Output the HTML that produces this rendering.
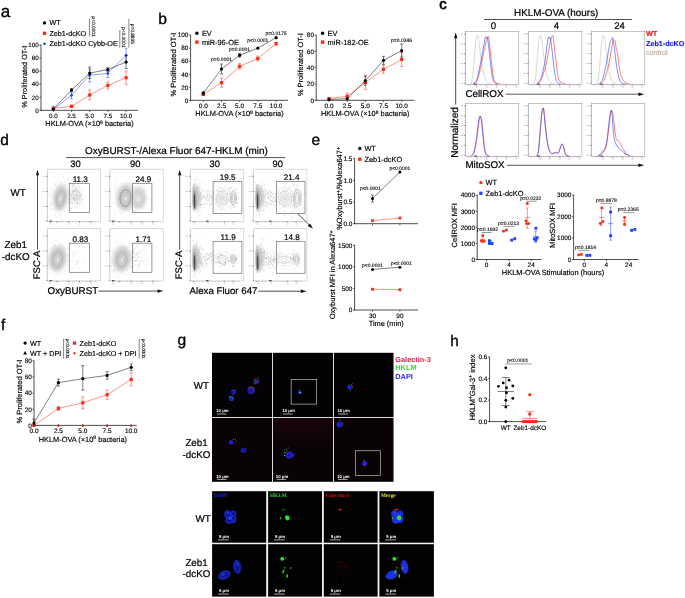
<!DOCTYPE html>
<html lang="en">
<head>
<meta charset="utf-8">
<title>Figure</title>
<style>
html,body{margin:0;padding:0;background:#fff;}
body{width:685px;height:598px;overflow:hidden;}
svg{display:block;}
svg text{font-family:"Liberation Sans",Arial,Helvetica,sans-serif;text-rendering:geometricPrecision;}
</style>
</head>
<body>
<svg width="685" height="598" viewBox="0 0 685 598">
<defs>
<filter id="bl" x="-50%" y="-50%" width="200%" height="200%"><feGaussianBlur stdDeviation="0.7"/></filter>
<filter id="bm" x="-50%" y="-50%" width="200%" height="200%"><feGaussianBlur stdDeviation="0.9"/></filter>
<filter id="bs" x="-100%" y="-100%" width="300%" height="300%"><feGaussianBlur stdDeviation="0.3"/></filter>
<linearGradient id="hz" x1="0" y1="0" x2="0" y2="1"><stop offset="0" stop-color="#3a0812" stop-opacity="0.3"/><stop offset="1" stop-color="#3a0812" stop-opacity="0"/></linearGradient>
</defs>
<rect x="0" y="0" width="685" height="598" fill="#fff"/>
<text x="0.8" y="16.8" font-size="17" text-anchor="start" fill="#000" stroke="#000" stroke-width="0.37" >a</text>
<text x="158.2" y="23.8" font-size="15.6" text-anchor="start" fill="#000" stroke="#000" stroke-width="0.34" >b</text>
<text x="439.3" y="9" font-size="14.8" text-anchor="start" fill="#000" stroke="#000" stroke-width="0.7" >c</text>
<text x="0.2" y="145" font-size="15.4" text-anchor="start" fill="#000" stroke="#000" stroke-width="0.34" >d</text>
<text x="311.4" y="144.6" font-size="15.6" text-anchor="start" fill="#000" stroke="#000" stroke-width="0.34" >e</text>
<text x="1" y="330.4" font-size="15.5" text-anchor="start" fill="#000" stroke="#000" stroke-width="0.34" >f</text>
<text x="177.6" y="345.4" font-size="15.6" text-anchor="start" fill="#000" stroke="#000" stroke-width="0.34" >g</text>
<text x="450.2" y="346.3" font-size="15.3" text-anchor="start" fill="#000" stroke="#000" stroke-width="0.34" >h</text>
<line x1="41" y1="44.7" x2="41" y2="110.7" stroke="#222" stroke-width="0.8" />
<line x1="40.6" y1="110.3" x2="138" y2="110.3" stroke="#222" stroke-width="0.8" />
<line x1="53.3" y1="110.3" x2="53.3" y2="111.9" stroke="#222" stroke-width="0.7" />
<text x="53.3" y="118.14" font-size="6.25" text-anchor="middle" fill="#000" stroke="#000" stroke-width="0.14" >0.0</text>
<line x1="71.5" y1="110.3" x2="71.5" y2="111.9" stroke="#222" stroke-width="0.7" />
<text x="71.5" y="118.14" font-size="6.25" text-anchor="middle" fill="#000" stroke="#000" stroke-width="0.14" >2.5</text>
<line x1="89.7" y1="110.3" x2="89.7" y2="111.9" stroke="#222" stroke-width="0.7" />
<text x="89.7" y="118.14" font-size="6.25" text-anchor="middle" fill="#000" stroke="#000" stroke-width="0.14" >5.0</text>
<line x1="107.8" y1="110.3" x2="107.8" y2="111.9" stroke="#222" stroke-width="0.7" />
<text x="107.8" y="118.14" font-size="6.25" text-anchor="middle" fill="#000" stroke="#000" stroke-width="0.14" >7.5</text>
<line x1="126.1" y1="110.3" x2="126.1" y2="111.9" stroke="#222" stroke-width="0.7" />
<text x="126.1" y="118.14" font-size="6.25" text-anchor="middle" fill="#000" stroke="#000" stroke-width="0.14" >10.0</text>
<line x1="39.4" y1="110.3" x2="41" y2="110.3" stroke="#222" stroke-width="0.7" />
<text x="38.8" y="112.54" font-size="6.25" text-anchor="end" fill="#000" stroke="#000" stroke-width="0.14" >0</text>
<line x1="39.4" y1="97.26" x2="41" y2="97.26" stroke="#222" stroke-width="0.7" />
<text x="38.8" y="99.5" font-size="6.25" text-anchor="end" fill="#000" stroke="#000" stroke-width="0.14" >20</text>
<line x1="39.4" y1="84.22" x2="41" y2="84.22" stroke="#222" stroke-width="0.7" />
<text x="38.8" y="86.46" font-size="6.25" text-anchor="end" fill="#000" stroke="#000" stroke-width="0.14" >40</text>
<line x1="39.4" y1="71.18" x2="41" y2="71.18" stroke="#222" stroke-width="0.7" />
<text x="38.8" y="73.42" font-size="6.25" text-anchor="end" fill="#000" stroke="#000" stroke-width="0.14" >60</text>
<line x1="39.4" y1="58.14" x2="41" y2="58.14" stroke="#222" stroke-width="0.7" />
<text x="38.8" y="60.38" font-size="6.25" text-anchor="end" fill="#000" stroke="#000" stroke-width="0.14" >80</text>
<line x1="39.4" y1="45.1" x2="41" y2="45.1" stroke="#222" stroke-width="0.7" />
<text x="38.8" y="47.34" font-size="6.25" text-anchor="end" fill="#000" stroke="#000" stroke-width="0.14" >100</text>
<text x="89.5" y="126.25" font-size="7.4" text-anchor="middle" fill="#000" stroke="#000" stroke-width="0.16" >HKLM-OVA (×10<tspan font-size="5.03" dy="-2.4">8</tspan><tspan dy="2.4"> bacteria)</tspan></text>
<text x="26.81" y="76.7" font-size="7.3" text-anchor="middle" fill="#000" stroke="#000" stroke-width="0.16" transform="rotate(-90 26.81 76.7)">% Proliferated OT-I</text>
<polyline points="53.3,108.34 71.5,106.39 89.7,94.98 107.8,85.52 126.1,77.7" fill="none" stroke="#fb2a14" stroke-width="0.5"/>
<line x1="53.3" y1="106.34" x2="53.3" y2="110.34" stroke="#fb2a14" stroke-width="0.5" />
<line x1="51.8" y1="106.34" x2="54.8" y2="106.34" stroke="#fb2a14" stroke-width="0.5" />
<line x1="51.8" y1="110.34" x2="54.8" y2="110.34" stroke="#fb2a14" stroke-width="0.5" />
<line x1="71.5" y1="105.19" x2="71.5" y2="107.59" stroke="#fb2a14" stroke-width="0.5" />
<line x1="70" y1="105.19" x2="73" y2="105.19" stroke="#fb2a14" stroke-width="0.5" />
<line x1="70" y1="107.59" x2="73" y2="107.59" stroke="#fb2a14" stroke-width="0.5" />
<line x1="89.7" y1="90.18" x2="89.7" y2="99.78" stroke="#fb2a14" stroke-width="0.5" />
<line x1="88.2" y1="90.18" x2="91.2" y2="90.18" stroke="#fb2a14" stroke-width="0.5" />
<line x1="88.2" y1="99.78" x2="91.2" y2="99.78" stroke="#fb2a14" stroke-width="0.5" />
<line x1="107.8" y1="81.92" x2="107.8" y2="89.12" stroke="#fb2a14" stroke-width="0.5" />
<line x1="106.3" y1="81.92" x2="109.3" y2="81.92" stroke="#fb2a14" stroke-width="0.5" />
<line x1="106.3" y1="89.12" x2="109.3" y2="89.12" stroke="#fb2a14" stroke-width="0.5" />
<line x1="126.1" y1="71.1" x2="126.1" y2="84.3" stroke="#fb2a14" stroke-width="0.5" />
<line x1="124.6" y1="71.1" x2="127.6" y2="71.1" stroke="#fb2a14" stroke-width="0.5" />
<line x1="124.6" y1="84.3" x2="127.6" y2="84.3" stroke="#fb2a14" stroke-width="0.5" />
<rect x="51.7" y="106.74" width="3.2" height="3.2" fill="#fb2a14" stroke="none" stroke-width="0.8" />
<rect x="69.9" y="104.79" width="3.2" height="3.2" fill="#fb2a14" stroke="none" stroke-width="0.8" />
<rect x="88.1" y="93.38" width="3.2" height="3.2" fill="#fb2a14" stroke="none" stroke-width="0.8" />
<rect x="106.2" y="83.92" width="3.2" height="3.2" fill="#fb2a14" stroke="none" stroke-width="0.8" />
<rect x="124.5" y="76.1" width="3.2" height="3.2" fill="#fb2a14" stroke="none" stroke-width="0.8" />
<polyline points="53.3,109.65 71.5,95.3 89.7,75.09 107.8,73.46 126.1,55.21" fill="none" stroke="#1f45ff" stroke-width="0.5"/>
<line x1="71.5" y1="91.8" x2="71.5" y2="98.8" stroke="#1f45ff" stroke-width="0.5" />
<line x1="70" y1="91.8" x2="73" y2="91.8" stroke="#1f45ff" stroke-width="0.5" />
<line x1="70" y1="98.8" x2="73" y2="98.8" stroke="#1f45ff" stroke-width="0.5" />
<line x1="89.7" y1="69.09" x2="89.7" y2="82.09" stroke="#1f45ff" stroke-width="0.5" />
<line x1="88.2" y1="69.09" x2="91.2" y2="69.09" stroke="#1f45ff" stroke-width="0.5" />
<line x1="88.2" y1="82.09" x2="91.2" y2="82.09" stroke="#1f45ff" stroke-width="0.5" />
<line x1="107.8" y1="70.46" x2="107.8" y2="77.46" stroke="#1f45ff" stroke-width="0.5" />
<line x1="106.3" y1="70.46" x2="109.3" y2="70.46" stroke="#1f45ff" stroke-width="0.5" />
<line x1="106.3" y1="77.46" x2="109.3" y2="77.46" stroke="#1f45ff" stroke-width="0.5" />
<line x1="126.1" y1="48.21" x2="126.1" y2="62.21" stroke="#1f45ff" stroke-width="0.5" />
<line x1="124.6" y1="48.21" x2="127.6" y2="48.21" stroke="#1f45ff" stroke-width="0.5" />
<line x1="124.6" y1="62.21" x2="127.6" y2="62.21" stroke="#1f45ff" stroke-width="0.5" />
<path d="M53.3 107.92L55.02 109.65L53.3 111.37L51.57 109.65Z" fill="#1f45ff" stroke="none" stroke-width="0.6" />
<path d="M71.5 93.58L73.22 95.3L71.5 97.03L69.78 95.3Z" fill="#1f45ff" stroke="none" stroke-width="0.6" />
<path d="M89.7 73.37L91.42 75.09L89.7 76.82L87.98 75.09Z" fill="#1f45ff" stroke="none" stroke-width="0.6" />
<path d="M107.8 71.74L109.52 73.46L107.8 75.19L106.08 73.46Z" fill="#1f45ff" stroke="none" stroke-width="0.6" />
<path d="M126.1 53.48L127.82 55.21L126.1 56.93L124.38 55.21Z" fill="#1f45ff" stroke="none" stroke-width="0.6" />
<polyline points="53.3,109 71.5,90.09 89.7,73.14 107.8,69.55 126.1,62.05" fill="none" stroke="#000" stroke-width="0.5"/>
<line x1="71.5" y1="88.59" x2="71.5" y2="91.59" stroke="#000" stroke-width="0.5" />
<line x1="70" y1="88.59" x2="73" y2="88.59" stroke="#000" stroke-width="0.5" />
<line x1="70" y1="91.59" x2="73" y2="91.59" stroke="#000" stroke-width="0.5" />
<line x1="89.7" y1="67.14" x2="89.7" y2="78.64" stroke="#000" stroke-width="0.5" />
<line x1="88.2" y1="67.14" x2="91.2" y2="67.14" stroke="#000" stroke-width="0.5" />
<line x1="88.2" y1="78.64" x2="91.2" y2="78.64" stroke="#000" stroke-width="0.5" />
<line x1="107.8" y1="67.75" x2="107.8" y2="71.35" stroke="#000" stroke-width="0.5" />
<line x1="106.3" y1="67.75" x2="109.3" y2="67.75" stroke="#000" stroke-width="0.5" />
<line x1="106.3" y1="71.35" x2="109.3" y2="71.35" stroke="#000" stroke-width="0.5" />
<line x1="126.1" y1="55.55" x2="126.1" y2="68.55" stroke="#000" stroke-width="0.5" />
<line x1="124.6" y1="55.55" x2="127.6" y2="55.55" stroke="#000" stroke-width="0.5" />
<line x1="124.6" y1="68.55" x2="127.6" y2="68.55" stroke="#000" stroke-width="0.5" />
<circle cx="53.3" cy="109" r="1.6" fill="#000" stroke="none" stroke-width="0" />
<circle cx="71.5" cy="90.09" r="1.6" fill="#000" stroke="none" stroke-width="0" />
<circle cx="89.7" cy="73.14" r="1.6" fill="#000" stroke="none" stroke-width="0" />
<circle cx="107.8" cy="69.55" r="1.6" fill="#000" stroke="none" stroke-width="0" />
<circle cx="126.1" cy="62.05" r="1.6" fill="#000" stroke="none" stroke-width="0" />
<circle cx="44.5" cy="22.9" r="1.7" fill="#000" stroke="none" stroke-width="0" />
<text x="49.4" y="25.48" font-size="7.2" text-anchor="start" fill="#000" stroke="#000" stroke-width="0.16" >WT</text>
<rect x="42.8" y="31.65" width="3.4" height="3.4" fill="#fb2a14" stroke="none" stroke-width="0.8" />
<text x="49.4" y="35.93" font-size="7.2" text-anchor="start" fill="#000" stroke="#000" stroke-width="0.16" >Zeb1-dcKO</text>
<path d="M44.5 42.13L46.17 43.8L44.5 45.47L42.83 43.8Z" fill="#1f45ff" stroke="none" stroke-width="0.6" />
<text x="49.4" y="46.38" font-size="7.2" text-anchor="start" fill="#000" stroke="#000" stroke-width="0.16" >Zeb1-dcKO Cybb-OE</text>
<line x1="89.4" y1="18.8" x2="89.4" y2="36.5" stroke="#333" stroke-width="0.6" />
<text x="91.78" y="26.6" font-size="4.8" text-anchor="middle" fill="#000" stroke="#000" stroke-width="0.11" transform="rotate(90 91.78 26.6)">p&lt;0.0001</text>
<line x1="119.8" y1="30.1" x2="119.8" y2="47.7" stroke="#333" stroke-width="0.6" />
<text x="121.58" y="37.3" font-size="4.8" text-anchor="middle" fill="#000" stroke="#000" stroke-width="0.11" transform="rotate(90 121.58 37.3)">p&lt;0.0001</text>
<line x1="128.9" y1="18.8" x2="128.9" y2="47.7" stroke="#333" stroke-width="0.6" />
<text x="131.28" y="33.8" font-size="4.8" text-anchor="middle" fill="#000" stroke="#000" stroke-width="0.11" transform="rotate(90 131.28 33.8)">p=0.8835</text>
<line x1="190.6" y1="34.7" x2="190.6" y2="100.7" stroke="#222" stroke-width="0.8" />
<line x1="190.2" y1="100.3" x2="288" y2="100.3" stroke="#222" stroke-width="0.8" />
<line x1="203.3" y1="100.3" x2="203.3" y2="101.9" stroke="#222" stroke-width="0.7" />
<text x="203.3" y="108.21" font-size="6.45" text-anchor="middle" fill="#000" stroke="#000" stroke-width="0.14" >0.0</text>
<line x1="221.5" y1="100.3" x2="221.5" y2="101.9" stroke="#222" stroke-width="0.7" />
<text x="221.5" y="108.21" font-size="6.45" text-anchor="middle" fill="#000" stroke="#000" stroke-width="0.14" >2.5</text>
<line x1="239.6" y1="100.3" x2="239.6" y2="101.9" stroke="#222" stroke-width="0.7" />
<text x="239.6" y="108.21" font-size="6.45" text-anchor="middle" fill="#000" stroke="#000" stroke-width="0.14" >5.0</text>
<line x1="257.8" y1="100.3" x2="257.8" y2="101.9" stroke="#222" stroke-width="0.7" />
<text x="257.8" y="108.21" font-size="6.45" text-anchor="middle" fill="#000" stroke="#000" stroke-width="0.14" >7.5</text>
<line x1="276.1" y1="100.3" x2="276.1" y2="101.9" stroke="#222" stroke-width="0.7" />
<text x="276.1" y="108.21" font-size="6.45" text-anchor="middle" fill="#000" stroke="#000" stroke-width="0.14" >10.0</text>
<line x1="189" y1="100.3" x2="190.6" y2="100.3" stroke="#222" stroke-width="0.7" />
<text x="188.4" y="102.61" font-size="6.45" text-anchor="end" fill="#000" stroke="#000" stroke-width="0.14" >0</text>
<line x1="189" y1="87.26" x2="190.6" y2="87.26" stroke="#222" stroke-width="0.7" />
<text x="188.4" y="89.57" font-size="6.45" text-anchor="end" fill="#000" stroke="#000" stroke-width="0.14" >20</text>
<line x1="189" y1="74.22" x2="190.6" y2="74.22" stroke="#222" stroke-width="0.7" />
<text x="188.4" y="76.53" font-size="6.45" text-anchor="end" fill="#000" stroke="#000" stroke-width="0.14" >40</text>
<line x1="189" y1="61.18" x2="190.6" y2="61.18" stroke="#222" stroke-width="0.7" />
<text x="188.4" y="63.49" font-size="6.45" text-anchor="end" fill="#000" stroke="#000" stroke-width="0.14" >60</text>
<line x1="189" y1="48.14" x2="190.6" y2="48.14" stroke="#222" stroke-width="0.7" />
<text x="188.4" y="50.45" font-size="6.45" text-anchor="end" fill="#000" stroke="#000" stroke-width="0.14" >80</text>
<line x1="189" y1="35.1" x2="190.6" y2="35.1" stroke="#222" stroke-width="0.7" />
<text x="188.4" y="37.41" font-size="6.45" text-anchor="end" fill="#000" stroke="#000" stroke-width="0.14" >100</text>
<text x="239.5" y="116.45" font-size="7.4" text-anchor="middle" fill="#000" stroke="#000" stroke-width="0.16" >HKLM-OVA (×10<tspan font-size="5.03" dy="-2.4">8</tspan><tspan dy="2.4"> bacteria)</tspan></text>
<text x="175.69" y="64.6" font-size="7.5" text-anchor="middle" fill="#000" stroke="#000" stroke-width="0.16" transform="rotate(-90 175.69 64.6)">% Proliferated OT-I</text>
<polyline points="203.3,94.43 221.5,82.7 239.6,66.4 257.8,58.57 276.1,43.58" fill="none" stroke="#fb2a14" stroke-width="0.5"/>
<line x1="203.3" y1="93.23" x2="203.3" y2="95.63" stroke="#fb2a14" stroke-width="0.5" />
<line x1="201.8" y1="93.23" x2="204.8" y2="93.23" stroke="#fb2a14" stroke-width="0.5" />
<line x1="201.8" y1="95.63" x2="204.8" y2="95.63" stroke="#fb2a14" stroke-width="0.5" />
<line x1="221.5" y1="78.2" x2="221.5" y2="87.2" stroke="#fb2a14" stroke-width="0.5" />
<line x1="220" y1="78.2" x2="223" y2="78.2" stroke="#fb2a14" stroke-width="0.5" />
<line x1="220" y1="87.2" x2="223" y2="87.2" stroke="#fb2a14" stroke-width="0.5" />
<line x1="239.6" y1="63.6" x2="239.6" y2="69.2" stroke="#fb2a14" stroke-width="0.5" />
<line x1="238.1" y1="63.6" x2="241.1" y2="63.6" stroke="#fb2a14" stroke-width="0.5" />
<line x1="238.1" y1="69.2" x2="241.1" y2="69.2" stroke="#fb2a14" stroke-width="0.5" />
<line x1="257.8" y1="56.07" x2="257.8" y2="61.07" stroke="#fb2a14" stroke-width="0.5" />
<line x1="256.3" y1="56.07" x2="259.3" y2="56.07" stroke="#fb2a14" stroke-width="0.5" />
<line x1="256.3" y1="61.07" x2="259.3" y2="61.07" stroke="#fb2a14" stroke-width="0.5" />
<line x1="276.1" y1="42.08" x2="276.1" y2="45.08" stroke="#fb2a14" stroke-width="0.5" />
<line x1="274.6" y1="42.08" x2="277.6" y2="42.08" stroke="#fb2a14" stroke-width="0.5" />
<line x1="274.6" y1="45.08" x2="277.6" y2="45.08" stroke="#fb2a14" stroke-width="0.5" />
<rect x="201.7" y="92.83" width="3.2" height="3.2" fill="#fb2a14" stroke="none" stroke-width="0.8" />
<rect x="219.9" y="81.1" width="3.2" height="3.2" fill="#fb2a14" stroke="none" stroke-width="0.8" />
<rect x="238" y="64.8" width="3.2" height="3.2" fill="#fb2a14" stroke="none" stroke-width="0.8" />
<rect x="256.2" y="56.97" width="3.2" height="3.2" fill="#fb2a14" stroke="none" stroke-width="0.8" />
<rect x="274.5" y="41.98" width="3.2" height="3.2" fill="#fb2a14" stroke="none" stroke-width="0.8" />
<polyline points="203.3,93.13 221.5,69 239.6,55.31 257.8,48.14 276.1,37.71" fill="none" stroke="#000" stroke-width="0.5"/>
<line x1="203.3" y1="91.63" x2="203.3" y2="94.63" stroke="#000" stroke-width="0.5" />
<line x1="201.8" y1="91.63" x2="204.8" y2="91.63" stroke="#000" stroke-width="0.5" />
<line x1="201.8" y1="94.63" x2="204.8" y2="94.63" stroke="#000" stroke-width="0.5" />
<line x1="221.5" y1="64" x2="221.5" y2="74" stroke="#000" stroke-width="0.5" />
<line x1="220" y1="64" x2="223" y2="64" stroke="#000" stroke-width="0.5" />
<line x1="220" y1="74" x2="223" y2="74" stroke="#000" stroke-width="0.5" />
<line x1="239.6" y1="53.51" x2="239.6" y2="57.11" stroke="#000" stroke-width="0.5" />
<line x1="238.1" y1="53.51" x2="241.1" y2="53.51" stroke="#000" stroke-width="0.5" />
<line x1="238.1" y1="57.11" x2="241.1" y2="57.11" stroke="#000" stroke-width="0.5" />
<circle cx="203.3" cy="93.13" r="1.6" fill="#000" stroke="none" stroke-width="0" />
<circle cx="221.5" cy="69" r="1.6" fill="#000" stroke="none" stroke-width="0" />
<circle cx="239.6" cy="55.31" r="1.6" fill="#000" stroke="none" stroke-width="0" />
<circle cx="257.8" cy="48.14" r="1.6" fill="#000" stroke="none" stroke-width="0" />
<circle cx="276.1" cy="37.71" r="1.6" fill="#000" stroke="none" stroke-width="0" />
<circle cx="196.9" cy="33.3" r="1.7" fill="#000" stroke="none" stroke-width="0" />
<text x="201.9" y="35.95" font-size="7.4" text-anchor="start" fill="#000" stroke="#000" stroke-width="0.16" >EV</text>
<rect x="195.2" y="40.4" width="3.4" height="3.4" fill="#fb2a14" stroke="none" stroke-width="0.8" />
<text x="201.9" y="44.75" font-size="7.4" text-anchor="start" fill="#000" stroke="#000" stroke-width="0.16" >miR-96-OE</text>
<text x="221.5" y="61.19" font-size="5" text-anchor="middle" fill="#000" stroke="#000" stroke-width="0.11" >p=0.0001</text>
<text x="239.5" y="51.19" font-size="5" text-anchor="middle" fill="#000" stroke="#000" stroke-width="0.11" >p=0.0001</text>
<text x="257.8" y="41.89" font-size="5" text-anchor="middle" fill="#000" stroke="#000" stroke-width="0.11" >p&lt;0.0001</text>
<text x="276.1" y="35.09" font-size="5" text-anchor="middle" fill="#000" stroke="#000" stroke-width="0.11" >p=0.0175</text>
<line x1="316.2" y1="34.7" x2="316.2" y2="100.7" stroke="#222" stroke-width="0.8" />
<line x1="315.8" y1="100.3" x2="414.2" y2="100.3" stroke="#222" stroke-width="0.8" />
<line x1="329" y1="100.3" x2="329" y2="101.9" stroke="#222" stroke-width="0.7" />
<text x="329" y="108.21" font-size="6.45" text-anchor="middle" fill="#000" stroke="#000" stroke-width="0.14" >0.0</text>
<line x1="347.2" y1="100.3" x2="347.2" y2="101.9" stroke="#222" stroke-width="0.7" />
<text x="347.2" y="108.21" font-size="6.45" text-anchor="middle" fill="#000" stroke="#000" stroke-width="0.14" >2.5</text>
<line x1="365.3" y1="100.3" x2="365.3" y2="101.9" stroke="#222" stroke-width="0.7" />
<text x="365.3" y="108.21" font-size="6.45" text-anchor="middle" fill="#000" stroke="#000" stroke-width="0.14" >5.0</text>
<line x1="383.5" y1="100.3" x2="383.5" y2="101.9" stroke="#222" stroke-width="0.7" />
<text x="383.5" y="108.21" font-size="6.45" text-anchor="middle" fill="#000" stroke="#000" stroke-width="0.14" >7.5</text>
<line x1="401.7" y1="100.3" x2="401.7" y2="101.9" stroke="#222" stroke-width="0.7" />
<text x="401.7" y="108.21" font-size="6.45" text-anchor="middle" fill="#000" stroke="#000" stroke-width="0.14" >10.0</text>
<line x1="314.6" y1="100.3" x2="316.2" y2="100.3" stroke="#222" stroke-width="0.7" />
<text x="314" y="102.61" font-size="6.45" text-anchor="end" fill="#000" stroke="#000" stroke-width="0.14" >0</text>
<line x1="314.6" y1="84" x2="316.2" y2="84" stroke="#222" stroke-width="0.7" />
<text x="314" y="86.31" font-size="6.45" text-anchor="end" fill="#000" stroke="#000" stroke-width="0.14" >20</text>
<line x1="314.6" y1="67.7" x2="316.2" y2="67.7" stroke="#222" stroke-width="0.7" />
<text x="314" y="70.01" font-size="6.45" text-anchor="end" fill="#000" stroke="#000" stroke-width="0.14" >40</text>
<line x1="314.6" y1="51.4" x2="316.2" y2="51.4" stroke="#222" stroke-width="0.7" />
<text x="314" y="53.71" font-size="6.45" text-anchor="end" fill="#000" stroke="#000" stroke-width="0.14" >60</text>
<line x1="314.6" y1="35.1" x2="316.2" y2="35.1" stroke="#222" stroke-width="0.7" />
<text x="314" y="37.41" font-size="6.45" text-anchor="end" fill="#000" stroke="#000" stroke-width="0.14" >80</text>
<text x="365.2" y="116.45" font-size="7.4" text-anchor="middle" fill="#000" stroke="#000" stroke-width="0.16" >HKLM-OVA (×10<tspan font-size="5.03" dy="-2.4">8</tspan><tspan dy="2.4"> bacteria)</tspan></text>
<text x="303.35" y="64.6" font-size="7.4" text-anchor="middle" fill="#000" stroke="#000" stroke-width="0.16" transform="rotate(-90 303.35 64.6)">% Proliferated OT-I</text>
<polyline points="329,98.67 347.2,96.22 365.3,82.37 383.5,69.33 401.7,59.55" fill="none" stroke="#fb2a14" stroke-width="0.5"/>
<line x1="329" y1="97.47" x2="329" y2="99.87" stroke="#fb2a14" stroke-width="0.5" />
<line x1="327.5" y1="97.47" x2="330.5" y2="97.47" stroke="#fb2a14" stroke-width="0.5" />
<line x1="327.5" y1="99.87" x2="330.5" y2="99.87" stroke="#fb2a14" stroke-width="0.5" />
<line x1="347.2" y1="93.02" x2="347.2" y2="99.42" stroke="#fb2a14" stroke-width="0.5" />
<line x1="345.7" y1="93.02" x2="348.7" y2="93.02" stroke="#fb2a14" stroke-width="0.5" />
<line x1="345.7" y1="99.42" x2="348.7" y2="99.42" stroke="#fb2a14" stroke-width="0.5" />
<line x1="365.3" y1="75.37" x2="365.3" y2="89.37" stroke="#fb2a14" stroke-width="0.5" />
<line x1="363.8" y1="75.37" x2="366.8" y2="75.37" stroke="#fb2a14" stroke-width="0.5" />
<line x1="363.8" y1="89.37" x2="366.8" y2="89.37" stroke="#fb2a14" stroke-width="0.5" />
<line x1="383.5" y1="65.33" x2="383.5" y2="73.33" stroke="#fb2a14" stroke-width="0.5" />
<line x1="382" y1="65.33" x2="385" y2="65.33" stroke="#fb2a14" stroke-width="0.5" />
<line x1="382" y1="73.33" x2="385" y2="73.33" stroke="#fb2a14" stroke-width="0.5" />
<line x1="401.7" y1="52.55" x2="401.7" y2="66.55" stroke="#fb2a14" stroke-width="0.5" />
<line x1="400.2" y1="52.55" x2="403.2" y2="52.55" stroke="#fb2a14" stroke-width="0.5" />
<line x1="400.2" y1="66.55" x2="403.2" y2="66.55" stroke="#fb2a14" stroke-width="0.5" />
<rect x="327.4" y="97.07" width="3.2" height="3.2" fill="#fb2a14" stroke="none" stroke-width="0.8" />
<rect x="345.6" y="94.62" width="3.2" height="3.2" fill="#fb2a14" stroke="none" stroke-width="0.8" />
<rect x="363.7" y="80.77" width="3.2" height="3.2" fill="#fb2a14" stroke="none" stroke-width="0.8" />
<rect x="381.9" y="67.73" width="3.2" height="3.2" fill="#fb2a14" stroke="none" stroke-width="0.8" />
<rect x="400.1" y="57.95" width="3.2" height="3.2" fill="#fb2a14" stroke="none" stroke-width="0.8" />
<polyline points="329,99.48 347.2,98.67 365.3,80.74 383.5,60.37 401.7,50.59" fill="none" stroke="#000" stroke-width="0.5"/>
<line x1="365.3" y1="76.24" x2="365.3" y2="85.24" stroke="#000" stroke-width="0.5" />
<line x1="363.8" y1="76.24" x2="366.8" y2="76.24" stroke="#000" stroke-width="0.5" />
<line x1="363.8" y1="85.24" x2="366.8" y2="85.24" stroke="#000" stroke-width="0.5" />
<line x1="383.5" y1="56.37" x2="383.5" y2="64.37" stroke="#000" stroke-width="0.5" />
<line x1="382" y1="56.37" x2="385" y2="56.37" stroke="#000" stroke-width="0.5" />
<line x1="382" y1="64.37" x2="385" y2="64.37" stroke="#000" stroke-width="0.5" />
<line x1="401.7" y1="44.09" x2="401.7" y2="57.09" stroke="#000" stroke-width="0.5" />
<line x1="400.2" y1="44.09" x2="403.2" y2="44.09" stroke="#000" stroke-width="0.5" />
<line x1="400.2" y1="57.09" x2="403.2" y2="57.09" stroke="#000" stroke-width="0.5" />
<circle cx="329" cy="99.48" r="1.6" fill="#000" stroke="none" stroke-width="0" />
<circle cx="347.2" cy="98.67" r="1.6" fill="#000" stroke="none" stroke-width="0" />
<circle cx="365.3" cy="80.74" r="1.6" fill="#000" stroke="none" stroke-width="0" />
<circle cx="383.5" cy="60.37" r="1.6" fill="#000" stroke="none" stroke-width="0" />
<circle cx="401.7" cy="50.59" r="1.6" fill="#000" stroke="none" stroke-width="0" />
<circle cx="322.6" cy="33.3" r="1.7" fill="#000" stroke="none" stroke-width="0" />
<text x="327.6" y="35.95" font-size="7.4" text-anchor="start" fill="#000" stroke="#000" stroke-width="0.16" >EV</text>
<rect x="320.9" y="40.4" width="3.4" height="3.4" fill="#fb2a14" stroke="none" stroke-width="0.8" />
<text x="327.6" y="44.75" font-size="7.4" text-anchor="start" fill="#000" stroke="#000" stroke-width="0.16" >miR-182-OE</text>
<text x="401.6" y="41.89" font-size="5" text-anchor="middle" fill="#000" stroke="#000" stroke-width="0.11" >p=0.0346</text>
<text x="556.2" y="16.14" font-size="9.9" text-anchor="middle" fill="#000" stroke="#000" stroke-width="0.22" >HKLM-OVA (hours)</text>
<line x1="484" y1="19.5" x2="632" y2="19.5" stroke="#222" stroke-width="0.8" />
<text x="493.5" y="29.34" font-size="9.6" text-anchor="middle" fill="#000" stroke="#000" stroke-width="0.21" >0</text>
<text x="556.4" y="29.34" font-size="9.6" text-anchor="middle" fill="#000" stroke="#000" stroke-width="0.21" >4</text>
<text x="619.6" y="29.34" font-size="9.6" text-anchor="middle" fill="#000" stroke="#000" stroke-width="0.21" >24</text>
<line x1="455.7" y1="36.5" x2="455.7" y2="104.5" stroke="#222" stroke-width="0.8" />
<path d="M455.7 32.4L457.4 38.2L454.0 38.2Z" fill="#111" stroke="none" stroke-width="0.6" />
<text x="457.88" y="132.4" font-size="10" text-anchor="middle" fill="#000" stroke="#000" stroke-width="0.22" transform="rotate(-90 457.88 132.4)">Normalized</text>
<text x="465.4" y="97.11" font-size="9.8" text-anchor="start" fill="#000" stroke="#000" stroke-width="0.22" >CellROX</text>
<line x1="505.5" y1="94.2" x2="640" y2="94.2" stroke="#333" stroke-width="0.8" />
<path d="M644.2 94.2L638.4 92.5L638.4 95.9Z" fill="#111" stroke="none" stroke-width="0.6" />
<text x="465.4" y="168.31" font-size="9.8" text-anchor="start" fill="#000" stroke="#000" stroke-width="0.22" >MitoSOX</text>
<line x1="506.8" y1="165.3" x2="640" y2="165.3" stroke="#333" stroke-width="0.8" />
<path d="M644.2 165.3L638.4 163.6L638.4 167Z" fill="#111" stroke="none" stroke-width="0.6" />
<rect x="465.4" y="31.5" width="53.4" height="53" fill="none" stroke="#8a8a8a" stroke-width="0.5" />
<line x1="464.1" y1="33.9" x2="465.4" y2="33.9" stroke="#333" stroke-width="0.5" />
<line x1="460.6" y1="33.9" x2="463.2" y2="33.9" stroke="#b4b4b4" stroke-width="0.7" />
<line x1="464.1" y1="43.78" x2="465.4" y2="43.78" stroke="#333" stroke-width="0.5" />
<line x1="460.6" y1="43.78" x2="463.2" y2="43.78" stroke="#b4b4b4" stroke-width="0.7" />
<line x1="464.1" y1="53.66" x2="465.4" y2="53.66" stroke="#333" stroke-width="0.5" />
<line x1="460.6" y1="53.66" x2="463.2" y2="53.66" stroke="#b4b4b4" stroke-width="0.7" />
<line x1="464.1" y1="63.54" x2="465.4" y2="63.54" stroke="#333" stroke-width="0.5" />
<line x1="460.6" y1="63.54" x2="463.2" y2="63.54" stroke="#b4b4b4" stroke-width="0.7" />
<line x1="464.1" y1="73.42" x2="465.4" y2="73.42" stroke="#333" stroke-width="0.5" />
<line x1="460.6" y1="73.42" x2="463.2" y2="73.42" stroke="#b4b4b4" stroke-width="0.7" />
<line x1="464.1" y1="83.3" x2="465.4" y2="83.3" stroke="#333" stroke-width="0.5" />
<line x1="460.6" y1="83.3" x2="463.2" y2="83.3" stroke="#b4b4b4" stroke-width="0.7" />
<line x1="476.4" y1="84.5" x2="476.4" y2="85.7" stroke="#333" stroke-width="0.5" />
<line x1="475.8" y1="87.5" x2="478" y2="86.7" stroke="#b4b4b4" stroke-width="0.7" />
<line x1="486.3" y1="84.5" x2="486.3" y2="85.7" stroke="#333" stroke-width="0.5" />
<line x1="485.7" y1="87.5" x2="487.9" y2="86.7" stroke="#b4b4b4" stroke-width="0.7" />
<line x1="496.2" y1="84.5" x2="496.2" y2="85.7" stroke="#333" stroke-width="0.5" />
<line x1="495.6" y1="87.5" x2="497.8" y2="86.7" stroke="#b4b4b4" stroke-width="0.7" />
<line x1="506.1" y1="84.5" x2="506.1" y2="85.7" stroke="#333" stroke-width="0.5" />
<line x1="505.5" y1="87.5" x2="507.7" y2="86.7" stroke="#b4b4b4" stroke-width="0.7" />
<line x1="516" y1="84.5" x2="516" y2="85.7" stroke="#333" stroke-width="0.5" />
<line x1="515.4" y1="87.5" x2="517.6" y2="86.7" stroke="#b4b4b4" stroke-width="0.7" />
<line x1="474" y1="84.1" x2="477" y2="84.1" stroke="#222" stroke-width="0.9" />
<line x1="466.9" y1="85" x2="515.8" y2="85" stroke="#666" stroke-width="0.7" stroke-dasharray="0.35 1.1"/>
<line x1="464.9" y1="34.5" x2="464.9" y2="82.5" stroke="#777" stroke-width="0.6" stroke-dasharray="0.35 1.4"/>
<line x1="466.4" y1="84.09" x2="517.8" y2="84.09" stroke="#e2c4e6" stroke-width="0.4" />
<path d="M470.37 84.09C470.57 83.72 471.23 83.14 471.61 81.91C471.99 80.68 472.25 80.01 472.65 76.72C473.05 73.44 473.51 67.91 474 62.21C474.48 56.51 475.12 46.66 475.55 42.51C475.98 38.37 476.28 38.51 476.59 37.33C476.9 36.16 477.12 35.38 477.42 35.46C477.71 35.55 478 36.16 478.35 37.85C478.7 39.54 479.01 42 479.49 45.62C479.97 49.25 480.61 55.13 481.25 59.62C481.89 64.11 482.55 69.12 483.33 72.58C484.1 76.03 484.97 78.49 485.92 80.35C486.87 82.22 488.16 83.15 489.03 83.77C489.89 84.4 490.76 84.03 491.1 84.09" fill="none" stroke="#9c9c9c" stroke-width="0.4" stroke-linejoin="round"/>
<path d="M473.48 84.09C473.82 83.86 474.86 83.53 475.55 82.74C476.24 81.94 476.85 81.53 477.62 79.32C478.4 77.1 479.35 73.18 480.22 69.47C481.08 65.75 481.94 61.09 482.81 57.03C483.67 52.97 484.79 47.87 485.4 45.11C486 42.34 486.14 41.48 486.44 40.44C486.73 39.4 486.87 39.58 487.16 38.89C487.46 38.19 487.85 35.95 488.2 36.29C488.54 36.64 488.89 38.54 489.23 40.96C489.58 43.38 489.87 47.09 490.27 50.81C490.67 54.52 491.17 59.27 491.62 63.25C492.07 67.22 492.5 71.75 492.97 74.65C493.43 77.55 493.87 79.28 494.42 80.66C494.97 82.05 495.37 82.37 496.28 82.95C497.2 83.52 499.31 83.9 499.91 84.09" fill="none" stroke="#fb2a14" stroke-width="0.6" stroke-linejoin="round"/>
<path d="M472.96 84.09C473.3 83.81 474.34 83.31 475.03 82.43C475.72 81.55 476.41 80.96 477.11 78.8C477.8 76.64 478.4 73.1 479.18 69.47C479.96 65.84 480.99 61 481.77 57.03C482.55 53.05 483.24 48.99 483.84 45.62C484.45 42.25 484.95 38.02 485.4 36.81C485.85 35.6 486.19 38.19 486.54 38.37C486.89 38.54 487.14 36.64 487.47 37.85C487.8 39.06 488.08 42.08 488.51 45.62C488.94 49.17 489.55 54.61 490.06 59.1C490.58 63.59 491.1 69.04 491.62 72.58C492.14 76.12 492.66 78.66 493.17 80.35C493.69 82.05 494.04 82.13 494.73 82.74C495.42 83.34 496.89 83.77 497.32 83.98" fill="none" stroke="#1f45ff" stroke-width="0.6" stroke-linejoin="round"/>
<rect x="528.5" y="31.5" width="53.4" height="53" fill="none" stroke="#8a8a8a" stroke-width="0.5" />
<line x1="527.2" y1="33.9" x2="528.5" y2="33.9" stroke="#333" stroke-width="0.5" />
<line x1="523.7" y1="33.9" x2="526.3" y2="33.9" stroke="#b4b4b4" stroke-width="0.7" />
<line x1="527.2" y1="43.78" x2="528.5" y2="43.78" stroke="#333" stroke-width="0.5" />
<line x1="523.7" y1="43.78" x2="526.3" y2="43.78" stroke="#b4b4b4" stroke-width="0.7" />
<line x1="527.2" y1="53.66" x2="528.5" y2="53.66" stroke="#333" stroke-width="0.5" />
<line x1="523.7" y1="53.66" x2="526.3" y2="53.66" stroke="#b4b4b4" stroke-width="0.7" />
<line x1="527.2" y1="63.54" x2="528.5" y2="63.54" stroke="#333" stroke-width="0.5" />
<line x1="523.7" y1="63.54" x2="526.3" y2="63.54" stroke="#b4b4b4" stroke-width="0.7" />
<line x1="527.2" y1="73.42" x2="528.5" y2="73.42" stroke="#333" stroke-width="0.5" />
<line x1="523.7" y1="73.42" x2="526.3" y2="73.42" stroke="#b4b4b4" stroke-width="0.7" />
<line x1="527.2" y1="83.3" x2="528.5" y2="83.3" stroke="#333" stroke-width="0.5" />
<line x1="523.7" y1="83.3" x2="526.3" y2="83.3" stroke="#b4b4b4" stroke-width="0.7" />
<line x1="539.5" y1="84.5" x2="539.5" y2="85.7" stroke="#333" stroke-width="0.5" />
<line x1="538.9" y1="87.5" x2="541.1" y2="86.7" stroke="#b4b4b4" stroke-width="0.7" />
<line x1="549.4" y1="84.5" x2="549.4" y2="85.7" stroke="#333" stroke-width="0.5" />
<line x1="548.8" y1="87.5" x2="551" y2="86.7" stroke="#b4b4b4" stroke-width="0.7" />
<line x1="559.3" y1="84.5" x2="559.3" y2="85.7" stroke="#333" stroke-width="0.5" />
<line x1="558.7" y1="87.5" x2="560.9" y2="86.7" stroke="#b4b4b4" stroke-width="0.7" />
<line x1="569.2" y1="84.5" x2="569.2" y2="85.7" stroke="#333" stroke-width="0.5" />
<line x1="568.6" y1="87.5" x2="570.8" y2="86.7" stroke="#b4b4b4" stroke-width="0.7" />
<line x1="579.1" y1="84.5" x2="579.1" y2="85.7" stroke="#333" stroke-width="0.5" />
<line x1="578.5" y1="87.5" x2="580.7" y2="86.7" stroke="#b4b4b4" stroke-width="0.7" />
<line x1="537.1" y1="84.1" x2="540.1" y2="84.1" stroke="#222" stroke-width="0.9" />
<line x1="530" y1="85" x2="578.9" y2="85" stroke="#666" stroke-width="0.7" stroke-dasharray="0.35 1.1"/>
<line x1="528" y1="34.5" x2="528" y2="82.5" stroke="#777" stroke-width="0.6" stroke-dasharray="0.35 1.4"/>
<line x1="529.5" y1="84.09" x2="580.9" y2="84.09" stroke="#e2c4e6" stroke-width="0.4" />
<path d="M533.37 84.09C533.57 83.72 534.23 83.14 534.61 81.91C534.99 80.68 535.25 80.01 535.65 76.72C536.05 73.44 536.51 67.91 537 62.21C537.48 56.51 538.12 46.66 538.55 42.51C538.98 38.37 539.28 38.51 539.59 37.33C539.9 36.16 540.12 35.38 540.42 35.46C540.71 35.55 541 36.16 541.35 37.85C541.7 39.54 542.01 42 542.49 45.62C542.97 49.25 543.61 55.13 544.25 59.62C544.89 64.11 545.55 69.12 546.33 72.58C547.1 76.03 547.97 78.49 548.92 80.35C549.87 82.22 551.16 83.15 552.03 83.77C552.89 84.4 553.76 84.03 554.1 84.09" fill="none" stroke="#9c9c9c" stroke-width="0.4" stroke-linejoin="round"/>
<path d="M537 84.09C537.34 83.86 538.29 83.62 539.07 82.74C539.85 81.86 540.62 81.36 541.66 78.8C542.7 76.24 544.25 71.37 545.29 67.39C546.33 63.42 547.07 59.1 547.88 54.95C548.69 50.81 549.56 45.36 550.16 42.51C550.77 39.66 551.11 39.02 551.51 37.85C551.91 36.67 552.23 35.38 552.55 35.46C552.86 35.55 553.12 36.85 553.38 38.37C553.63 39.89 553.77 41.65 554.1 44.59C554.43 47.52 554.86 51.84 555.35 55.99C555.83 60.14 556.43 65.49 557 69.47C557.57 73.44 558.13 77.73 558.77 79.83C559.41 81.94 560.23 81.6 560.84 82.12C561.44 82.63 561.62 82.62 562.39 82.95C563.17 83.27 564.99 83.9 565.5 84.09" fill="none" stroke="#fb2a14" stroke-width="0.6" stroke-linejoin="round"/>
<path d="M536.48 84.09C536.82 83.81 537.77 83.48 538.55 82.43C539.33 81.37 540.36 79.92 541.14 77.76C541.92 75.6 542.58 72.23 543.22 69.47C543.85 66.7 544.37 64.98 544.98 61.17C545.58 57.37 546.27 50.63 546.84 46.66C547.41 42.69 547.98 38.71 548.4 37.33C548.81 35.95 549.04 38.33 549.33 38.37C549.63 38.4 549.8 36.33 550.16 37.54C550.52 38.75 551.03 42.03 551.51 45.62C551.99 49.22 552.55 54.61 553.06 59.1C553.58 63.59 554.1 69.04 554.62 72.58C555.14 76.12 555.57 78.59 556.17 80.35C556.78 82.12 557.47 82.55 558.25 83.15C559.03 83.76 560.41 83.84 560.84 83.98" fill="none" stroke="#1f45ff" stroke-width="0.6" stroke-linejoin="round"/>
<rect x="591.4" y="31.5" width="53.4" height="53" fill="none" stroke="#8a8a8a" stroke-width="0.5" />
<line x1="590.1" y1="33.9" x2="591.4" y2="33.9" stroke="#333" stroke-width="0.5" />
<line x1="586.6" y1="33.9" x2="589.2" y2="33.9" stroke="#b4b4b4" stroke-width="0.7" />
<line x1="590.1" y1="43.78" x2="591.4" y2="43.78" stroke="#333" stroke-width="0.5" />
<line x1="586.6" y1="43.78" x2="589.2" y2="43.78" stroke="#b4b4b4" stroke-width="0.7" />
<line x1="590.1" y1="53.66" x2="591.4" y2="53.66" stroke="#333" stroke-width="0.5" />
<line x1="586.6" y1="53.66" x2="589.2" y2="53.66" stroke="#b4b4b4" stroke-width="0.7" />
<line x1="590.1" y1="63.54" x2="591.4" y2="63.54" stroke="#333" stroke-width="0.5" />
<line x1="586.6" y1="63.54" x2="589.2" y2="63.54" stroke="#b4b4b4" stroke-width="0.7" />
<line x1="590.1" y1="73.42" x2="591.4" y2="73.42" stroke="#333" stroke-width="0.5" />
<line x1="586.6" y1="73.42" x2="589.2" y2="73.42" stroke="#b4b4b4" stroke-width="0.7" />
<line x1="590.1" y1="83.3" x2="591.4" y2="83.3" stroke="#333" stroke-width="0.5" />
<line x1="586.6" y1="83.3" x2="589.2" y2="83.3" stroke="#b4b4b4" stroke-width="0.7" />
<line x1="602.4" y1="84.5" x2="602.4" y2="85.7" stroke="#333" stroke-width="0.5" />
<line x1="601.8" y1="87.5" x2="604" y2="86.7" stroke="#b4b4b4" stroke-width="0.7" />
<line x1="612.3" y1="84.5" x2="612.3" y2="85.7" stroke="#333" stroke-width="0.5" />
<line x1="611.7" y1="87.5" x2="613.9" y2="86.7" stroke="#b4b4b4" stroke-width="0.7" />
<line x1="622.2" y1="84.5" x2="622.2" y2="85.7" stroke="#333" stroke-width="0.5" />
<line x1="621.6" y1="87.5" x2="623.8" y2="86.7" stroke="#b4b4b4" stroke-width="0.7" />
<line x1="632.1" y1="84.5" x2="632.1" y2="85.7" stroke="#333" stroke-width="0.5" />
<line x1="631.5" y1="87.5" x2="633.7" y2="86.7" stroke="#b4b4b4" stroke-width="0.7" />
<line x1="642" y1="84.5" x2="642" y2="85.7" stroke="#333" stroke-width="0.5" />
<line x1="641.4" y1="87.5" x2="643.6" y2="86.7" stroke="#b4b4b4" stroke-width="0.7" />
<line x1="600" y1="84.1" x2="603" y2="84.1" stroke="#222" stroke-width="0.9" />
<line x1="592.9" y1="85" x2="641.8" y2="85" stroke="#666" stroke-width="0.7" stroke-dasharray="0.35 1.1"/>
<line x1="590.9" y1="34.5" x2="590.9" y2="82.5" stroke="#777" stroke-width="0.6" stroke-dasharray="0.35 1.4"/>
<line x1="592.4" y1="84.09" x2="643.8" y2="84.09" stroke="#e2c4e6" stroke-width="0.4" />
<path d="M596.37 84.09C596.57 83.72 597.23 83.14 597.61 81.91C597.99 80.68 598.25 80.01 598.65 76.72C599.05 73.44 599.51 67.91 600 62.21C600.48 56.51 601.12 46.66 601.55 42.51C601.98 38.37 602.28 38.51 602.59 37.33C602.9 36.16 603.12 35.38 603.42 35.46C603.71 35.55 604 36.16 604.35 37.85C604.7 39.54 605.01 42 605.49 45.62C605.97 49.25 606.61 55.13 607.25 59.62C607.89 64.11 608.55 69.12 609.33 72.58C610.1 76.03 610.97 78.49 611.92 80.35C612.87 82.22 614.16 83.15 615.03 83.77C615.89 84.4 616.76 84.03 617.1 84.09" fill="none" stroke="#9c9c9c" stroke-width="0.4" stroke-linejoin="round"/>
<path d="M600 84.09C600.43 83.72 601.81 82.79 602.59 81.91C603.36 81.03 603.8 81.04 604.66 78.8C605.52 76.55 606.82 72.23 607.77 68.43C608.72 64.63 609.58 60.14 610.36 55.99C611.14 51.84 611.92 46.18 612.44 43.55C612.95 40.92 613.18 40.84 613.47 40.23C613.77 39.63 613.9 39.71 614.2 39.92C614.49 40.13 614.89 40.01 615.23 41.48C615.58 42.95 615.96 47.09 616.27 48.73C616.58 50.38 616.79 49.77 617.1 51.33C617.41 52.88 617.71 55.04 618.14 58.06C618.57 61.09 619.09 66.19 619.69 69.47C620.3 72.75 620.9 75.69 621.77 77.76C622.63 79.83 623.93 80.96 624.88 81.91C625.83 82.86 626.69 83.1 627.47 83.46C628.25 83.83 629.2 83.98 629.54 84.09" fill="none" stroke="#fb2a14" stroke-width="0.6" stroke-linejoin="round"/>
<path d="M598.96 84.09C599.3 83.72 600.34 82.96 601.03 81.91C601.72 80.85 602.24 80.7 603.11 77.76C603.97 74.82 605.35 68.6 606.22 64.28C607.08 59.96 607.6 55.65 608.29 51.84C608.98 48.04 609.81 43.52 610.36 41.48C610.92 39.44 611.26 40.27 611.61 39.61C611.95 38.95 612.18 37.31 612.44 37.54C612.7 37.76 612.87 39.44 613.16 40.96C613.46 42.48 613.71 43.12 614.2 46.66C614.68 50.2 615.41 57.55 616.06 62.21C616.72 66.88 617.45 71.45 618.14 74.65C618.83 77.85 619.43 79.92 620.21 81.39C620.99 82.86 621.85 83.01 622.8 83.46C623.75 83.91 625.39 83.98 625.91 84.09" fill="none" stroke="#1f45ff" stroke-width="0.6" stroke-linejoin="round"/>
<rect x="465.4" y="103.4" width="53.4" height="53" fill="none" stroke="#8a8a8a" stroke-width="0.5" />
<line x1="464.1" y1="105.8" x2="465.4" y2="105.8" stroke="#333" stroke-width="0.5" />
<line x1="460.6" y1="105.8" x2="463.2" y2="105.8" stroke="#b4b4b4" stroke-width="0.7" />
<line x1="464.1" y1="115.68" x2="465.4" y2="115.68" stroke="#333" stroke-width="0.5" />
<line x1="460.6" y1="115.68" x2="463.2" y2="115.68" stroke="#b4b4b4" stroke-width="0.7" />
<line x1="464.1" y1="125.56" x2="465.4" y2="125.56" stroke="#333" stroke-width="0.5" />
<line x1="460.6" y1="125.56" x2="463.2" y2="125.56" stroke="#b4b4b4" stroke-width="0.7" />
<line x1="464.1" y1="135.44" x2="465.4" y2="135.44" stroke="#333" stroke-width="0.5" />
<line x1="460.6" y1="135.44" x2="463.2" y2="135.44" stroke="#b4b4b4" stroke-width="0.7" />
<line x1="464.1" y1="145.32" x2="465.4" y2="145.32" stroke="#333" stroke-width="0.5" />
<line x1="460.6" y1="145.32" x2="463.2" y2="145.32" stroke="#b4b4b4" stroke-width="0.7" />
<line x1="464.1" y1="155.2" x2="465.4" y2="155.2" stroke="#333" stroke-width="0.5" />
<line x1="460.6" y1="155.2" x2="463.2" y2="155.2" stroke="#b4b4b4" stroke-width="0.7" />
<line x1="476.4" y1="156.4" x2="476.4" y2="157.6" stroke="#333" stroke-width="0.5" />
<line x1="475.8" y1="159.4" x2="478" y2="158.6" stroke="#b4b4b4" stroke-width="0.7" />
<line x1="486.3" y1="156.4" x2="486.3" y2="157.6" stroke="#333" stroke-width="0.5" />
<line x1="485.7" y1="159.4" x2="487.9" y2="158.6" stroke="#b4b4b4" stroke-width="0.7" />
<line x1="496.2" y1="156.4" x2="496.2" y2="157.6" stroke="#333" stroke-width="0.5" />
<line x1="495.6" y1="159.4" x2="497.8" y2="158.6" stroke="#b4b4b4" stroke-width="0.7" />
<line x1="506.1" y1="156.4" x2="506.1" y2="157.6" stroke="#333" stroke-width="0.5" />
<line x1="505.5" y1="159.4" x2="507.7" y2="158.6" stroke="#b4b4b4" stroke-width="0.7" />
<line x1="516" y1="156.4" x2="516" y2="157.6" stroke="#333" stroke-width="0.5" />
<line x1="515.4" y1="159.4" x2="517.6" y2="158.6" stroke="#b4b4b4" stroke-width="0.7" />
<line x1="474" y1="156" x2="477" y2="156" stroke="#222" stroke-width="0.9" />
<line x1="466.9" y1="156.9" x2="515.8" y2="156.9" stroke="#666" stroke-width="0.7" stroke-dasharray="0.35 1.1"/>
<line x1="464.9" y1="106.4" x2="464.9" y2="154.4" stroke="#777" stroke-width="0.6" stroke-dasharray="0.35 1.4"/>
<line x1="466.4" y1="156.09" x2="517.8" y2="156.09" stroke="#e2c4e6" stroke-width="0.4" />
<rect x="528.5" y="103.4" width="53.4" height="53" fill="none" stroke="#8a8a8a" stroke-width="0.5" />
<line x1="527.2" y1="105.8" x2="528.5" y2="105.8" stroke="#333" stroke-width="0.5" />
<line x1="523.7" y1="105.8" x2="526.3" y2="105.8" stroke="#b4b4b4" stroke-width="0.7" />
<line x1="527.2" y1="115.68" x2="528.5" y2="115.68" stroke="#333" stroke-width="0.5" />
<line x1="523.7" y1="115.68" x2="526.3" y2="115.68" stroke="#b4b4b4" stroke-width="0.7" />
<line x1="527.2" y1="125.56" x2="528.5" y2="125.56" stroke="#333" stroke-width="0.5" />
<line x1="523.7" y1="125.56" x2="526.3" y2="125.56" stroke="#b4b4b4" stroke-width="0.7" />
<line x1="527.2" y1="135.44" x2="528.5" y2="135.44" stroke="#333" stroke-width="0.5" />
<line x1="523.7" y1="135.44" x2="526.3" y2="135.44" stroke="#b4b4b4" stroke-width="0.7" />
<line x1="527.2" y1="145.32" x2="528.5" y2="145.32" stroke="#333" stroke-width="0.5" />
<line x1="523.7" y1="145.32" x2="526.3" y2="145.32" stroke="#b4b4b4" stroke-width="0.7" />
<line x1="527.2" y1="155.2" x2="528.5" y2="155.2" stroke="#333" stroke-width="0.5" />
<line x1="523.7" y1="155.2" x2="526.3" y2="155.2" stroke="#b4b4b4" stroke-width="0.7" />
<line x1="539.5" y1="156.4" x2="539.5" y2="157.6" stroke="#333" stroke-width="0.5" />
<line x1="538.9" y1="159.4" x2="541.1" y2="158.6" stroke="#b4b4b4" stroke-width="0.7" />
<line x1="549.4" y1="156.4" x2="549.4" y2="157.6" stroke="#333" stroke-width="0.5" />
<line x1="548.8" y1="159.4" x2="551" y2="158.6" stroke="#b4b4b4" stroke-width="0.7" />
<line x1="559.3" y1="156.4" x2="559.3" y2="157.6" stroke="#333" stroke-width="0.5" />
<line x1="558.7" y1="159.4" x2="560.9" y2="158.6" stroke="#b4b4b4" stroke-width="0.7" />
<line x1="569.2" y1="156.4" x2="569.2" y2="157.6" stroke="#333" stroke-width="0.5" />
<line x1="568.6" y1="159.4" x2="570.8" y2="158.6" stroke="#b4b4b4" stroke-width="0.7" />
<line x1="579.1" y1="156.4" x2="579.1" y2="157.6" stroke="#333" stroke-width="0.5" />
<line x1="578.5" y1="159.4" x2="580.7" y2="158.6" stroke="#b4b4b4" stroke-width="0.7" />
<line x1="537.1" y1="156" x2="540.1" y2="156" stroke="#222" stroke-width="0.9" />
<line x1="530" y1="156.9" x2="578.9" y2="156.9" stroke="#666" stroke-width="0.7" stroke-dasharray="0.35 1.1"/>
<line x1="528" y1="106.4" x2="528" y2="154.4" stroke="#777" stroke-width="0.6" stroke-dasharray="0.35 1.4"/>
<line x1="529.5" y1="156.09" x2="580.9" y2="156.09" stroke="#e2c4e6" stroke-width="0.4" />
<rect x="591.4" y="103.4" width="53.4" height="53" fill="none" stroke="#8a8a8a" stroke-width="0.5" />
<line x1="590.1" y1="105.8" x2="591.4" y2="105.8" stroke="#333" stroke-width="0.5" />
<line x1="586.6" y1="105.8" x2="589.2" y2="105.8" stroke="#b4b4b4" stroke-width="0.7" />
<line x1="590.1" y1="115.68" x2="591.4" y2="115.68" stroke="#333" stroke-width="0.5" />
<line x1="586.6" y1="115.68" x2="589.2" y2="115.68" stroke="#b4b4b4" stroke-width="0.7" />
<line x1="590.1" y1="125.56" x2="591.4" y2="125.56" stroke="#333" stroke-width="0.5" />
<line x1="586.6" y1="125.56" x2="589.2" y2="125.56" stroke="#b4b4b4" stroke-width="0.7" />
<line x1="590.1" y1="135.44" x2="591.4" y2="135.44" stroke="#333" stroke-width="0.5" />
<line x1="586.6" y1="135.44" x2="589.2" y2="135.44" stroke="#b4b4b4" stroke-width="0.7" />
<line x1="590.1" y1="145.32" x2="591.4" y2="145.32" stroke="#333" stroke-width="0.5" />
<line x1="586.6" y1="145.32" x2="589.2" y2="145.32" stroke="#b4b4b4" stroke-width="0.7" />
<line x1="590.1" y1="155.2" x2="591.4" y2="155.2" stroke="#333" stroke-width="0.5" />
<line x1="586.6" y1="155.2" x2="589.2" y2="155.2" stroke="#b4b4b4" stroke-width="0.7" />
<line x1="602.4" y1="156.4" x2="602.4" y2="157.6" stroke="#333" stroke-width="0.5" />
<line x1="601.8" y1="159.4" x2="604" y2="158.6" stroke="#b4b4b4" stroke-width="0.7" />
<line x1="612.3" y1="156.4" x2="612.3" y2="157.6" stroke="#333" stroke-width="0.5" />
<line x1="611.7" y1="159.4" x2="613.9" y2="158.6" stroke="#b4b4b4" stroke-width="0.7" />
<line x1="622.2" y1="156.4" x2="622.2" y2="157.6" stroke="#333" stroke-width="0.5" />
<line x1="621.6" y1="159.4" x2="623.8" y2="158.6" stroke="#b4b4b4" stroke-width="0.7" />
<line x1="632.1" y1="156.4" x2="632.1" y2="157.6" stroke="#333" stroke-width="0.5" />
<line x1="631.5" y1="159.4" x2="633.7" y2="158.6" stroke="#b4b4b4" stroke-width="0.7" />
<line x1="642" y1="156.4" x2="642" y2="157.6" stroke="#333" stroke-width="0.5" />
<line x1="641.4" y1="159.4" x2="643.6" y2="158.6" stroke="#b4b4b4" stroke-width="0.7" />
<line x1="600" y1="156" x2="603" y2="156" stroke="#222" stroke-width="0.9" />
<line x1="592.9" y1="156.9" x2="641.8" y2="156.9" stroke="#666" stroke-width="0.7" stroke-dasharray="0.35 1.1"/>
<line x1="590.9" y1="106.4" x2="590.9" y2="154.4" stroke="#777" stroke-width="0.6" stroke-dasharray="0.35 1.4"/>
<line x1="592.4" y1="156.09" x2="643.8" y2="156.09" stroke="#e2c4e6" stroke-width="0.4" />
<path d="M471.3 156.09C471.52 155.9 472.18 155.57 472.65 154.95C473.11 154.32 473.55 154.08 474.1 152.35C474.65 150.63 475.31 148.47 475.97 144.58C476.62 140.69 477.49 133.17 478.04 129.03C478.59 124.88 478.9 121.86 479.28 119.7C479.66 117.54 480.01 116.41 480.32 116.07C480.63 115.72 480.87 116.59 481.15 117.62C481.43 118.66 481.63 119.52 481.98 122.29C482.32 125.05 482.76 129.81 483.22 134.21C483.69 138.62 484.29 145.44 484.78 148.72C485.26 152.01 485.66 152.77 486.12 153.91C486.59 155.05 487.02 155.2 487.58 155.57C488.13 155.93 489.13 156 489.44 156.09" fill="none" stroke="#fb2a14" stroke-width="0.6" stroke-linejoin="round"/>
<path d="M470.89 156.09C471.11 155.9 471.77 155.57 472.23 154.95C472.7 154.32 473.13 154.08 473.68 152.35C474.24 150.63 474.89 148.47 475.55 144.58C476.21 140.69 477.07 133.17 477.62 129.03C478.18 124.88 478.49 121.86 478.87 119.7C479.25 117.54 479.59 116.41 479.9 116.07C480.22 115.72 480.46 116.59 480.73 117.62C481.01 118.66 481.22 119.52 481.56 122.29C481.91 125.05 482.34 129.81 482.81 134.21C483.27 138.62 483.88 145.44 484.36 148.72C484.85 152.01 485.24 152.77 485.71 153.91C486.18 155.05 486.61 155.2 487.16 155.57C487.71 155.93 488.72 156 489.03 156.09" fill="none" stroke="#1f45ff" stroke-width="0.6" stroke-linejoin="round"/>
<path d="M536.68 156.09C536.86 155.81 537.38 155.48 537.72 154.43C538.07 153.37 538.33 153.65 538.76 149.76C539.19 145.87 539.79 137.15 540.31 131.1C540.83 125.05 541.44 117.19 541.87 113.48C542.3 109.76 542.61 109.64 542.9 108.81C543.2 107.98 543.37 107.38 543.63 108.5C543.89 109.62 544.06 111.78 544.46 115.55C544.86 119.32 545.41 126.09 546.01 131.1C546.62 136.11 547.36 142.07 548.09 145.61C548.81 149.16 549.59 151.04 550.37 152.35C551.15 153.67 551.92 153.51 552.75 153.49C553.58 153.48 554.48 152.34 555.35 152.25C556.21 152.16 557.25 153.22 557.94 152.98C558.63 152.73 558.97 152.03 559.49 150.8C560.01 149.57 560.56 146.74 561.05 145.61C561.53 144.49 561.96 143.89 562.39 144.06C562.83 144.23 563.17 145.18 563.64 146.65C564.11 148.12 564.68 151.42 565.19 152.87C565.71 154.32 566.14 154.82 566.75 155.36C567.35 155.9 568.48 155.96 568.82 156.09" fill="none" stroke="#fb2a14" stroke-width="0.6" stroke-linejoin="round"/>
<path d="M536.48 156.09C536.65 155.81 537.17 155.48 537.51 154.43C537.86 153.37 538.12 153.65 538.55 149.76C538.98 145.87 539.59 137.15 540.11 131.1C540.62 125.05 541.23 117.19 541.66 113.48C542.09 109.76 542.4 109.64 542.7 108.81C542.99 107.98 543.16 107.38 543.42 108.5C543.68 109.62 543.85 111.78 544.25 115.55C544.65 119.32 545.2 126.09 545.81 131.1C546.41 136.11 547.16 142.07 547.88 145.61C548.61 149.16 549.38 150.97 550.16 152.35C550.94 153.74 551.72 153.86 552.55 153.91C553.38 153.96 554.27 152.75 555.14 152.66C556 152.58 557.04 153.7 557.73 153.39C558.42 153.08 558.77 152.09 559.28 150.8C559.8 149.5 560.36 146.74 560.84 145.61C561.32 144.49 561.76 143.89 562.19 144.06C562.62 144.23 562.96 145.18 563.43 146.65C563.9 148.12 564.47 151.42 564.99 152.87C565.5 154.32 565.94 154.82 566.54 155.36C567.15 155.9 568.27 155.96 568.61 156.09" fill="none" stroke="#1f45ff" stroke-width="0.6" stroke-linejoin="round"/>
<path d="M597.4 156.09C597.92 155.72 599.56 154.75 600.51 153.91C601.46 153.06 602.33 151.7 603.11 151.01C603.88 150.31 604.57 151.01 605.18 149.76C605.78 148.52 606.13 147.17 606.73 143.54C607.34 139.91 608.15 133 608.81 127.99C609.46 122.98 610.16 116.41 610.67 113.48C611.19 110.54 611.5 110.02 611.92 110.37C612.33 110.71 612.73 112.61 613.16 115.55C613.59 118.49 613.99 124.1 614.51 127.99C615.03 131.88 615.49 136.63 616.27 138.88C617.05 141.12 618.26 140.26 619.17 141.47C620.09 142.68 621.11 144.92 621.77 146.13C622.42 147.34 622.68 147.95 623.11 148.72C623.55 149.5 623.89 149.9 624.36 150.8C624.82 151.7 625.39 153.49 625.91 154.12C626.43 154.74 626.78 154.24 627.47 154.53C628.16 154.82 629.63 155.65 630.06 155.88" fill="none" stroke="#fb2a14" stroke-width="0.6" stroke-linejoin="round"/>
<path d="M597.92 156.09C598.53 155.76 600.43 155.34 601.55 154.12C602.67 152.89 603.8 150.83 604.66 148.72C605.52 146.62 606.13 144.75 606.73 141.47C607.34 138.19 607.77 133.35 608.29 129.03C608.81 124.71 609.36 118.71 609.84 115.55C610.33 112.39 610.81 110.06 611.19 110.06C611.57 110.06 611.8 112.39 612.12 115.55C612.45 118.71 612.82 125.23 613.16 129.03C613.51 132.83 613.8 136.03 614.2 138.36C614.6 140.69 615.06 141.73 615.55 143.02C616.03 144.32 616.32 145.01 617.1 146.13C617.88 147.26 619.26 148.9 620.21 149.76C621.16 150.63 622.03 150.63 622.8 151.32C623.58 152.01 624.19 153.41 624.88 153.91C625.57 154.41 626.09 153.99 626.95 154.32C627.81 154.65 629.54 155.62 630.06 155.88" fill="none" stroke="#1f45ff" stroke-width="0.6" stroke-linejoin="round"/>
<text x="646" y="36.48" font-size="7.2" text-anchor="start" fill="#f0141e" stroke="#f0141e" stroke-width="0.16" font-weight="bold" >WT</text>
<text x="646" y="45.78" font-size="7.2" text-anchor="start" fill="#1c1cf0" stroke="#1c1cf0" stroke-width="0.16" font-weight="bold" >Zeb1-dcKO</text>
<text x="646" y="55.28" font-size="7.2" text-anchor="start" fill="#bfae9e" stroke="#bfae9e" stroke-width="0.16" >control</text>
<circle cx="480.9" cy="182.6" r="1.65" fill="#fb2a14" stroke="none" stroke-width="0" />
<text x="485.6" y="185.25" font-size="7.4" text-anchor="start" fill="#000" stroke="#000" stroke-width="0.16" >WT</text>
<rect x="479.25" y="191.65" width="3.3" height="3.3" fill="#1f45ff" stroke="none" stroke-width="0.8" />
<text x="485.6" y="195.95" font-size="7.4" text-anchor="start" fill="#000" stroke="#000" stroke-width="0.16" >Zeb1-dcKO</text>
<line x1="477.2" y1="194.7" x2="477.2" y2="259.9" stroke="#222" stroke-width="0.8" />
<line x1="476.8" y1="259.5" x2="541.6" y2="259.5" stroke="#222" stroke-width="0.8" />
<line x1="486.5" y1="259.5" x2="486.5" y2="261.1" stroke="#222" stroke-width="0.7" />
<text x="486.5" y="267.21" font-size="6.45" text-anchor="middle" fill="#000" stroke="#000" stroke-width="0.14" >0</text>
<line x1="509" y1="259.5" x2="509" y2="261.1" stroke="#222" stroke-width="0.7" />
<text x="509" y="267.21" font-size="6.45" text-anchor="middle" fill="#000" stroke="#000" stroke-width="0.14" >4</text>
<line x1="531.2" y1="259.5" x2="531.2" y2="261.1" stroke="#222" stroke-width="0.7" />
<text x="531.2" y="267.21" font-size="6.45" text-anchor="middle" fill="#000" stroke="#000" stroke-width="0.14" >24</text>
<line x1="475.6" y1="259.5" x2="477.2" y2="259.5" stroke="#222" stroke-width="0.7" />
<text x="475" y="261.81" font-size="6.45" text-anchor="end" fill="#000" stroke="#000" stroke-width="0.14" >0</text>
<line x1="475.6" y1="243.4" x2="477.2" y2="243.4" stroke="#222" stroke-width="0.7" />
<text x="475" y="245.71" font-size="6.45" text-anchor="end" fill="#000" stroke="#000" stroke-width="0.14" >1000</text>
<line x1="475.6" y1="227.3" x2="477.2" y2="227.3" stroke="#222" stroke-width="0.7" />
<text x="475" y="229.61" font-size="6.45" text-anchor="end" fill="#000" stroke="#000" stroke-width="0.14" >2000</text>
<line x1="475.6" y1="211.2" x2="477.2" y2="211.2" stroke="#222" stroke-width="0.7" />
<text x="475" y="213.51" font-size="6.45" text-anchor="end" fill="#000" stroke="#000" stroke-width="0.14" >3000</text>
<line x1="475.6" y1="195.1" x2="477.2" y2="195.1" stroke="#222" stroke-width="0.7" />
<text x="475" y="197.41" font-size="6.45" text-anchor="end" fill="#000" stroke="#000" stroke-width="0.14" >4000</text>
<text x="457.49" y="225.3" font-size="7.5" text-anchor="middle" fill="#000" stroke="#000" stroke-width="0.16" transform="rotate(-90 457.49 225.3)">CellROX MFI</text>
<text x="553" y="275.37" font-size="7.45" text-anchor="middle" fill="#000" stroke="#000" stroke-width="0.16" >HKLM-OVA Stimulation (hours)</text>
<line x1="482.7" y1="242.59" x2="482.7" y2="235.67" stroke="#fb2a14" stroke-width="0.5" />
<line x1="481.4" y1="242.59" x2="484" y2="242.59" stroke="#fb2a14" stroke-width="0.5" />
<line x1="481.4" y1="235.67" x2="484" y2="235.67" stroke="#fb2a14" stroke-width="0.5" />
<line x1="480.1" y1="239.38" x2="485.3" y2="239.38" stroke="#fb2a14" stroke-width="0.5" />
<circle cx="482.7" cy="235.67" r="1.45" fill="#fb2a14" stroke="none" stroke-width="0" />
<circle cx="481.4" cy="240.99" r="1.45" fill="#fb2a14" stroke="none" stroke-width="0" />
<circle cx="484" cy="241.31" r="1.45" fill="#fb2a14" stroke="none" stroke-width="0" />
<line x1="490.6" y1="244.21" x2="490.6" y2="240.66" stroke="#1f45ff" stroke-width="0.5" />
<line x1="489.3" y1="244.21" x2="491.9" y2="244.21" stroke="#1f45ff" stroke-width="0.5" />
<line x1="489.3" y1="240.66" x2="491.9" y2="240.66" stroke="#1f45ff" stroke-width="0.5" />
<line x1="488" y1="242.59" x2="493.2" y2="242.59" stroke="#1f45ff" stroke-width="0.5" />
<rect x="487.95" y="239.21" width="2.9" height="2.9" fill="#1f45ff" stroke="none" stroke-width="0.8" />
<rect x="487.95" y="241.95" width="2.9" height="2.9" fill="#1f45ff" stroke="none" stroke-width="0.8" />
<rect x="490.65" y="242.11" width="2.9" height="2.9" fill="#1f45ff" stroke="none" stroke-width="0.8" />
<circle cx="503.6" cy="231.32" r="1.45" fill="#fb2a14" stroke="none" stroke-width="0" />
<circle cx="506.4" cy="230.04" r="1.45" fill="#fb2a14" stroke="none" stroke-width="0" />
<rect x="510.25" y="238.73" width="2.9" height="2.9" fill="#1f45ff" stroke="none" stroke-width="0.8" />
<rect x="513.25" y="237.28" width="2.9" height="2.9" fill="#1f45ff" stroke="none" stroke-width="0.8" />
<line x1="527.3" y1="228.1" x2="527.3" y2="207.98" stroke="#fb2a14" stroke-width="0.5" />
<line x1="526" y1="228.1" x2="528.6" y2="228.1" stroke="#fb2a14" stroke-width="0.5" />
<line x1="526" y1="207.98" x2="528.6" y2="207.98" stroke="#fb2a14" stroke-width="0.5" />
<line x1="524.7" y1="217.64" x2="529.9" y2="217.64" stroke="#fb2a14" stroke-width="0.5" />
<circle cx="527.3" cy="203.47" r="1.45" fill="#fb2a14" stroke="none" stroke-width="0" />
<circle cx="525.9" cy="220.86" r="1.45" fill="#fb2a14" stroke="none" stroke-width="0" />
<circle cx="528.7" cy="223.6" r="1.45" fill="#fb2a14" stroke="none" stroke-width="0" />
<circle cx="526.5" cy="223.6" r="1.45" fill="#fb2a14" stroke="none" stroke-width="0" />
<line x1="535.7" y1="242.43" x2="535.7" y2="231.32" stroke="#1f45ff" stroke-width="0.5" />
<line x1="534.4" y1="242.43" x2="537" y2="242.43" stroke="#1f45ff" stroke-width="0.5" />
<line x1="534.4" y1="231.32" x2="537" y2="231.32" stroke="#1f45ff" stroke-width="0.5" />
<line x1="533.1" y1="236.48" x2="538.3" y2="236.48" stroke="#1f45ff" stroke-width="0.5" />
<rect x="534.45" y="226.82" width="2.9" height="2.9" fill="#1f45ff" stroke="none" stroke-width="0.8" />
<rect x="535.65" y="236.48" width="2.9" height="2.9" fill="#1f45ff" stroke="none" stroke-width="0.8" />
<rect x="532.85" y="237.44" width="2.9" height="2.9" fill="#1f45ff" stroke="none" stroke-width="0.8" />
<rect x="534.25" y="238.73" width="2.9" height="2.9" fill="#1f45ff" stroke="none" stroke-width="0.8" />
<text x="487.6" y="231.19" font-size="5" text-anchor="middle" fill="#000" stroke="#000" stroke-width="0.11" >p=0.1692</text>
<line x1="481.4" y1="232.5" x2="491.6" y2="232.5" stroke="#333" stroke-width="0.5" />
<text x="508.6" y="224.99" font-size="5" text-anchor="middle" fill="#000" stroke="#000" stroke-width="0.11" >p=0.0213</text>
<line x1="503.4" y1="226.3" x2="514.6" y2="226.3" stroke="#333" stroke-width="0.5" />
<text x="530.8" y="199.89" font-size="5" text-anchor="middle" fill="#000" stroke="#000" stroke-width="0.11" >p=0.0232</text>
<line x1="526.4" y1="201.2" x2="536.8" y2="201.2" stroke="#333" stroke-width="0.5" />
<line x1="573.6" y1="194.7" x2="573.6" y2="259.9" stroke="#222" stroke-width="0.8" />
<line x1="573.2" y1="259.5" x2="638.6" y2="259.5" stroke="#222" stroke-width="0.8" />
<line x1="584.3" y1="259.5" x2="584.3" y2="261.1" stroke="#222" stroke-width="0.7" />
<text x="584.3" y="267.21" font-size="6.45" text-anchor="middle" fill="#000" stroke="#000" stroke-width="0.14" >0</text>
<line x1="606.4" y1="259.5" x2="606.4" y2="261.1" stroke="#222" stroke-width="0.7" />
<text x="606.4" y="267.21" font-size="6.45" text-anchor="middle" fill="#000" stroke="#000" stroke-width="0.14" >4</text>
<line x1="628.7" y1="259.5" x2="628.7" y2="261.1" stroke="#222" stroke-width="0.7" />
<text x="628.7" y="267.21" font-size="6.45" text-anchor="middle" fill="#000" stroke="#000" stroke-width="0.14" >24</text>
<line x1="572" y1="259.5" x2="573.6" y2="259.5" stroke="#222" stroke-width="0.7" />
<text x="571.4" y="261.81" font-size="6.45" text-anchor="end" fill="#000" stroke="#000" stroke-width="0.14" >0</text>
<line x1="572" y1="238.03" x2="573.6" y2="238.03" stroke="#222" stroke-width="0.7" />
<text x="571.4" y="240.34" font-size="6.45" text-anchor="end" fill="#000" stroke="#000" stroke-width="0.14" >1000</text>
<line x1="572" y1="216.57" x2="573.6" y2="216.57" stroke="#222" stroke-width="0.7" />
<text x="571.4" y="218.88" font-size="6.45" text-anchor="end" fill="#000" stroke="#000" stroke-width="0.14" >2000</text>
<line x1="572" y1="195.1" x2="573.6" y2="195.1" stroke="#222" stroke-width="0.7" />
<text x="571.4" y="197.41" font-size="6.45" text-anchor="end" fill="#000" stroke="#000" stroke-width="0.14" >3000</text>
<text x="555.08" y="225.3" font-size="7.5" text-anchor="middle" fill="#000" stroke="#000" stroke-width="0.16" transform="rotate(-90 555.08 225.3)">MitoSOX MFI</text>
<circle cx="578.7" cy="254.88" r="1.45" fill="#fb2a14" stroke="none" stroke-width="0" />
<circle cx="581.3" cy="254.46" r="1.45" fill="#fb2a14" stroke="none" stroke-width="0" />
<rect x="585.45" y="253.97" width="2.9" height="2.9" fill="#1f45ff" stroke="none" stroke-width="0.8" />
<rect x="588.45" y="253.86" width="2.9" height="2.9" fill="#1f45ff" stroke="none" stroke-width="0.8" />
<line x1="601.6" y1="225.58" x2="601.6" y2="207.98" stroke="#fb2a14" stroke-width="0.5" />
<line x1="600.3" y1="225.58" x2="602.9" y2="225.58" stroke="#fb2a14" stroke-width="0.5" />
<line x1="600.3" y1="207.98" x2="602.9" y2="207.98" stroke="#fb2a14" stroke-width="0.5" />
<line x1="599" y1="217.43" x2="604.2" y2="217.43" stroke="#fb2a14" stroke-width="0.5" />
<circle cx="601.9" cy="207.98" r="1.45" fill="#fb2a14" stroke="none" stroke-width="0" />
<circle cx="600.3" cy="223.44" r="1.45" fill="#fb2a14" stroke="none" stroke-width="0" />
<circle cx="602.9" cy="221.5" r="1.45" fill="#fb2a14" stroke="none" stroke-width="0" />
<line x1="610.6" y1="240.18" x2="610.6" y2="207.12" stroke="#1f45ff" stroke-width="0.5" />
<line x1="609.3" y1="240.18" x2="611.9" y2="240.18" stroke="#1f45ff" stroke-width="0.5" />
<line x1="609.3" y1="207.12" x2="611.9" y2="207.12" stroke="#1f45ff" stroke-width="0.5" />
<line x1="608" y1="223.65" x2="613.2" y2="223.65" stroke="#1f45ff" stroke-width="0.5" />
<rect x="609.15" y="210.61" width="2.9" height="2.9" fill="#1f45ff" stroke="none" stroke-width="0.8" />
<rect x="609.15" y="234.22" width="2.9" height="2.9" fill="#1f45ff" stroke="none" stroke-width="0.8" />
<line x1="624.6" y1="225.15" x2="624.6" y2="217.43" stroke="#fb2a14" stroke-width="0.5" />
<line x1="623.3" y1="225.15" x2="625.9" y2="225.15" stroke="#fb2a14" stroke-width="0.5" />
<line x1="623.3" y1="217.43" x2="625.9" y2="217.43" stroke="#fb2a14" stroke-width="0.5" />
<line x1="622" y1="220.86" x2="627.2" y2="220.86" stroke="#fb2a14" stroke-width="0.5" />
<circle cx="624.6" cy="217.43" r="1.45" fill="#fb2a14" stroke="none" stroke-width="0" />
<circle cx="624.6" cy="224.29" r="1.45" fill="#fb2a14" stroke="none" stroke-width="0" />
<rect x="630.15" y="228.86" width="2.9" height="2.9" fill="#1f45ff" stroke="none" stroke-width="0.8" />
<rect x="633.35" y="228" width="2.9" height="2.9" fill="#1f45ff" stroke="none" stroke-width="0.8" />
<text x="585.6" y="248.79" font-size="5" text-anchor="middle" fill="#000" stroke="#000" stroke-width="0.11" >p=0.1814</text>
<line x1="578.4" y1="250.3" x2="589.4" y2="250.3" stroke="#333" stroke-width="0.5" />
<text x="606.4" y="201.89" font-size="5" text-anchor="middle" fill="#000" stroke="#000" stroke-width="0.11" >p=0.8878</text>
<line x1="600.4" y1="203.4" x2="612" y2="203.4" stroke="#333" stroke-width="0.5" />
<text x="628.2" y="211.19" font-size="5" text-anchor="middle" fill="#000" stroke="#000" stroke-width="0.11" >p=0.2365</text>
<line x1="623.4" y1="212.7" x2="634.6" y2="212.7" stroke="#333" stroke-width="0.5" />
<text x="176.5" y="153.86" font-size="9.95" text-anchor="middle" fill="#000" stroke="#000" stroke-width="0.22" >OxyBURST-/Alexa Fluor 647-HKLM (min)</text>
<line x1="66.2" y1="157.6" x2="285.2" y2="157.6" stroke="#222" stroke-width="0.8" />
<text x="75.4" y="167.17" font-size="9.4" text-anchor="middle" fill="#000" stroke="#000" stroke-width="0.21" >30</text>
<text x="135.2" y="167.17" font-size="9.4" text-anchor="middle" fill="#000" stroke="#000" stroke-width="0.21" >90</text>
<text x="214.8" y="167.17" font-size="9.4" text-anchor="middle" fill="#000" stroke="#000" stroke-width="0.21" >30</text>
<text x="277.8" y="167.17" font-size="9.4" text-anchor="middle" fill="#000" stroke="#000" stroke-width="0.21" >90</text>
<text x="10.4" y="196.11" font-size="9.8" text-anchor="start" fill="#000" stroke="#000" stroke-width="0.22" >WT</text>
<text x="4.6" y="248.41" font-size="9.8" text-anchor="start" fill="#000" stroke="#000" stroke-width="0.22" >Zeb1</text>
<text x="1.8" y="260.21" font-size="9.8" text-anchor="start" fill="#000" stroke="#000" stroke-width="0.22" >-dcKO</text>
<line x1="37.5" y1="174" x2="37.5" y2="249.6" stroke="#222" stroke-width="0.8" />
<path d="M37.5 169.8L39.1 175.2L35.9 175.2Z" fill="#111" stroke="none" stroke-width="0.6" />
<text x="39.9" y="265" font-size="9.5" text-anchor="middle" fill="#000" stroke="#000" stroke-width="0.21" transform="rotate(-90 39.9 265)">FSC-A</text>
<line x1="179.7" y1="174" x2="179.7" y2="249.6" stroke="#222" stroke-width="0.8" />
<path d="M179.7 169.8L181.29999999999998 175.2L178.1 175.2Z" fill="#111" stroke="none" stroke-width="0.6" />
<text x="182.1" y="265" font-size="9.5" text-anchor="middle" fill="#000" stroke="#000" stroke-width="0.21" transform="rotate(-90 182.1 265)">FSC-A</text>
<text x="47.6" y="294.11" font-size="9.8" text-anchor="start" fill="#000" stroke="#000" stroke-width="0.22" >OxyBURST</text>
<line x1="98.6" y1="291.1" x2="159.5" y2="291.1" stroke="#222" stroke-width="0.8" />
<path d="M163.4 291.1L157.6 289.4L157.6 292.8Z" fill="#111" stroke="none" stroke-width="0.6" />
<text x="189.6" y="294.07" font-size="9.7" text-anchor="start" fill="#000" stroke="#000" stroke-width="0.21" >Alexa Fluor 647</text>
<line x1="258.4" y1="291.2" x2="302.5" y2="291.2" stroke="#222" stroke-width="0.8" />
<path d="M306.6 291.2L300.8 289.5L300.8 292.9Z" fill="#111" stroke="none" stroke-width="0.6" />
<rect x="47.5" y="169.2" width="53.2" height="52.2" fill="#fff" stroke="#c2c2c2" stroke-width="0.6" />
<line x1="46.2" y1="176.4" x2="47.5" y2="176.4" stroke="#333" stroke-width="0.55" />
<line x1="42.3" y1="176.4" x2="45.1" y2="176.4" stroke="#bdbdbd" stroke-width="0.7" />
<line x1="46.2" y1="191.4" x2="47.5" y2="191.4" stroke="#333" stroke-width="0.55" />
<line x1="42.3" y1="191.4" x2="45.1" y2="191.4" stroke="#bdbdbd" stroke-width="0.7" />
<line x1="46.2" y1="206.4" x2="47.5" y2="206.4" stroke="#333" stroke-width="0.55" />
<line x1="42.3" y1="206.4" x2="45.1" y2="206.4" stroke="#bdbdbd" stroke-width="0.7" />
<line x1="46.2" y1="220.8" x2="47.5" y2="220.8" stroke="#333" stroke-width="0.55" />
<line x1="49" y1="221.9" x2="96.7" y2="221.9" stroke="#666" stroke-width="0.7" stroke-dasharray="0.35 1.1"/>
<line x1="47" y1="172.2" x2="47" y2="219.4" stroke="#777" stroke-width="0.6" stroke-dasharray="0.35 1.4"/>
<line x1="50.1" y1="221.4" x2="50.1" y2="222.7" stroke="#333" stroke-width="0.55" />
<line x1="49.7" y1="224.4" x2="51.7" y2="223.8" stroke="#c4c4c4" stroke-width="0.7" />
<line x1="57.1" y1="221.4" x2="57.1" y2="222.7" stroke="#333" stroke-width="0.55" />
<line x1="68.5" y1="221.4" x2="68.5" y2="222.7" stroke="#333" stroke-width="0.55" />
<line x1="68.1" y1="224.4" x2="70.1" y2="223.8" stroke="#c4c4c4" stroke-width="0.7" />
<line x1="79.3" y1="221.4" x2="79.3" y2="222.7" stroke="#333" stroke-width="0.55" />
<line x1="78.9" y1="224.4" x2="80.9" y2="223.8" stroke="#c4c4c4" stroke-width="0.7" />
<line x1="90.3" y1="221.4" x2="90.3" y2="222.7" stroke="#333" stroke-width="0.55" />
<line x1="89.9" y1="224.4" x2="91.9" y2="223.8" stroke="#c4c4c4" stroke-width="0.7" />
<line x1="49.5" y1="221" x2="52.1" y2="221" stroke="#333" stroke-width="0.8" />
<rect x="110" y="169.2" width="53.2" height="52.2" fill="#fff" stroke="#c2c2c2" stroke-width="0.6" />
<line x1="108.7" y1="176.4" x2="110" y2="176.4" stroke="#333" stroke-width="0.55" />
<line x1="104.8" y1="176.4" x2="107.6" y2="176.4" stroke="#bdbdbd" stroke-width="0.7" />
<line x1="108.7" y1="191.4" x2="110" y2="191.4" stroke="#333" stroke-width="0.55" />
<line x1="104.8" y1="191.4" x2="107.6" y2="191.4" stroke="#bdbdbd" stroke-width="0.7" />
<line x1="108.7" y1="206.4" x2="110" y2="206.4" stroke="#333" stroke-width="0.55" />
<line x1="104.8" y1="206.4" x2="107.6" y2="206.4" stroke="#bdbdbd" stroke-width="0.7" />
<line x1="108.7" y1="220.8" x2="110" y2="220.8" stroke="#333" stroke-width="0.55" />
<line x1="111.5" y1="221.9" x2="159.2" y2="221.9" stroke="#666" stroke-width="0.7" stroke-dasharray="0.35 1.1"/>
<line x1="109.5" y1="172.2" x2="109.5" y2="219.4" stroke="#777" stroke-width="0.6" stroke-dasharray="0.35 1.4"/>
<line x1="112.6" y1="221.4" x2="112.6" y2="222.7" stroke="#333" stroke-width="0.55" />
<line x1="112.2" y1="224.4" x2="114.2" y2="223.8" stroke="#c4c4c4" stroke-width="0.7" />
<line x1="119.6" y1="221.4" x2="119.6" y2="222.7" stroke="#333" stroke-width="0.55" />
<line x1="131" y1="221.4" x2="131" y2="222.7" stroke="#333" stroke-width="0.55" />
<line x1="130.6" y1="224.4" x2="132.6" y2="223.8" stroke="#c4c4c4" stroke-width="0.7" />
<line x1="141.8" y1="221.4" x2="141.8" y2="222.7" stroke="#333" stroke-width="0.55" />
<line x1="141.4" y1="224.4" x2="143.4" y2="223.8" stroke="#c4c4c4" stroke-width="0.7" />
<line x1="152.8" y1="221.4" x2="152.8" y2="222.7" stroke="#333" stroke-width="0.55" />
<line x1="152.4" y1="224.4" x2="154.4" y2="223.8" stroke="#c4c4c4" stroke-width="0.7" />
<line x1="112" y1="221" x2="114.6" y2="221" stroke="#333" stroke-width="0.8" />
<rect x="190.6" y="169.2" width="53.2" height="52.2" fill="#fff" stroke="#c2c2c2" stroke-width="0.6" />
<line x1="189.3" y1="176.4" x2="190.6" y2="176.4" stroke="#333" stroke-width="0.55" />
<line x1="185.4" y1="176.4" x2="188.2" y2="176.4" stroke="#bdbdbd" stroke-width="0.7" />
<line x1="189.3" y1="191.4" x2="190.6" y2="191.4" stroke="#333" stroke-width="0.55" />
<line x1="185.4" y1="191.4" x2="188.2" y2="191.4" stroke="#bdbdbd" stroke-width="0.7" />
<line x1="189.3" y1="206.4" x2="190.6" y2="206.4" stroke="#333" stroke-width="0.55" />
<line x1="185.4" y1="206.4" x2="188.2" y2="206.4" stroke="#bdbdbd" stroke-width="0.7" />
<line x1="189.3" y1="220.8" x2="190.6" y2="220.8" stroke="#333" stroke-width="0.55" />
<line x1="192.1" y1="221.9" x2="239.8" y2="221.9" stroke="#666" stroke-width="0.7" stroke-dasharray="0.35 1.1"/>
<line x1="190.1" y1="172.2" x2="190.1" y2="219.4" stroke="#777" stroke-width="0.6" stroke-dasharray="0.35 1.4"/>
<line x1="194" y1="221.4" x2="194" y2="222.7" stroke="#333" stroke-width="0.55" />
<line x1="193.6" y1="224.4" x2="195.6" y2="223.8" stroke="#c4c4c4" stroke-width="0.7" />
<line x1="207.6" y1="221.4" x2="207.6" y2="222.7" stroke="#333" stroke-width="0.55" />
<line x1="207.2" y1="224.4" x2="209.2" y2="223.8" stroke="#c4c4c4" stroke-width="0.7" />
<line x1="224.2" y1="221.4" x2="224.2" y2="222.7" stroke="#333" stroke-width="0.55" />
<line x1="223.8" y1="224.4" x2="225.8" y2="223.8" stroke="#c4c4c4" stroke-width="0.7" />
<line x1="233" y1="221.4" x2="233" y2="222.7" stroke="#333" stroke-width="0.55" />
<line x1="232.6" y1="224.4" x2="234.6" y2="223.8" stroke="#c4c4c4" stroke-width="0.7" />
<line x1="206" y1="221" x2="208.6" y2="221" stroke="#333" stroke-width="0.8" />
<rect x="253.7" y="169.2" width="53.2" height="52.2" fill="#fff" stroke="#c2c2c2" stroke-width="0.6" />
<line x1="252.4" y1="176.4" x2="253.7" y2="176.4" stroke="#333" stroke-width="0.55" />
<line x1="248.5" y1="176.4" x2="251.3" y2="176.4" stroke="#bdbdbd" stroke-width="0.7" />
<line x1="252.4" y1="191.4" x2="253.7" y2="191.4" stroke="#333" stroke-width="0.55" />
<line x1="248.5" y1="191.4" x2="251.3" y2="191.4" stroke="#bdbdbd" stroke-width="0.7" />
<line x1="252.4" y1="206.4" x2="253.7" y2="206.4" stroke="#333" stroke-width="0.55" />
<line x1="248.5" y1="206.4" x2="251.3" y2="206.4" stroke="#bdbdbd" stroke-width="0.7" />
<line x1="252.4" y1="220.8" x2="253.7" y2="220.8" stroke="#333" stroke-width="0.55" />
<line x1="255.2" y1="221.9" x2="302.9" y2="221.9" stroke="#666" stroke-width="0.7" stroke-dasharray="0.35 1.1"/>
<line x1="253.2" y1="172.2" x2="253.2" y2="219.4" stroke="#777" stroke-width="0.6" stroke-dasharray="0.35 1.4"/>
<line x1="257.1" y1="221.4" x2="257.1" y2="222.7" stroke="#333" stroke-width="0.55" />
<line x1="256.7" y1="224.4" x2="258.7" y2="223.8" stroke="#c4c4c4" stroke-width="0.7" />
<line x1="270.7" y1="221.4" x2="270.7" y2="222.7" stroke="#333" stroke-width="0.55" />
<line x1="270.3" y1="224.4" x2="272.3" y2="223.8" stroke="#c4c4c4" stroke-width="0.7" />
<line x1="287.3" y1="221.4" x2="287.3" y2="222.7" stroke="#333" stroke-width="0.55" />
<line x1="286.9" y1="224.4" x2="288.9" y2="223.8" stroke="#c4c4c4" stroke-width="0.7" />
<line x1="296.1" y1="221.4" x2="296.1" y2="222.7" stroke="#333" stroke-width="0.55" />
<line x1="295.7" y1="224.4" x2="297.7" y2="223.8" stroke="#c4c4c4" stroke-width="0.7" />
<line x1="269.1" y1="221" x2="271.7" y2="221" stroke="#333" stroke-width="0.8" />
<rect x="47.5" y="228.7" width="53.2" height="52.2" fill="#fff" stroke="#c2c2c2" stroke-width="0.6" />
<line x1="46.2" y1="235.9" x2="47.5" y2="235.9" stroke="#333" stroke-width="0.55" />
<line x1="42.3" y1="235.9" x2="45.1" y2="235.9" stroke="#bdbdbd" stroke-width="0.7" />
<line x1="46.2" y1="250.9" x2="47.5" y2="250.9" stroke="#333" stroke-width="0.55" />
<line x1="42.3" y1="250.9" x2="45.1" y2="250.9" stroke="#bdbdbd" stroke-width="0.7" />
<line x1="46.2" y1="265.9" x2="47.5" y2="265.9" stroke="#333" stroke-width="0.55" />
<line x1="42.3" y1="265.9" x2="45.1" y2="265.9" stroke="#bdbdbd" stroke-width="0.7" />
<line x1="46.2" y1="280.3" x2="47.5" y2="280.3" stroke="#333" stroke-width="0.55" />
<line x1="49" y1="281.4" x2="96.7" y2="281.4" stroke="#666" stroke-width="0.7" stroke-dasharray="0.35 1.1"/>
<line x1="47" y1="231.7" x2="47" y2="278.9" stroke="#777" stroke-width="0.6" stroke-dasharray="0.35 1.4"/>
<line x1="50.1" y1="280.9" x2="50.1" y2="282.2" stroke="#333" stroke-width="0.55" />
<line x1="49.7" y1="283.9" x2="51.7" y2="283.3" stroke="#c4c4c4" stroke-width="0.7" />
<line x1="57.1" y1="280.9" x2="57.1" y2="282.2" stroke="#333" stroke-width="0.55" />
<line x1="68.5" y1="280.9" x2="68.5" y2="282.2" stroke="#333" stroke-width="0.55" />
<line x1="68.1" y1="283.9" x2="70.1" y2="283.3" stroke="#c4c4c4" stroke-width="0.7" />
<line x1="79.3" y1="280.9" x2="79.3" y2="282.2" stroke="#333" stroke-width="0.55" />
<line x1="78.9" y1="283.9" x2="80.9" y2="283.3" stroke="#c4c4c4" stroke-width="0.7" />
<line x1="90.3" y1="280.9" x2="90.3" y2="282.2" stroke="#333" stroke-width="0.55" />
<line x1="89.9" y1="283.9" x2="91.9" y2="283.3" stroke="#c4c4c4" stroke-width="0.7" />
<line x1="49.5" y1="280.5" x2="52.1" y2="280.5" stroke="#333" stroke-width="0.8" />
<rect x="110" y="228.7" width="53.2" height="52.2" fill="#fff" stroke="#c2c2c2" stroke-width="0.6" />
<line x1="108.7" y1="235.9" x2="110" y2="235.9" stroke="#333" stroke-width="0.55" />
<line x1="104.8" y1="235.9" x2="107.6" y2="235.9" stroke="#bdbdbd" stroke-width="0.7" />
<line x1="108.7" y1="250.9" x2="110" y2="250.9" stroke="#333" stroke-width="0.55" />
<line x1="104.8" y1="250.9" x2="107.6" y2="250.9" stroke="#bdbdbd" stroke-width="0.7" />
<line x1="108.7" y1="265.9" x2="110" y2="265.9" stroke="#333" stroke-width="0.55" />
<line x1="104.8" y1="265.9" x2="107.6" y2="265.9" stroke="#bdbdbd" stroke-width="0.7" />
<line x1="108.7" y1="280.3" x2="110" y2="280.3" stroke="#333" stroke-width="0.55" />
<line x1="111.5" y1="281.4" x2="159.2" y2="281.4" stroke="#666" stroke-width="0.7" stroke-dasharray="0.35 1.1"/>
<line x1="109.5" y1="231.7" x2="109.5" y2="278.9" stroke="#777" stroke-width="0.6" stroke-dasharray="0.35 1.4"/>
<line x1="112.6" y1="280.9" x2="112.6" y2="282.2" stroke="#333" stroke-width="0.55" />
<line x1="112.2" y1="283.9" x2="114.2" y2="283.3" stroke="#c4c4c4" stroke-width="0.7" />
<line x1="119.6" y1="280.9" x2="119.6" y2="282.2" stroke="#333" stroke-width="0.55" />
<line x1="131" y1="280.9" x2="131" y2="282.2" stroke="#333" stroke-width="0.55" />
<line x1="130.6" y1="283.9" x2="132.6" y2="283.3" stroke="#c4c4c4" stroke-width="0.7" />
<line x1="141.8" y1="280.9" x2="141.8" y2="282.2" stroke="#333" stroke-width="0.55" />
<line x1="141.4" y1="283.9" x2="143.4" y2="283.3" stroke="#c4c4c4" stroke-width="0.7" />
<line x1="152.8" y1="280.9" x2="152.8" y2="282.2" stroke="#333" stroke-width="0.55" />
<line x1="152.4" y1="283.9" x2="154.4" y2="283.3" stroke="#c4c4c4" stroke-width="0.7" />
<line x1="112" y1="280.5" x2="114.6" y2="280.5" stroke="#333" stroke-width="0.8" />
<rect x="190.6" y="228.7" width="53.2" height="52.2" fill="#fff" stroke="#c2c2c2" stroke-width="0.6" />
<line x1="189.3" y1="235.9" x2="190.6" y2="235.9" stroke="#333" stroke-width="0.55" />
<line x1="185.4" y1="235.9" x2="188.2" y2="235.9" stroke="#bdbdbd" stroke-width="0.7" />
<line x1="189.3" y1="250.9" x2="190.6" y2="250.9" stroke="#333" stroke-width="0.55" />
<line x1="185.4" y1="250.9" x2="188.2" y2="250.9" stroke="#bdbdbd" stroke-width="0.7" />
<line x1="189.3" y1="265.9" x2="190.6" y2="265.9" stroke="#333" stroke-width="0.55" />
<line x1="185.4" y1="265.9" x2="188.2" y2="265.9" stroke="#bdbdbd" stroke-width="0.7" />
<line x1="189.3" y1="280.3" x2="190.6" y2="280.3" stroke="#333" stroke-width="0.55" />
<line x1="192.1" y1="281.4" x2="239.8" y2="281.4" stroke="#666" stroke-width="0.7" stroke-dasharray="0.35 1.1"/>
<line x1="190.1" y1="231.7" x2="190.1" y2="278.9" stroke="#777" stroke-width="0.6" stroke-dasharray="0.35 1.4"/>
<line x1="194" y1="280.9" x2="194" y2="282.2" stroke="#333" stroke-width="0.55" />
<line x1="193.6" y1="283.9" x2="195.6" y2="283.3" stroke="#c4c4c4" stroke-width="0.7" />
<line x1="207.6" y1="280.9" x2="207.6" y2="282.2" stroke="#333" stroke-width="0.55" />
<line x1="207.2" y1="283.9" x2="209.2" y2="283.3" stroke="#c4c4c4" stroke-width="0.7" />
<line x1="224.2" y1="280.9" x2="224.2" y2="282.2" stroke="#333" stroke-width="0.55" />
<line x1="223.8" y1="283.9" x2="225.8" y2="283.3" stroke="#c4c4c4" stroke-width="0.7" />
<line x1="233" y1="280.9" x2="233" y2="282.2" stroke="#333" stroke-width="0.55" />
<line x1="232.6" y1="283.9" x2="234.6" y2="283.3" stroke="#c4c4c4" stroke-width="0.7" />
<line x1="206" y1="280.5" x2="208.6" y2="280.5" stroke="#333" stroke-width="0.8" />
<rect x="253.7" y="228.7" width="53.2" height="52.2" fill="#fff" stroke="#c2c2c2" stroke-width="0.6" />
<line x1="252.4" y1="235.9" x2="253.7" y2="235.9" stroke="#333" stroke-width="0.55" />
<line x1="248.5" y1="235.9" x2="251.3" y2="235.9" stroke="#bdbdbd" stroke-width="0.7" />
<line x1="252.4" y1="250.9" x2="253.7" y2="250.9" stroke="#333" stroke-width="0.55" />
<line x1="248.5" y1="250.9" x2="251.3" y2="250.9" stroke="#bdbdbd" stroke-width="0.7" />
<line x1="252.4" y1="265.9" x2="253.7" y2="265.9" stroke="#333" stroke-width="0.55" />
<line x1="248.5" y1="265.9" x2="251.3" y2="265.9" stroke="#bdbdbd" stroke-width="0.7" />
<line x1="252.4" y1="280.3" x2="253.7" y2="280.3" stroke="#333" stroke-width="0.55" />
<line x1="255.2" y1="281.4" x2="302.9" y2="281.4" stroke="#666" stroke-width="0.7" stroke-dasharray="0.35 1.1"/>
<line x1="253.2" y1="231.7" x2="253.2" y2="278.9" stroke="#777" stroke-width="0.6" stroke-dasharray="0.35 1.4"/>
<line x1="257.1" y1="280.9" x2="257.1" y2="282.2" stroke="#333" stroke-width="0.55" />
<line x1="256.7" y1="283.9" x2="258.7" y2="283.3" stroke="#c4c4c4" stroke-width="0.7" />
<line x1="270.7" y1="280.9" x2="270.7" y2="282.2" stroke="#333" stroke-width="0.55" />
<line x1="270.3" y1="283.9" x2="272.3" y2="283.3" stroke="#c4c4c4" stroke-width="0.7" />
<line x1="287.3" y1="280.9" x2="287.3" y2="282.2" stroke="#333" stroke-width="0.55" />
<line x1="286.9" y1="283.9" x2="288.9" y2="283.3" stroke="#c4c4c4" stroke-width="0.7" />
<line x1="296.1" y1="280.9" x2="296.1" y2="282.2" stroke="#333" stroke-width="0.55" />
<line x1="295.7" y1="283.9" x2="297.7" y2="283.3" stroke="#c4c4c4" stroke-width="0.7" />
<line x1="269.1" y1="280.5" x2="271.7" y2="280.5" stroke="#333" stroke-width="0.8" />
<path d="M58.6 201.3h0M59.6 195.1h0M56.3 195.4h0M64.9 201.5h0M64.8 200.1h0M61.9 199.2h0M51.8 203.0h0M62.1 201.7h0M54.4 183.4h0M56.7 193.5h0M61.7 197.5h0M63.4 193.1h0M61.3 200.8h0M55.5 210.1h0M61.6 207.0h0M58.3 191.6h0M58.8 196.6h0M62.9 199.9h0M59.3 190.1h0M56.6 206.5h0M56.4 198.9h0M63.8 186.7h0M59.1 207.5h0M51.5 193.9h0M60.7 191.4h0M62.6 197.4h0M52.8 202.9h0M62.3 205.1h0M66.5 201.2h0M62.2 187.9h0M63.8 193.4h0M59.6 187.8h0M56.5 193.0h0M68.3 183.1h0M53.4 198.5h0M66.3 202.9h0M54.3 177.4h0M62.7 192.3h0M54.2 204.2h0M65.2 199.5h0M61.0 201.0h0M66.9 203.3h0M62.1 202.1h0M51.8 206.2h0M64.1 202.2h0M52.0 191.6h0M66.1 184.5h0M58.4 205.2h0M52.6 208.9h0M63.0 196.8h0M61.1 202.7h0M59.6 206.3h0M57.7 194.1h0M65.0 198.5h0M55.3 204.2h0M67.4 195.2h0M54.2 195.7h0M59.9 195.3h0M67.8 190.8h0M67.4 188.9h0M56.0 201.8h0M64.5 204.8h0M61.7 198.9h0M60.4 202.0h0M59.2 199.6h0M62.9 198.0h0M63.2 202.3h0M69.1 201.3h0M58.7 194.5h0M59.3 204.5h0M58.4 200.3h0M71.4 179.5h0M54.9 198.7h0M61.9 199.7h0M57.6 202.3h0M62.1 193.9h0M71.0 201.8h0M57.9 196.5h0M59.3 197.0h0M48.4 192.2h0M66.1 189.5h0M59.0 204.7h0M62.6 209.4h0M52.9 193.9h0M58.1 202.1h0M68.1 178.1h0M66.8 187.4h0M65.0 186.8h0M59.8 206.7h0M59.4 198.9h0M63.8 199.2h0M58.3 209.1h0M65.4 196.1h0M74.0 190.7h0M64.7 196.2h0M60.2 203.0h0M60.6 202.5h0M54.9 185.3h0M64.1 190.7h0M57.2 185.9h0M65.3 204.0h0M68.0 191.5h0M61.5 189.0h0M62.1 210.1h0M54.6 208.8h0M65.0 196.9h0M49.8 206.9h0M60.5 193.0h0M61.7 200.9h0M68.2 190.9h0M63.9 209.5h0M67.1 197.2h0M55.8 204.8h0M60.7 198.6h0M67.1 196.5h0M50.2 193.2h0M51.0 202.6h0M62.4 193.2h0M59.4 203.9h0M59.3 207.6h0M58.9 205.4h0M65.4 210.7h0M56.3 203.8h0M52.9 188.2h0M50.2 204.4h0M54.7 196.7h0M59.5 197.3h0M57.4 199.0h0M68.4 199.1h0M61.7 205.5h0M60.7 188.0h0M56.6 205.3h0M53.4 192.0h0M64.1 204.2h0M59.5 203.7h0M62.3 188.8h0M53.9 191.8h0M65.1 193.9h0M57.0 191.2h0M53.4 195.7h0M54.5 199.6h0M49.2 198.6h0M59.4 182.6h0M63.9 196.0h0M51.1 189.6h0M62.1 194.3h0M63.1 203.7h0M63.0 200.5h0M65.7 203.4h0M64.6 182.2h0M63.0 208.0h0M59.4 193.9h0M71.0 185.6h0M59.9 216.1h0M55.3 202.2h0M69.0 197.9h0M61.9 204.8h0M56.3 196.3h0M60.8 204.0h0M60.3 196.1h0M56.1 194.2h0M64.3 198.9h0M57.3 190.7h0M71.2 207.9h0M65.9 178.5h0M62.6 201.6h0M67.5 201.9h0M59.4 201.5h0M50.4 204.1h0M62.5 192.5h0M64.4 212.1h0M54.6 191.7h0M61.4 199.2h0M59.5 190.0h0M68.9 206.8h0M56.3 186.7h0M67.0 206.1h0M67.7 204.9h0M56.1 199.0h0M51.3 190.6h0M59.5 201.5h0M57.1 196.2h0M62.0 200.7h0M63.0 199.6h0M58.0 203.3h0M61.4 191.4h0M57.4 197.2h0M59.6 198.7h0M60.1 198.9h0M61.0 188.0h0M61.1 205.8h0M62.5 196.5h0M63.4 190.6h0M51.6 196.8h0M55.3 202.6h0M58.1 177.1h0M53.9 208.8h0M60.0 187.0h0M56.3 201.0h0M62.4 199.2h0M66.3 203.9h0M59.6 202.1h0M66.8 206.0h0M66.1 190.1h0M58.9 203.0h0M57.8 205.5h0M62.1 204.8h0M56.6 216.6h0M66.2 196.8h0M58.0 217.2h0M57.8 204.0h0M64.8 198.3h0M54.8 198.3h0M60.7 206.3h0M63.8 198.3h0M63.6 202.2h0M61.2 198.1h0M58.5 202.6h0M56.2 192.2h0M61.9 186.6h0M60.4 182.2h0M56.6 201.4h0M62.9 197.6h0M60.7 186.8h0M68.1 202.7h0M66.2 191.7h0M61.4 183.8h0M62.9 205.1h0M51.7 196.0h0M65.0 184.7h0M53.1 188.4h0M58.9 186.6h0M60.2 199.5h0M62.4 203.3h0M65.9 207.3h0M54.9 193.0h0M56.6 188.8h0M59.9 197.6h0M64.2 186.0h0M54.7 196.6h0M59.7 195.1h0M60.8 191.8h0M63.1 200.7h0M60.6 192.5h0M62.4 177.0h0M55.8 197.3h0M53.2 198.1h0M62.4 187.3h0M59.5 195.1h0M61.7 202.5h0M61.0 191.2h0M59.7 197.0h0M63.3 200.3h0M58.4 186.9h0M59.4 191.8h0M55.4 196.0h0M58.0 198.1h0M63.1 194.8h0M71.2 196.7h0M65.2 199.2h0M67.9 180.4h0M56.6 199.0h0M60.6 215.6h0M60.4 207.4h0M62.8 205.2h0M62.8 196.8h0M63.8 189.8h0M66.8 190.7h0M59.2 213.7h0M59.3 197.6h0M65.6 198.5h0M56.3 199.0h0M62.2 203.3h0M54.9 210.3h0M67.9 198.8h0M62.0 194.5h0M67.5 193.2h0M63.9 194.4h0M56.4 202.6h0M66.4 198.4h0M56.4 203.3h0M59.7 199.9h0M66.0 207.1h0M55.5 214.5h0M59.5 203.5h0M57.4 196.8h0M50.4 209.9h0M67.8 189.3h0M55.2 184.4h0M66.1 194.9h0M60.4 195.2h0M60.9 189.3h0M61.9 186.8h0M59.6 199.9h0M62.7 196.2h0M56.0 198.2h0M56.4 209.1h0M63.9 197.2h0M58.9 192.0h0M56.4 194.3h0M61.1 201.7h0M60.7 213.8h0M57.1 197.2h0M75.0 185.3h0M57.7 198.5h0M60.6 200.8h0M58.8 200.2h0M59.7 203.4h0M52.6 189.7h0M61.4 189.8h0M54.9 201.7h0M56.7 202.0h0M63.4 200.4h0M62.7 197.1h0M53.9 196.5h0M62.9 193.9h0M59.1 203.2h0M55.6 201.9h0M69.4 194.6h0M61.1 196.6h0M67.0 201.0h0M65.1 193.0h0M60.2 197.5h0M50.7 207.3h0M66.2 185.0h0M63.8 197.1h0M62.0 200.6h0M53.7 195.0h0M67.7 194.2h0M57.1 186.7h0M54.4 199.3h0M67.6 201.9h0M59.1 214.6h0M58.6 192.2h0M62.1 202.1h0M56.9 188.1h0M61.4 199.6h0M54.6 195.2h0M57.3 200.7h0M59.9 196.9h0M57.6 205.3h0M67.0 195.7h0M65.0 192.4h0M59.8 203.3h0M67.6 195.7h0M59.8 199.0h0M53.5 196.8h0M56.8 200.0h0M57.2 182.0h0M60.2 199.6h0M56.9 203.9h0M59.7 192.9h0M64.1 186.1h0M57.2 197.0h0M64.3 196.9h0M62.4 192.9h0M59.9 210.3h0M54.7 215.0h0M57.3 197.3h0M60.0 205.4h0M56.9 181.0h0M62.2 204.0h0M60.4 217.8h0M61.0 199.6h0M64.1 201.0h0M69.2 189.3h0M62.2 171.4h0M64.4 195.3h0M62.2 214.4h0M60.5 195.7h0M58.9 191.0h0M56.8 202.0h0M60.4 198.1h0M58.5 204.4h0M62.7 196.8h0M63.5 196.9h0M53.5 207.8h0M63.4 190.7h0M64.8 200.9h0M51.5 208.7h0M60.9 204.5h0M61.4 196.6h0M52.2 203.9h0M60.7 195.5h0M61.8 198.4h0M63.8 195.2h0M62.4 181.5h0M57.7 202.4h0M66.8 195.7h0M58.1 209.4h0M58.0 202.9h0M67.9 199.0h0M66.6 193.0h0M61.3 197.2h0M59.6 206.2h0M71.9 194.1h0M57.2 201.0h0M55.0 200.7h0M63.2 195.9h0M64.4 186.3h0M65.4 186.5h0M57.7 193.0h0M57.6 203.8h0M61.1 194.7h0M61.1 209.8h0M59.9 200.4h0M65.7 200.4h0M51.8 215.5h0M72.5 184.1h0M59.7 200.7h0M64.0 203.3h0M60.2 189.5h0M59.7 205.4h0M56.4 189.2h0M62.2 183.0h0M59.6 194.1h0M63.1 192.6h0M56.7 194.1h0M60.8 192.6h0M59.6 203.3h0M63.9 211.2h0M57.2 193.9h0M57.0 196.9h0M64.1 187.7h0M62.4 197.7h0M51.7 198.6h0M67.7 184.3h0M63.8 199.7h0M62.0 201.2h0M66.5 196.8h0M64.7 195.1h0M64.5 191.9h0M58.0 210.6h0M62.5 196.7h0M55.9 190.9h0M60.2 204.8h0M61.7 201.8h0M58.7 207.7h0M59.1 193.2h0M64.3 198.6h0M59.6 193.1h0M58.5 202.1h0M63.2 188.7h0M62.1 199.2h0M54.9 202.8h0M59.4 194.9h0M62.5 208.0h0M56.7 200.5h0M53.9 214.5h0M56.8 206.3h0M56.5 203.3h0M73.1 179.9h0M57.8 201.1h0M60.6 192.5h0M70.0 199.6h0M51.9 203.0h0M51.2 205.2h0M57.5 198.3h0M65.9 199.3h0M55.8 183.9h0M64.9 203.9h0M55.7 203.5h0M61.9 202.8h0M50.3 193.9h0M63.6 203.7h0M66.9 179.7h0M60.5 201.4h0M72.9 192.1h0M58.8 197.7h0M64.8 194.8h0M66.4 192.4h0M62.1 193.8h0M61.8 192.5h0M51.9 204.8h0M62.3 193.6h0M60.2 205.2h0M56.0 196.1h0M62.2 201.9h0M61.0 181.5h0M65.6 200.9h0M60.7 195.5h0M62.0 194.6h0M56.4 191.4h0M58.2 192.6h0M54.3 201.6h0M53.6 201.7h0M55.3 199.6h0M66.3 200.0h0M56.9 197.5h0M62.8 184.6h0M57.4 198.4h0M58.1 197.9h0M62.8 203.8h0M63.8 202.6h0M59.0 197.3h0M59.4 195.1h0M61.3 184.5h0M58.8 197.2h0M55.9 196.8h0M62.8 196.7h0M72.5 179.3h0M61.3 183.7h0M62.0 218.2h0M48.8 197.0h0M63.0 195.7h0M65.2 181.1h0M63.8 200.9h0M61.0 193.2h0M63.7 194.4h0M61.9 193.9h0M50.1 195.9h0M60.4 203.4h0M56.3 196.8h0M63.0 199.1h0M63.9 213.4h0M58.2 182.6h0M62.6 209.7h0M63.6 204.3h0M58.2 191.8h0" stroke="#555" stroke-width="0.44" stroke-linecap="round" opacity="0.32" fill="none"/>
<path d="M79.1 190.5h0M69.4 190.0h0M84.9 205.8h0M73.4 191.5h0M76.7 191.4h0M80.6 195.0h0M72.0 202.5h0M73.8 196.6h0M75.9 193.7h0M77.1 191.7h0M69.3 183.5h0M71.3 191.3h0M75.8 195.7h0M77.9 196.0h0M73.0 191.6h0M68.3 194.5h0M77.6 198.3h0M75.5 194.5h0M79.3 195.5h0M78.6 198.5h0M76.7 202.5h0M73.8 193.5h0M73.0 191.1h0M81.5 204.9h0M76.0 198.5h0M80.1 199.8h0M80.2 188.6h0M73.6 197.8h0M81.1 196.0h0M72.8 193.5h0M73.5 190.8h0M81.3 192.0h0M76.0 207.1h0M80.2 197.2h0M73.7 197.6h0M81.7 198.8h0M80.4 195.9h0M77.8 194.3h0M77.4 202.4h0M70.7 195.1h0M76.8 192.3h0M74.8 199.6h0M83.1 198.8h0M77.1 187.0h0M82.8 195.8h0M75.8 189.4h0M75.7 189.5h0M76.2 197.9h0M76.0 196.9h0M72.8 203.1h0M73.5 185.6h0M75.2 191.3h0M72.3 193.5h0M76.9 189.0h0M75.4 203.1h0M78.4 194.6h0M76.4 194.8h0M75.7 199.4h0M75.6 182.4h0M75.8 190.6h0M78.2 192.1h0M76.4 207.2h0M72.1 189.3h0M70.8 182.5h0M69.1 197.4h0M73.6 185.3h0M70.6 198.7h0M73.1 193.4h0M77.1 202.7h0M82.9 201.0h0M76.4 196.4h0M82.4 203.1h0M74.8 197.9h0M76.9 195.7h0M74.1 188.2h0M74.0 187.1h0M80.3 198.3h0M71.6 202.9h0M79.1 185.1h0M82.5 199.8h0M83.3 188.8h0M77.8 197.7h0M76.6 196.3h0M79.7 187.3h0M71.4 187.9h0M73.9 192.1h0M77.2 196.8h0M76.0 191.7h0M74.3 200.5h0M78.6 195.9h0M74.7 203.8h0M73.8 198.9h0M80.1 194.0h0M78.9 189.4h0M79.5 196.5h0M70.2 199.0h0M72.7 202.3h0M73.5 194.5h0M76.9 193.6h0M76.8 192.4h0M78.3 195.4h0M76.7 180.5h0M80.1 195.6h0M69.5 195.9h0M77.6 201.2h0M72.0 203.8h0M75.3 208.3h0M75.4 199.1h0M74.6 189.4h0M79.8 200.3h0M81.4 200.0h0M73.8 186.4h0M73.6 191.8h0M73.0 198.5h0M77.1 193.9h0M76.5 194.6h0M76.7 199.5h0M79.4 191.7h0M70.5 203.1h0M76.3 201.4h0M70.0 193.6h0M76.0 187.6h0M74.0 199.3h0M79.8 204.0h0M72.8 187.8h0M77.8 200.5h0M76.6 188.4h0M78.7 199.7h0M77.9 192.8h0M77.0 199.7h0M73.9 185.4h0M77.1 198.0h0M75.9 200.2h0M73.8 195.0h0M74.8 198.5h0M81.6 194.0h0M83.3 203.7h0M78.7 198.6h0M82.3 194.4h0M75.5 189.7h0M77.6 202.7h0M77.8 197.7h0M75.2 196.3h0M70.8 201.1h0M74.4 189.4h0M73.2 190.9h0M79.0 201.1h0M71.0 200.4h0M79.1 192.3h0M70.5 191.4h0M73.6 197.2h0M74.6 184.4h0M76.7 187.1h0M79.2 188.9h0M73.4 190.8h0M73.9 202.4h0M79.0 198.6h0M77.0 187.0h0M74.0 192.4h0M72.4 198.1h0M73.2 191.6h0M72.1 184.3h0M78.0 202.6h0M76.5 190.1h0M66.2 196.3h0M80.3 197.0h0M79.2 203.4h0M80.0 193.0h0M79.7 199.6h0M70.4 193.2h0M70.8 194.8h0M78.0 189.6h0M68.5 202.4h0M77.3 203.3h0M71.1 201.1h0M83.4 206.2h0M75.1 196.9h0M75.3 200.8h0M79.6 195.9h0M71.0 199.4h0M74.2 198.8h0M76.8 204.2h0M80.0 193.0h0M77.2 204.9h0M74.0 197.7h0M80.2 202.2h0M77.8 188.3h0M71.4 196.7h0M77.3 209.2h0M72.8 201.5h0M78.7 186.4h0M73.0 196.3h0M74.1 194.6h0M77.6 191.0h0M77.6 192.0h0M73.9 198.3h0M73.8 197.0h0M81.7 195.5h0M75.4 199.4h0M74.6 201.2h0M71.3 198.7h0M74.1 191.1h0M82.3 190.8h0M82.2 199.0h0M81.1 190.1h0M80.2 203.3h0M75.5 194.7h0M84.7 196.4h0M74.4 192.0h0M77.5 197.2h0M76.5 204.7h0M74.7 198.0h0M81.2 190.0h0M79.6 205.3h0M71.0 189.5h0M72.2 185.4h0M77.5 185.4h0M77.7 203.2h0M70.1 193.7h0M69.0 199.6h0M73.2 194.0h0M76.1 198.3h0M74.7 195.5h0M73.9 196.0h0M71.7 195.7h0M68.9 192.8h0M82.8 195.8h0M71.4 196.8h0M72.4 186.5h0M73.2 199.4h0M77.3 194.9h0M72.6 189.6h0M80.8 196.7h0M72.5 184.0h0M71.0 208.8h0M71.8 195.0h0M76.7 194.5h0M74.9 188.0h0M72.1 204.5h0M73.2 200.0h0" stroke="#555" stroke-width="0.44" stroke-linecap="round" opacity="0.4" fill="none"/>
<ellipse cx="60.4" cy="197.6" rx="7.6" ry="13.6" fill="#dcdcdc" stroke="none" stroke-width="0.4" transform="rotate(8 60.4 197.6)" filter="url(#bm)"/>
<ellipse cx="60.4" cy="198.01" rx="5.93" ry="10.88" fill="#d2d2d2" stroke="#c0c0c0" stroke-width="0.3" transform="rotate(8 60.4 198.01)" filter="url(#bs)"/>
<ellipse cx="60.4" cy="198.28" rx="4.41" ry="8.43" fill="#c6c6c6" stroke="#a4a4a4" stroke-width="0.4" transform="rotate(8 60.4 198.28)" />
<ellipse cx="60.4" cy="198.69" rx="2.89" ry="5.98" fill="#cecece" stroke="#b4b4b4" stroke-width="0.3" transform="rotate(8 60.4 198.69)" />
<ellipse cx="60.6" cy="198.96" rx="0.65" ry="1.77" fill="#f2f2f2" stroke="none" stroke-width="0.4" transform="rotate(8 60.6 198.96)" />
<ellipse cx="75.9" cy="195.2" rx="4.2" ry="5.4" fill="none" stroke="#c9c9c9" stroke-width="0.5" />
<ellipse cx="75.9" cy="195.2" rx="3" ry="3.8" fill="none" stroke="#d8d8d8" stroke-width="0.4" />
<path d="M116.3 195.9h0M126.8 205.9h0M119.3 202.5h0M127.5 192.4h0M128.0 191.2h0M121.1 197.9h0M110.7 197.2h0M120.0 186.9h0M123.1 203.8h0M123.2 207.6h0M119.1 188.0h0M133.8 201.0h0M130.5 191.7h0M129.7 200.0h0M128.9 198.2h0M131.9 193.1h0M120.2 186.8h0M131.7 192.4h0M119.8 190.9h0M123.0 188.3h0M123.8 193.2h0M122.4 190.7h0M125.6 194.5h0M126.0 199.9h0M127.2 181.4h0M122.5 192.0h0M129.6 186.0h0M121.5 195.8h0M123.6 205.5h0M123.0 205.3h0M117.5 184.2h0M132.0 201.3h0M128.0 198.9h0M128.0 188.8h0M130.5 194.0h0M130.7 198.7h0M114.7 188.2h0M131.5 197.0h0M123.3 199.8h0M123.1 193.9h0M126.0 199.1h0M133.6 198.3h0M135.6 211.7h0M134.7 206.1h0M126.1 199.0h0M124.6 192.4h0M125.0 193.1h0M134.3 202.1h0M123.0 183.4h0M125.1 194.8h0M119.5 189.4h0M113.2 202.3h0M125.0 217.6h0M125.2 196.9h0M133.2 199.0h0M126.3 195.2h0M122.1 209.4h0M130.8 211.0h0M123.5 198.2h0M120.6 205.4h0M117.9 202.3h0M131.3 208.7h0M120.3 206.3h0M121.5 192.2h0M118.3 206.8h0M134.3 193.5h0M121.3 195.4h0M138.9 205.6h0M122.5 184.4h0M121.8 207.0h0M135.5 196.0h0M121.7 194.1h0M115.2 204.9h0M119.5 206.1h0M116.2 188.3h0M127.0 192.2h0M129.6 198.1h0M119.1 202.7h0M129.9 183.5h0M135.3 201.8h0M129.5 183.9h0M121.5 195.3h0M131.2 186.9h0M120.6 182.6h0M124.1 200.6h0M116.3 193.5h0M128.2 210.0h0M129.0 195.7h0M119.0 190.9h0M121.8 199.1h0M125.1 210.7h0M127.0 189.9h0M133.7 205.2h0M125.9 192.5h0M115.3 190.2h0M130.3 191.9h0M118.3 199.5h0M126.7 202.6h0M128.9 208.7h0M120.9 205.4h0M120.1 203.3h0M126.4 199.8h0M130.6 197.9h0M131.4 204.7h0M126.1 193.7h0M121.3 194.0h0M124.3 197.8h0M141.5 202.9h0M129.6 191.5h0M121.6 195.6h0M126.4 190.1h0M134.1 193.7h0M131.2 180.2h0M125.4 200.1h0M126.4 202.6h0M126.9 199.2h0M115.2 192.6h0M112.8 202.8h0M127.1 196.5h0M121.0 193.6h0M135.4 211.2h0M125.1 207.8h0M116.8 183.3h0M122.8 191.4h0M122.4 199.4h0M141.7 193.0h0M125.7 200.1h0M125.2 205.1h0M135.0 188.5h0M126.3 196.0h0M127.3 186.4h0M115.9 180.4h0M128.2 199.5h0M125.8 180.0h0M123.4 192.3h0M117.8 191.0h0M129.2 202.1h0M125.3 201.9h0M122.1 198.5h0M125.6 202.2h0M125.0 196.9h0M124.7 193.1h0M137.5 201.9h0M127.7 215.4h0M133.0 186.2h0M129.2 204.4h0M135.6 208.0h0M129.6 189.1h0M120.7 200.0h0M128.1 190.2h0M123.3 195.0h0M125.7 200.6h0M123.9 188.6h0M132.1 210.1h0M124.8 205.8h0M127.8 203.0h0M128.0 192.2h0M128.5 205.7h0M120.6 212.9h0M136.7 211.9h0M136.1 203.6h0M123.6 193.4h0M121.0 198.9h0M125.2 203.1h0M114.5 215.6h0M137.7 197.8h0M129.1 201.6h0M126.9 196.4h0M124.7 191.7h0M126.4 197.8h0M127.1 191.5h0M125.6 198.4h0M128.7 189.9h0M127.7 205.5h0M128.6 195.2h0M122.7 196.2h0M129.3 209.8h0M124.5 193.1h0M127.4 199.6h0M120.5 192.4h0M124.9 203.1h0M119.0 190.3h0M128.1 188.7h0M126.0 200.7h0M124.8 190.3h0M125.1 195.5h0M127.2 191.6h0M131.3 185.3h0M124.4 198.1h0M130.6 193.4h0M128.3 193.7h0M129.4 211.2h0M123.2 201.4h0M120.4 205.4h0M131.9 198.3h0M119.3 201.1h0M131.6 206.3h0M129.8 184.1h0M121.7 208.8h0M118.8 206.6h0M135.6 203.8h0M131.4 195.5h0M118.8 197.2h0M124.3 197.6h0M129.2 196.9h0M126.4 201.2h0M125.4 212.0h0M127.8 198.6h0M124.3 193.2h0M132.7 199.1h0M119.6 193.7h0M124.7 194.6h0M131.3 189.2h0M128.1 199.1h0M119.0 198.4h0M124.9 201.8h0M123.0 200.3h0M116.4 189.8h0M129.6 205.9h0M125.3 193.4h0M131.2 182.1h0M121.1 203.1h0M128.9 190.2h0M115.2 209.0h0M126.2 191.2h0M125.7 204.9h0M111.4 206.4h0M129.4 182.2h0M129.6 184.5h0M131.6 201.0h0M137.6 193.4h0M125.4 206.0h0M121.9 192.6h0M123.4 197.4h0M119.6 201.7h0M128.3 198.5h0M134.6 195.5h0M132.5 193.8h0M129.5 183.3h0M126.5 196.7h0M122.7 193.4h0M123.5 192.5h0M113.6 193.5h0M122.4 194.0h0M119.7 197.0h0M129.6 196.1h0M122.7 208.3h0M130.7 205.0h0M131.6 195.5h0M124.7 206.5h0M122.4 197.1h0M127.4 200.8h0M123.9 205.5h0M124.4 203.5h0M131.2 203.0h0M129.4 189.2h0M118.3 193.3h0M128.0 209.4h0M118.8 200.3h0M120.8 192.4h0M123.9 203.3h0M126.5 207.0h0M120.1 204.8h0M130.4 198.5h0M128.0 193.7h0M119.5 194.9h0M121.9 220.0h0M122.8 210.5h0M126.5 200.4h0M129.4 192.1h0M130.3 200.9h0M117.2 202.6h0M128.4 201.4h0M134.0 194.9h0M128.2 203.7h0M120.5 207.1h0M117.6 188.1h0M128.2 189.7h0M124.8 185.5h0M125.8 189.4h0M127.2 186.4h0M127.8 196.0h0M125.7 197.5h0M126.1 188.0h0M111.5 198.3h0M120.3 194.5h0M127.7 182.9h0M121.3 193.4h0M119.7 200.5h0M124.6 191.8h0M120.1 204.1h0M121.8 202.4h0M127.8 183.6h0M119.5 198.0h0M127.2 203.9h0M129.7 205.9h0M123.4 196.4h0M129.6 194.8h0M131.1 185.9h0M128.9 196.7h0M114.8 205.4h0M127.1 198.2h0M119.6 194.5h0M133.6 191.7h0M118.9 197.0h0M123.3 191.1h0M120.9 206.0h0M117.6 212.9h0M122.5 189.7h0M129.7 202.3h0M119.8 203.7h0M115.5 191.0h0M131.5 196.1h0M118.4 201.9h0M130.4 197.8h0M115.6 195.4h0M127.7 203.8h0M135.4 196.1h0M122.8 197.7h0M131.9 190.8h0M132.4 177.1h0M129.7 192.9h0M127.9 203.2h0M119.0 197.3h0M126.7 202.5h0M120.4 190.5h0M115.0 217.3h0M124.4 196.3h0M117.3 205.1h0M122.5 208.9h0M130.0 198.2h0M129.3 189.5h0M123.6 193.6h0M118.5 198.1h0M124.6 208.9h0M120.4 194.5h0M127.7 201.1h0M125.6 194.4h0M128.1 200.7h0M115.4 196.0h0M118.0 189.0h0M126.2 198.5h0M126.0 191.3h0M124.3 191.1h0M127.5 203.2h0M134.9 207.6h0M121.1 194.5h0M120.3 200.3h0M136.1 203.4h0M113.5 188.4h0M118.4 201.9h0M125.4 200.3h0M135.0 191.7h0M120.8 212.9h0M127.2 192.1h0M114.4 186.4h0M112.2 198.5h0M125.6 205.5h0M124.6 192.7h0M121.4 212.4h0M115.9 199.3h0M125.5 202.7h0M123.2 201.8h0M129.8 196.9h0M122.9 196.6h0M120.2 196.4h0M123.8 199.6h0M132.6 207.9h0M123.0 202.6h0M127.0 203.8h0M125.5 200.0h0M122.9 192.0h0M130.1 207.9h0M129.0 201.3h0M126.8 194.6h0M115.8 203.0h0M126.5 193.8h0M120.2 207.7h0M115.7 211.4h0M128.9 216.0h0M121.5 197.8h0M122.7 199.2h0M124.3 192.3h0M131.2 192.0h0M122.7 202.2h0M122.5 194.7h0M127.3 195.2h0M118.7 197.2h0M124.2 211.0h0M119.5 205.4h0M121.2 195.3h0M123.6 200.1h0M130.1 211.3h0M122.0 208.1h0M130.8 204.2h0M121.3 204.8h0M124.8 200.7h0M123.9 203.0h0M131.4 206.6h0M124.3 205.6h0M133.2 190.9h0M133.4 187.9h0M128.3 202.5h0M133.4 200.1h0M122.8 191.9h0M118.6 203.8h0M124.1 192.5h0M128.3 192.2h0M123.0 194.5h0M134.3 209.1h0M124.5 186.1h0M126.9 198.5h0M127.3 202.3h0M123.7 205.0h0M129.9 199.6h0M123.2 194.3h0M129.1 189.6h0M124.5 192.3h0M117.9 202.6h0M125.3 198.3h0M130.1 186.6h0M125.0 200.2h0M129.9 189.8h0M129.3 199.7h0M132.7 206.7h0M128.4 214.3h0M125.4 194.8h0M123.6 190.9h0M125.2 183.7h0M124.9 201.2h0M130.8 195.4h0M132.9 193.1h0M124.7 183.7h0M121.3 192.0h0M133.3 201.9h0M119.6 202.0h0M127.9 196.3h0M125.5 195.7h0M122.5 184.8h0M124.9 207.5h0M133.0 195.9h0M121.5 196.4h0M130.1 200.6h0M122.3 200.7h0M124.3 201.8h0M123.3 187.1h0M125.7 203.6h0M119.6 197.2h0M130.0 195.2h0M122.0 213.0h0M129.8 205.6h0M120.4 210.1h0M116.7 194.2h0M129.3 207.8h0M120.5 193.1h0M126.4 183.7h0M128.8 202.1h0M123.1 202.0h0M129.5 200.3h0M128.1 209.2h0M122.9 199.2h0M122.7 205.6h0M123.3 201.5h0M126.1 198.5h0M134.4 197.4h0M132.8 204.1h0M132.3 196.8h0M130.3 203.6h0M122.2 200.0h0M124.7 197.7h0M132.2 192.7h0M116.6 185.2h0M123.0 193.3h0M125.5 202.2h0M134.6 200.3h0M127.8 192.6h0M128.4 208.0h0M132.4 183.7h0M130.0 209.6h0M129.7 187.0h0M123.8 202.3h0M127.6 192.1h0M120.8 205.1h0M118.5 208.5h0M125.5 200.2h0M118.5 193.6h0M129.0 187.2h0M136.2 187.7h0M119.1 198.3h0M127.9 203.4h0M123.5 196.5h0M124.2 193.8h0M112.0 205.0h0M126.7 199.2h0M122.1 199.8h0M125.3 197.4h0M131.1 185.4h0M126.7 190.2h0M123.8 208.9h0M119.8 197.3h0M122.3 204.9h0M120.3 185.7h0M128.1 195.4h0M123.7 205.9h0M120.8 195.3h0M126.2 201.0h0M122.7 205.6h0M137.0 195.0h0M135.1 182.6h0M132.7 195.5h0M126.1 195.5h0M122.1 188.7h0M123.4 207.5h0M131.3 195.5h0M122.7 192.9h0M119.2 211.2h0M128.8 198.9h0M122.9 190.5h0" stroke="#555" stroke-width="0.44" stroke-linecap="round" opacity="0.3" fill="none"/>
<path d="M144.6 203.1h0M135.0 204.5h0M134.3 202.2h0M134.9 195.3h0M141.1 200.8h0M143.3 192.5h0M145.7 206.8h0M139.0 201.0h0M135.7 197.0h0M133.4 198.6h0M139.8 206.8h0M143.0 203.3h0M137.5 196.5h0M137.6 199.5h0M130.8 203.0h0M132.4 194.6h0M139.1 194.6h0M146.0 197.4h0M145.6 205.7h0M136.9 200.6h0M144.5 195.8h0M139.4 194.4h0M139.2 195.7h0M139.3 204.5h0M144.9 198.9h0M139.9 203.6h0M137.8 191.1h0M143.7 191.9h0M142.9 191.7h0M146.7 191.2h0M142.6 207.8h0M134.9 207.7h0M135.5 186.5h0M142.0 202.6h0M138.1 181.5h0M138.8 196.0h0M137.4 196.1h0M131.4 194.3h0M146.6 208.1h0M137.5 193.4h0M140.7 204.9h0M142.1 190.4h0M139.7 198.9h0M145.1 205.8h0M141.2 205.9h0M137.3 208.0h0M137.2 200.6h0M142.9 192.0h0M136.0 186.5h0M139.7 197.6h0M137.6 201.3h0M130.1 197.8h0M139.4 196.3h0M142.4 209.4h0M137.1 191.9h0M136.4 198.6h0M141.5 192.4h0M143.2 191.3h0M142.5 200.8h0M141.0 212.1h0M137.9 196.9h0M141.0 203.6h0M133.3 199.8h0M135.9 202.1h0M144.8 198.3h0M138.5 199.2h0M126.5 203.0h0M141.4 199.1h0M137.3 193.2h0M138.2 205.9h0M138.6 206.8h0M128.1 195.0h0M140.2 197.9h0M132.0 193.7h0M144.3 189.6h0M134.8 190.8h0M136.7 202.2h0M141.5 184.7h0M145.2 194.1h0M136.5 208.9h0M138.7 189.9h0M136.3 193.3h0M134.7 195.8h0M142.7 200.3h0M133.2 216.2h0M134.8 198.8h0M139.1 203.0h0M137.6 201.0h0M147.9 198.6h0M134.4 200.1h0M135.6 195.6h0M139.8 200.2h0M137.8 203.5h0M138.2 189.5h0M142.7 195.6h0M144.1 193.7h0M141.4 200.1h0M127.6 188.3h0M134.3 207.2h0M131.0 204.0h0M143.6 201.2h0M141.8 194.8h0M139.0 199.5h0M140.8 202.6h0M138.1 193.4h0M136.6 200.7h0M132.0 189.8h0M137.3 194.4h0M137.9 180.6h0M137.6 196.4h0M142.3 185.1h0M137.7 201.1h0M141.1 205.8h0M143.5 191.1h0M141.7 195.8h0M135.6 208.0h0M136.3 192.4h0M137.3 192.4h0M143.3 200.5h0M144.9 200.7h0M136.4 204.8h0M136.2 195.0h0M138.3 198.3h0M144.1 194.0h0M140.5 197.8h0M133.7 190.8h0M138.1 200.6h0M140.4 201.1h0M139.2 195.1h0M140.8 191.4h0M133.3 195.8h0M132.9 194.6h0M135.8 194.4h0M138.8 192.8h0M137.2 186.8h0M139.6 192.2h0M140.7 179.5h0M135.6 199.6h0M128.6 195.6h0M139.4 198.7h0M132.7 199.5h0M139.6 191.6h0M142.2 197.7h0M139.1 195.1h0M141.3 198.6h0M143.8 201.0h0M136.4 196.5h0M142.9 195.6h0M140.6 201.4h0M138.2 182.7h0M139.6 199.4h0M139.6 193.0h0M144.1 197.1h0M136.3 193.3h0M140.5 190.8h0M134.7 211.2h0M144.6 204.9h0M144.8 201.9h0M131.8 205.9h0M144.3 201.2h0M130.7 206.2h0M144.8 194.8h0M139.5 203.1h0M138.6 205.2h0M139.3 202.6h0M139.4 188.3h0M134.8 218.9h0M140.2 206.6h0M143.9 209.3h0M141.4 194.1h0M139.1 185.3h0M138.2 204.0h0M129.8 199.3h0M142.5 206.8h0M135.0 193.7h0M131.0 191.3h0M141.3 211.7h0M134.1 207.1h0M140.8 194.7h0M148.4 181.4h0M138.7 199.4h0M148.1 209.9h0M148.7 198.9h0M143.2 207.0h0M141.2 200.4h0M138.2 195.3h0M133.7 210.9h0M137.1 184.3h0M140.1 197.8h0M139.8 210.0h0M138.5 196.2h0M135.8 197.9h0M137.1 199.4h0M152.4 200.6h0M135.3 210.8h0M142.7 203.4h0M142.1 203.4h0M141.9 207.3h0M143.3 206.9h0M136.9 198.0h0M135.9 204.3h0M142.6 194.9h0M141.5 215.4h0M144.3 190.6h0M138.6 202.2h0M138.8 200.6h0M144.1 200.2h0M134.3 202.7h0M138.6 198.8h0M136.6 188.8h0M133.7 195.7h0M134.4 180.0h0M143.9 190.3h0M135.9 201.5h0M128.7 206.9h0M135.7 202.4h0M136.9 200.0h0M139.5 198.0h0M131.2 188.3h0M138.8 207.3h0M136.7 201.5h0M139.7 201.2h0M143.3 188.1h0M140.2 196.8h0M137.7 192.3h0M135.6 191.2h0M134.3 214.6h0M146.3 198.1h0M142.2 191.5h0M127.1 185.9h0M139.6 207.5h0M138.8 191.4h0M138.0 191.4h0M133.0 196.5h0M137.3 192.6h0M135.2 191.8h0M140.0 207.2h0M138.1 212.8h0M132.1 199.8h0M134.0 196.9h0M139.4 201.7h0M143.8 194.3h0M133.7 196.8h0M140.3 193.4h0M142.8 209.2h0M132.9 200.4h0M143.4 185.3h0M139.9 196.5h0M132.9 206.7h0M139.9 194.8h0M140.9 202.3h0M142.3 201.8h0M140.8 190.2h0M137.2 198.9h0M127.1 212.1h0M137.4 191.0h0M131.2 199.7h0M139.1 194.1h0M137.2 192.1h0M135.8 197.4h0M136.2 202.5h0M138.4 198.9h0M140.7 206.4h0M141.6 199.5h0M138.3 192.7h0M137.5 202.5h0M140.0 195.4h0M133.3 187.8h0M140.4 204.8h0M140.6 188.9h0M138.1 199.5h0M135.1 200.3h0M138.1 192.5h0M133.7 203.4h0M140.5 192.1h0M134.7 203.9h0M141.6 196.0h0M145.8 196.1h0M134.5 205.2h0M138.2 200.3h0M139.2 191.4h0M133.9 196.7h0M145.0 191.4h0M144.8 199.5h0M134.2 199.8h0M141.4 192.0h0M129.9 200.4h0M134.2 200.9h0M130.8 197.1h0M135.5 188.2h0M138.0 199.1h0M136.6 190.2h0M139.9 186.4h0M141.3 201.2h0M146.2 203.8h0M140.5 199.7h0M139.1 189.2h0M145.3 201.5h0M137.8 190.4h0M145.3 201.5h0M133.9 202.4h0M147.1 197.9h0M140.7 195.3h0M136.3 205.1h0M152.2 198.8h0M138.5 203.2h0M137.7 202.8h0M142.5 191.3h0M134.4 197.5h0M142.6 199.8h0M144.3 188.9h0M141.1 193.9h0M139.4 200.1h0M134.9 196.5h0M134.0 199.8h0M135.4 194.7h0M139.9 193.7h0M143.9 193.8h0M142.6 199.9h0M134.6 196.6h0M135.4 195.6h0M137.8 210.0h0M137.2 208.3h0M140.9 189.4h0M129.1 202.5h0M130.5 202.7h0M143.4 200.6h0M138.1 196.3h0M140.1 196.0h0M136.7 195.6h0M144.0 193.9h0M140.6 190.4h0M136.0 189.0h0M138.2 202.5h0M140.3 194.8h0M141.6 195.7h0M140.6 199.8h0M141.3 181.7h0M133.5 203.1h0M138.5 212.8h0M138.0 194.4h0M145.4 201.7h0M147.1 201.4h0M138.1 202.8h0M135.6 195.1h0M136.6 196.5h0M142.3 194.8h0M140.4 194.7h0M142.8 179.9h0M138.1 199.1h0M134.4 204.7h0M139.9 206.4h0M143.1 202.2h0M138.4 190.9h0M138.1 195.0h0M140.1 194.9h0M152.0 187.5h0M144.0 194.9h0M138.0 204.1h0M139.0 190.0h0M140.8 196.7h0M130.3 199.3h0M134.5 193.1h0M141.1 200.0h0M137.8 212.3h0M140.8 194.0h0M140.0 197.2h0M129.6 187.7h0M133.1 211.6h0M138.2 196.2h0M136.6 204.4h0M139.1 209.2h0M142.3 208.8h0M138.5 200.5h0M137.2 196.9h0M131.7 194.2h0M135.0 193.7h0M144.2 199.7h0M144.2 203.6h0M142.9 204.6h0" stroke="#555" stroke-width="0.44" stroke-linecap="round" opacity="0.3" fill="none"/>
<ellipse cx="138.8" cy="198" rx="7.4" ry="11.2" fill="#dcdcdc" stroke="none" stroke-width="0.4" filter="url(#bm)"/>
<ellipse cx="138.4" cy="198.6" rx="5.6" ry="8" fill="#d4d4d4" stroke="#c2c2c2" stroke-width="0.3" />
<ellipse cx="138" cy="199" rx="2.6" ry="3.6" fill="#e2e2e2" stroke="#cdcdcd" stroke-width="0.3" />
<ellipse cx="125.5" cy="197.4" rx="9.6" ry="13.8" fill="#dcdcdc" stroke="none" stroke-width="0.4" transform="rotate(4 125.5 197.4)" filter="url(#bm)"/>
<ellipse cx="125.5" cy="197.81" rx="7.49" ry="11.04" fill="#d2d2d2" stroke="#c0c0c0" stroke-width="0.3" transform="rotate(4 125.5 197.81)" filter="url(#bs)"/>
<ellipse cx="125.5" cy="198.09" rx="5.57" ry="8.56" fill="#c6c6c6" stroke="#7c7c7c" stroke-width="0.6" transform="rotate(4 125.5 198.09)" />
<ellipse cx="125.5" cy="198.5" rx="3.65" ry="6.07" fill="#cecece" stroke="#b4b4b4" stroke-width="0.3" transform="rotate(4 125.5 198.5)" />
<ellipse cx="125.7" cy="198.78" rx="0.9" ry="1.97" fill="#f2f2f2" stroke="none" stroke-width="0.4" transform="rotate(4 125.7 198.78)" />
<path d="M54.2 263.0h0M56.7 254.2h0M61.1 273.2h0M51.6 269.0h0M62.3 252.9h0M58.6 260.7h0M59.8 255.9h0M51.8 257.4h0M60.9 263.8h0M59.7 265.8h0M53.2 257.1h0M58.3 264.9h0M57.9 261.6h0M56.3 272.1h0M68.8 261.2h0M49.2 257.7h0M51.8 252.5h0M57.1 269.6h0M59.2 262.8h0M62.2 260.0h0M53.9 256.8h0M59.5 256.4h0M55.0 255.2h0M51.8 250.2h0M57.6 255.5h0M56.6 267.4h0M59.1 258.0h0M53.3 250.1h0M60.2 252.4h0M60.7 251.1h0M58.4 257.6h0M62.6 256.0h0M55.8 259.4h0M56.4 269.3h0M57.0 254.3h0M55.8 261.0h0M58.1 262.8h0M49.0 273.6h0M66.1 259.0h0M52.0 258.3h0M61.7 243.4h0M59.1 248.1h0M58.5 267.5h0M63.8 248.6h0M63.2 264.9h0M55.6 261.1h0M65.0 256.8h0M58.2 254.3h0M65.0 244.4h0M65.1 252.5h0M63.5 247.8h0M54.0 253.4h0M63.0 247.7h0M61.1 254.1h0M63.7 256.7h0M60.1 257.2h0M66.2 256.8h0M55.7 271.2h0M57.4 262.6h0M54.1 258.9h0M56.2 247.6h0M50.2 264.7h0M61.1 248.2h0M66.6 254.5h0M55.8 259.4h0M54.0 246.5h0M53.2 265.4h0M63.5 248.1h0M63.2 259.0h0M59.9 258.7h0M60.5 251.6h0M54.2 252.7h0M55.4 261.9h0M50.6 267.9h0M55.4 253.7h0M60.5 261.3h0M57.2 250.6h0M54.6 246.7h0M61.9 266.0h0M65.8 262.5h0M58.5 263.3h0M62.3 256.9h0M57.3 272.6h0M51.3 247.5h0M52.6 262.4h0M63.5 256.5h0M60.8 258.1h0M59.6 254.6h0M57.6 258.0h0M60.8 273.6h0M48.9 260.4h0M56.8 264.5h0M61.8 263.9h0M62.3 252.2h0M48.3 268.0h0M64.1 252.4h0M63.0 263.3h0M52.1 265.1h0M55.3 252.6h0M50.8 255.6h0M63.0 254.2h0M65.5 263.8h0M56.4 249.6h0M49.7 260.7h0M64.6 251.8h0M58.0 256.1h0M56.1 261.2h0M67.9 255.1h0M60.6 265.8h0M56.5 256.8h0M50.5 264.3h0M55.9 253.3h0M58.8 252.3h0M53.2 255.3h0M64.7 257.6h0M61.5 248.5h0M57.3 247.5h0M56.6 262.0h0M50.6 251.0h0M59.8 252.0h0M60.4 264.9h0M60.1 255.4h0M58.1 253.7h0M56.8 260.0h0M55.4 264.3h0M70.1 256.0h0M58.5 263.7h0M60.9 256.8h0M54.6 264.4h0M60.1 261.8h0M53.4 261.7h0M61.5 257.3h0M58.6 273.0h0M48.5 260.9h0M53.6 248.1h0M56.1 261.5h0M59.0 250.2h0M51.6 253.3h0M58.5 252.4h0M49.1 268.8h0M54.0 256.4h0M55.7 253.7h0M58.2 256.0h0M61.7 250.5h0M49.0 270.1h0M56.6 263.1h0M62.6 262.5h0M59.3 247.6h0M49.4 263.5h0M60.3 262.3h0M52.1 242.6h0M54.0 249.4h0M59.4 251.2h0M65.6 254.8h0M54.3 263.4h0M60.1 252.2h0M59.7 271.4h0M52.3 255.5h0M54.6 244.3h0M59.9 263.1h0M61.8 261.5h0M48.4 256.5h0M55.7 249.7h0M51.9 262.4h0M54.5 271.0h0M61.7 245.5h0M60.6 267.0h0M59.0 249.9h0M67.1 250.3h0M59.1 245.1h0M53.5 245.7h0M61.6 266.7h0M57.1 248.6h0M57.1 260.5h0M51.7 249.2h0M56.6 262.7h0M57.6 261.1h0M54.3 240.4h0M60.0 252.0h0M57.5 255.4h0M60.7 253.1h0M64.4 259.2h0M59.6 262.6h0M62.1 261.4h0M50.2 252.6h0M65.9 262.4h0M59.9 261.5h0M55.4 253.0h0M53.6 265.4h0M57.7 270.3h0M58.2 271.1h0M61.0 250.3h0M65.5 261.4h0M63.0 260.2h0M56.0 258.9h0M53.6 249.2h0M54.1 253.9h0M51.5 256.4h0M57.2 272.0h0M66.3 258.9h0M62.0 257.1h0M59.6 258.0h0M55.1 258.2h0M50.4 260.0h0M57.4 250.4h0M55.5 261.5h0M54.1 260.8h0M58.9 269.0h0M52.7 256.5h0M58.7 268.6h0M58.2 263.3h0M51.4 253.1h0M65.7 257.2h0M68.5 254.5h0M57.9 246.9h0M60.4 260.2h0M67.0 260.5h0M57.9 248.2h0M56.4 264.4h0M60.0 266.9h0M61.8 258.3h0M60.4 259.6h0M49.8 268.8h0M60.5 251.1h0M59.2 260.2h0M61.0 268.5h0M65.8 252.5h0M48.7 258.7h0M58.9 260.6h0M52.9 254.1h0M57.9 263.2h0M67.7 261.5h0M57.1 241.4h0M62.9 257.8h0M58.1 251.1h0M62.9 246.2h0M58.1 258.9h0M57.9 267.2h0M57.1 258.6h0M63.2 247.9h0M56.3 258.3h0M63.0 253.1h0M61.1 261.2h0M52.1 246.8h0M50.8 258.0h0M58.0 263.1h0M62.1 254.7h0M62.0 264.3h0M59.5 261.6h0M51.3 259.6h0M54.0 249.1h0M55.9 258.7h0M57.8 255.7h0M52.8 258.6h0M55.6 247.8h0M56.7 268.1h0M56.8 250.4h0M62.6 270.7h0M56.5 256.3h0M55.8 278.5h0M57.4 264.9h0M61.6 245.7h0M53.7 248.8h0M59.6 259.0h0M66.4 257.3h0M59.1 258.7h0M56.1 274.1h0M57.6 268.3h0M64.4 254.7h0M61.3 255.8h0M58.1 259.2h0M58.3 254.8h0M65.3 257.2h0M59.4 270.1h0M59.7 265.5h0M63.2 266.4h0M67.2 249.3h0M67.0 259.5h0M50.0 252.4h0M51.1 256.9h0M51.6 250.1h0M58.9 259.3h0M54.1 255.8h0M57.2 258.5h0M57.9 256.5h0M63.4 247.5h0M55.2 258.6h0M56.3 253.9h0M55.4 259.2h0M63.8 257.5h0M56.1 260.3h0M58.4 244.4h0M59.3 255.6h0M54.4 262.0h0M58.5 254.1h0M49.0 244.6h0M57.9 257.2h0M59.6 259.8h0M56.7 248.9h0M52.6 256.3h0M51.5 262.5h0M53.1 244.7h0M58.5 245.6h0M66.4 252.2h0M57.7 256.3h0M55.5 245.2h0M48.0 262.8h0M60.4 273.7h0M50.2 260.9h0M56.8 263.9h0M54.6 262.7h0M61.4 262.8h0M64.7 257.8h0M65.7 254.2h0M68.3 240.1h0M58.5 252.5h0M56.7 265.1h0M61.0 259.1h0M67.2 248.9h0M52.4 267.9h0M61.3 243.8h0M60.5 250.0h0M63.6 266.9h0M53.8 266.6h0M52.8 263.8h0M60.6 257.5h0M51.2 255.1h0M55.5 240.5h0M60.1 260.9h0M53.2 272.3h0M61.3 259.0h0M57.5 237.1h0M59.0 265.0h0M56.3 247.8h0M59.1 246.4h0M57.0 263.3h0M64.6 260.8h0M57.9 263.3h0M64.7 256.7h0M52.6 251.7h0M52.6 251.0h0M56.8 260.3h0M58.4 258.6h0M55.6 260.7h0M61.2 263.9h0M65.1 257.0h0M54.9 269.6h0M58.3 261.0h0M55.2 264.5h0M56.8 250.7h0M57.8 254.9h0M62.0 255.9h0M58.5 256.6h0M59.9 253.9h0M64.3 248.9h0M56.6 252.8h0M60.7 258.7h0M60.3 256.0h0M55.4 249.8h0M56.6 254.1h0M58.7 260.6h0M62.4 257.9h0M55.2 250.1h0M57.6 260.5h0M66.8 260.6h0M64.2 272.2h0M51.5 265.7h0M61.8 268.1h0M56.7 264.6h0M55.5 257.2h0M56.1 270.4h0M55.7 264.5h0M58.7 253.1h0M58.2 262.7h0M53.7 261.9h0M55.2 251.4h0M59.0 256.5h0M54.6 246.0h0M57.6 259.7h0M55.3 259.0h0M50.1 259.7h0M59.4 260.2h0M54.7 258.1h0M57.3 265.5h0M58.8 259.9h0M53.4 263.5h0M63.8 255.4h0M60.4 260.6h0M58.7 249.1h0M67.9 246.2h0M59.5 255.6h0M63.6 255.8h0M57.3 262.3h0M60.4 254.7h0M60.6 261.2h0M62.9 255.1h0M57.9 255.3h0M53.5 259.2h0M58.3 268.1h0M55.8 260.5h0M63.2 258.0h0M57.9 259.0h0M55.4 250.7h0M62.8 259.9h0M58.6 249.4h0M57.1 266.2h0M53.1 251.1h0M61.6 268.6h0M65.6 255.2h0M61.3 253.2h0M60.5 255.8h0M57.3 267.4h0M59.5 256.6h0M57.7 259.9h0M55.1 259.1h0M59.0 269.2h0M49.1 248.4h0M51.0 263.2h0M69.0 261.0h0M57.2 265.9h0M55.8 254.3h0M59.9 254.2h0M63.0 258.7h0M57.0 275.7h0M54.7 264.1h0M52.6 266.0h0M62.1 259.6h0M60.8 269.7h0M64.2 258.9h0M56.4 265.6h0M51.3 252.9h0M59.4 262.2h0M64.8 271.3h0M58.8 261.2h0M51.7 255.9h0M59.1 256.6h0M57.4 262.2h0M53.8 253.5h0M48.2 264.7h0M54.4 245.6h0M61.5 257.0h0M62.6 256.1h0M67.0 264.3h0M58.3 258.9h0M56.0 263.4h0M67.5 256.4h0M52.0 261.4h0M64.2 248.5h0M55.4 250.7h0M59.9 261.8h0M55.3 249.8h0M62.9 244.4h0M60.9 257.4h0M65.8 266.1h0M55.2 255.7h0M57.1 252.8h0M57.2 264.7h0M50.8 255.4h0M64.0 264.1h0M54.7 252.0h0M55.2 246.5h0M63.0 259.2h0M55.8 247.7h0M56.4 254.3h0M66.2 256.0h0M57.2 265.4h0M61.0 257.2h0M60.9 255.4h0M58.2 251.4h0M54.9 247.3h0M59.5 261.9h0M57.8 263.4h0M60.1 259.2h0M53.0 261.4h0M62.6 263.1h0M64.0 255.6h0M51.9 265.9h0M54.7 259.3h0M56.8 258.0h0M57.0 254.2h0M60.5 245.0h0M54.5 249.7h0M56.7 240.2h0M58.8 269.5h0M55.8 262.9h0M61.7 249.9h0M65.0 247.3h0M55.4 255.2h0M63.4 259.6h0M57.9 252.5h0M58.1 258.3h0M59.8 268.0h0M61.1 258.6h0M55.5 268.8h0M58.7 258.0h0M64.6 269.8h0M60.5 257.6h0M53.7 264.8h0M54.7 264.2h0M54.0 258.2h0M59.4 259.2h0M58.4 260.7h0M53.5 249.7h0M55.3 270.1h0M58.0 251.6h0M54.6 257.8h0M63.7 254.9h0M60.1 259.6h0" stroke="#555" stroke-width="0.44" stroke-linecap="round" opacity="0.3" fill="none"/>
<path d="M73.9 251.5h0M75.1 253.1h0M79.2 246.0h0M82.6 263.2h0M79.4 268.2h0M79.5 246.3h0M76.3 261.1h0M72.0 250.3h0M78.5 261.5h0M73.5 256.3h0M73.0 254.1h0M75.7 265.3h0M66.6 255.7h0M85.5 260.2h0M76.9 263.7h0M70.1 249.7h0M66.3 248.0h0M77.5 263.8h0M73.6 253.4h0M78.4 262.2h0M77.5 245.0h0M72.8 240.7h0M77.4 252.2h0M72.2 268.3h0M83.7 261.3h0" stroke="#555" stroke-width="0.44" stroke-linecap="round" opacity="0.5" fill="none"/>
<ellipse cx="57.6" cy="258.4" rx="9.4" ry="13.6" fill="#dcdcdc" stroke="none" stroke-width="0.4" transform="rotate(10 57.6 258.4)" filter="url(#bm)"/>
<ellipse cx="57.6" cy="258.81" rx="7.33" ry="10.88" fill="#d2d2d2" stroke="#c0c0c0" stroke-width="0.3" transform="rotate(10 57.6 258.81)" filter="url(#bs)"/>
<ellipse cx="57.6" cy="259.08" rx="5.45" ry="8.43" fill="#c6c6c6" stroke="#a4a4a4" stroke-width="0.4" transform="rotate(10 57.6 259.08)" />
<ellipse cx="57.6" cy="259.49" rx="3.57" ry="5.98" fill="#cecece" stroke="#b4b4b4" stroke-width="0.3" transform="rotate(10 57.6 259.49)" />
<ellipse cx="57.8" cy="259.76" rx="0.8" ry="1.77" fill="#f2f2f2" stroke="none" stroke-width="0.4" transform="rotate(10 57.8 259.76)" />
<path d="M123.1 259.8h0M118.5 258.3h0M131.7 252.6h0M118.1 259.7h0M126.3 264.3h0M116.5 257.7h0M120.2 250.2h0M122.0 255.3h0M126.4 261.6h0M117.5 259.2h0M119.7 254.3h0M119.0 265.8h0M119.4 246.9h0M117.5 264.1h0M132.9 251.4h0M119.7 256.4h0M114.2 261.3h0M121.3 260.5h0M133.4 256.8h0M125.8 264.3h0M118.3 254.6h0M129.8 263.5h0M122.4 251.2h0M126.2 262.2h0M133.1 268.6h0M125.8 260.4h0M121.9 254.9h0M123.2 260.3h0M125.0 266.0h0M123.2 254.9h0M125.8 269.2h0M117.2 261.5h0M124.5 262.3h0M124.3 258.0h0M121.1 270.1h0M130.7 249.1h0M118.1 255.1h0M113.2 261.0h0M121.3 254.9h0M126.3 275.1h0M129.3 266.6h0M119.4 263.1h0M121.4 266.5h0M124.7 258.4h0M124.5 253.7h0M125.8 268.8h0M119.7 262.4h0M112.9 265.0h0M126.2 251.7h0M130.7 259.4h0M112.5 249.3h0M126.2 256.8h0M127.4 248.1h0M121.1 265.2h0M118.0 263.2h0M119.7 260.9h0M123.3 273.8h0M115.1 263.9h0M128.5 251.0h0M122.0 274.3h0M127.1 238.4h0M120.4 247.0h0M123.2 253.7h0M118.7 252.9h0M123.1 255.4h0M116.9 257.1h0M123.7 252.8h0M127.4 247.3h0M123.7 256.0h0M129.9 254.2h0M118.1 249.5h0M132.0 262.8h0M115.9 256.3h0M116.6 269.0h0M123.8 244.8h0M122.7 264.8h0M121.6 261.8h0M121.0 260.0h0M122.7 253.8h0M123.4 259.7h0M121.4 254.0h0M116.3 260.3h0M125.9 242.2h0M118.8 267.8h0M126.4 253.8h0M128.7 251.9h0M117.5 271.8h0M119.3 257.1h0M112.9 251.7h0M115.4 257.7h0M112.0 265.8h0M119.7 254.5h0M118.3 263.7h0M129.7 255.8h0M130.1 269.6h0M128.6 260.6h0M113.8 263.2h0M119.5 259.9h0M111.7 256.7h0M122.8 252.2h0M123.1 270.0h0M122.8 253.9h0M134.1 243.9h0M116.8 261.4h0M118.5 243.0h0M123.0 264.3h0M117.4 268.6h0M124.2 266.7h0M113.6 258.6h0M130.0 272.3h0M128.5 258.6h0M122.6 254.3h0M127.4 253.9h0M122.3 244.5h0M113.7 270.7h0M121.9 260.1h0M132.5 248.4h0M118.8 257.2h0M115.0 249.3h0M115.1 263.0h0M121.4 264.2h0M115.9 262.6h0M119.3 259.2h0M126.5 258.8h0M119.7 247.2h0M121.9 264.0h0M118.3 258.1h0M112.3 249.5h0M123.7 267.5h0M120.0 247.2h0M119.6 247.9h0M120.1 271.8h0M123.2 257.6h0M127.1 256.0h0M123.4 260.0h0M124.0 248.5h0M125.4 264.7h0M116.9 268.8h0M121.7 263.3h0M124.5 264.7h0M118.2 254.6h0M123.6 262.8h0M124.6 260.9h0M119.0 266.2h0M124.1 265.9h0M118.1 259.4h0M119.1 256.5h0M122.6 261.0h0M117.4 241.2h0M117.5 262.3h0M117.1 261.6h0M119.6 252.1h0M127.8 270.0h0M121.1 258.3h0M126.7 249.4h0M117.0 266.4h0M126.4 255.2h0M117.5 261.0h0M114.1 255.2h0M120.4 241.6h0M124.8 263.9h0M127.3 248.7h0M114.7 253.0h0M114.6 272.8h0M116.4 256.4h0M122.7 261.8h0M129.4 251.1h0M126.3 259.6h0M115.3 259.6h0M114.1 269.8h0M117.7 265.6h0M128.6 254.3h0M116.8 259.5h0M116.0 264.8h0M122.5 253.3h0M117.9 263.6h0M113.8 270.3h0M117.4 257.2h0M116.6 269.9h0M126.0 267.7h0M125.1 259.2h0M130.7 263.2h0M123.9 262.6h0M125.6 260.5h0M120.7 247.5h0M132.7 249.5h0M132.0 267.1h0M118.4 260.4h0M121.5 244.8h0M119.8 260.6h0M127.9 250.2h0M123.4 259.2h0M122.4 259.6h0M119.6 249.1h0M124.0 261.3h0M124.7 267.3h0M114.9 242.3h0M112.0 273.5h0M116.7 261.4h0M121.5 263.7h0M138.9 255.0h0M120.7 254.4h0M122.9 262.2h0M116.4 267.8h0M127.8 261.7h0M121.0 256.9h0M112.7 263.2h0M116.3 255.1h0M127.0 252.2h0M118.8 264.6h0M131.6 253.8h0M127.6 254.0h0M123.7 262.0h0M115.5 265.8h0M131.3 259.0h0M123.1 250.4h0M131.3 259.0h0M114.7 264.0h0M113.7 253.8h0M133.5 254.2h0M118.1 254.6h0M118.5 262.5h0M129.5 251.5h0M124.0 246.0h0M129.8 258.0h0M117.8 269.3h0M121.0 268.2h0M127.4 270.2h0M117.3 259.0h0M123.6 257.2h0M129.8 253.6h0M127.0 268.1h0M111.1 251.8h0M116.7 254.8h0M123.7 257.4h0M122.0 255.4h0M121.2 262.0h0M125.6 253.1h0M121.0 253.3h0M120.6 248.6h0M126.8 263.3h0M120.9 253.8h0M119.1 253.9h0M113.3 270.0h0M139.4 250.0h0M115.3 262.6h0M124.9 247.6h0M111.2 262.4h0M110.8 268.6h0M118.9 259.2h0M121.6 254.7h0M120.8 256.5h0M128.3 258.0h0M121.4 254.9h0M118.2 253.4h0M121.7 271.5h0M127.6 260.3h0M130.6 265.7h0M122.7 257.4h0M115.7 260.3h0M119.9 247.5h0M114.7 272.2h0M122.8 262.1h0M122.7 255.3h0M124.1 266.2h0M119.9 262.2h0M127.1 255.2h0M122.5 253.4h0M124.9 256.0h0M127.8 253.3h0M130.7 256.4h0M117.1 252.3h0M125.2 252.6h0M131.3 267.6h0M124.4 248.6h0M121.5 253.5h0M111.8 261.6h0M133.5 254.8h0M126.0 267.6h0M116.4 256.2h0M123.0 261.9h0M115.4 260.1h0M121.0 265.3h0M113.0 254.7h0M118.9 256.4h0M125.5 254.2h0M136.4 253.7h0M126.1 265.7h0M126.8 257.2h0M117.1 256.8h0M125.2 259.4h0M124.7 262.6h0M116.8 252.1h0M129.4 255.2h0M113.0 271.6h0M117.1 252.1h0M126.8 250.7h0M116.9 265.9h0M117.2 276.2h0M122.1 277.4h0M122.3 259.0h0M118.1 257.0h0M118.9 258.4h0M125.8 249.7h0M116.6 243.9h0M129.7 258.1h0M121.5 258.2h0M127.0 260.8h0M126.2 257.4h0M120.9 258.2h0M111.5 266.2h0M113.1 251.6h0M125.2 259.0h0M126.0 270.5h0M131.7 268.3h0M120.4 272.9h0M116.8 258.0h0M127.0 257.1h0M120.9 256.1h0M129.0 241.3h0M128.5 266.0h0M121.2 262.5h0M116.4 266.4h0M138.1 252.2h0M129.1 258.2h0M119.8 255.2h0M120.6 249.8h0M114.3 270.2h0M121.5 262.5h0M123.3 261.9h0M113.4 252.0h0M125.0 265.6h0M115.4 254.6h0M115.8 263.2h0M123.5 258.8h0M118.1 261.0h0M121.8 253.4h0M123.4 253.9h0M126.7 263.0h0M117.9 262.7h0M122.0 253.7h0M116.7 247.0h0M115.5 261.0h0M128.1 254.2h0M122.5 261.0h0M125.8 261.7h0M128.2 264.0h0M117.5 261.4h0M121.7 262.7h0M120.0 264.4h0M128.7 252.7h0M118.7 260.4h0M124.2 259.6h0M126.1 250.3h0M125.8 266.8h0M127.6 261.6h0M120.3 261.4h0M121.2 247.5h0M118.3 258.3h0M118.8 252.1h0M120.3 256.0h0M122.0 258.3h0M122.5 265.6h0M122.3 261.4h0M115.0 238.0h0M119.4 263.3h0M119.8 254.2h0M114.9 264.8h0M118.8 260.3h0M127.7 262.4h0M133.7 257.7h0M126.8 263.5h0M118.1 258.9h0M118.6 251.4h0M123.2 253.2h0M130.7 253.4h0M118.7 259.2h0M118.8 259.0h0M118.3 248.6h0M129.8 261.7h0M122.4 255.3h0M120.8 260.7h0M114.1 253.0h0M116.8 267.4h0M115.9 266.8h0M119.1 277.7h0M121.2 258.8h0M128.9 264.7h0M126.7 251.1h0M127.7 270.4h0M121.0 255.2h0M115.7 265.7h0M123.2 258.6h0M114.9 269.9h0M126.3 258.5h0M129.6 251.9h0M126.4 251.6h0M129.2 256.7h0M128.2 255.7h0M123.8 266.6h0M116.7 259.3h0M117.1 264.6h0M118.3 256.0h0M120.5 266.8h0M116.0 258.4h0M119.8 254.8h0M117.3 257.5h0M122.7 247.8h0M122.9 250.3h0M121.7 274.6h0M116.4 258.1h0M120.2 265.5h0M119.0 246.1h0M112.9 259.8h0M123.0 266.1h0M118.7 263.3h0M115.9 267.7h0M121.2 253.9h0M122.6 270.8h0M117.0 249.9h0M116.1 250.5h0M121.3 261.1h0M120.7 260.0h0M128.0 256.6h0M114.8 242.6h0M122.9 253.8h0M120.3 261.5h0M124.1 247.6h0M116.4 259.1h0M120.8 266.6h0M118.9 244.1h0M127.9 247.2h0M116.4 261.3h0M115.9 276.0h0M122.9 262.3h0M119.2 274.1h0M124.5 253.6h0M128.4 246.8h0M118.4 260.6h0M122.3 251.9h0M130.1 268.9h0M116.6 261.2h0M118.2 255.6h0M126.9 259.5h0M121.0 259.3h0M115.3 267.1h0M117.5 267.8h0M119.1 255.4h0M129.6 259.9h0M118.1 254.9h0M124.9 271.7h0M124.9 255.8h0M115.5 253.9h0M121.0 260.3h0M118.1 267.6h0M116.4 253.6h0M124.3 262.0h0M119.5 265.3h0M114.0 270.0h0M133.4 272.3h0M122.2 272.4h0M121.9 267.9h0M120.5 260.0h0M124.4 246.4h0M120.5 270.6h0M126.6 260.9h0M122.7 268.3h0M123.4 245.4h0M116.5 256.5h0M122.4 255.5h0M121.0 270.3h0M126.7 262.8h0M121.7 259.0h0M123.6 260.3h0M117.7 264.1h0M117.1 258.3h0M119.7 250.5h0M124.9 258.1h0M115.3 258.1h0M114.2 268.6h0M124.4 272.5h0M118.5 263.5h0M116.4 252.6h0M121.1 261.5h0M126.6 256.7h0M127.5 265.3h0M116.9 257.4h0M116.7 270.5h0M118.6 264.8h0M126.5 256.8h0M119.0 261.0h0M117.4 249.8h0M116.4 261.0h0M122.6 270.9h0M111.8 262.1h0M115.4 266.7h0M125.3 259.5h0M129.5 256.0h0M118.8 251.3h0M118.1 259.4h0M125.2 267.5h0M120.2 253.5h0M119.8 255.6h0M119.1 255.8h0M116.9 258.2h0M118.8 257.4h0M114.2 259.6h0M124.7 263.1h0M118.7 250.7h0M114.6 250.4h0M118.2 256.4h0M112.1 263.3h0M113.3 253.8h0M117.7 264.4h0M131.5 256.1h0M120.1 255.9h0M120.5 257.4h0M134.8 251.0h0M121.0 253.1h0M123.5 255.0h0M124.7 251.1h0M132.9 260.1h0M112.1 263.5h0M119.1 250.6h0M124.0 255.0h0M125.5 254.8h0M126.4 259.6h0M123.5 259.7h0M119.7 256.1h0M124.0 263.5h0M119.4 274.1h0M130.6 250.7h0M127.4 258.1h0M122.8 253.1h0M130.4 252.9h0M121.2 253.6h0M131.9 267.3h0M114.6 255.5h0M123.5 255.6h0M119.7 251.2h0M122.9 251.1h0M126.0 275.1h0M119.9 269.9h0M123.6 254.0h0M119.8 252.0h0M122.2 263.4h0M126.6 256.7h0" stroke="#555" stroke-width="0.44" stroke-linecap="round" opacity="0.3" fill="none"/>
<path d="M131.1 257.6h0M145.3 259.7h0M136.7 245.7h0M134.9 261.2h0M132.3 266.0h0M134.2 252.9h0M134.1 257.5h0M141.9 254.7h0M128.2 257.5h0M139.6 267.1h0M131.5 266.7h0M140.3 260.7h0M133.2 252.8h0M132.3 263.5h0M138.1 264.3h0M146.0 258.1h0M136.8 269.3h0M130.6 255.4h0M135.2 255.8h0M137.7 253.1h0M142.7 250.0h0M133.0 248.1h0M130.1 261.5h0M140.1 256.9h0M141.2 261.7h0M134.2 257.8h0M138.8 269.8h0M134.8 260.2h0M139.7 265.2h0M139.1 264.3h0M131.8 256.5h0M127.5 257.7h0M148.5 259.5h0M137.4 259.6h0M137.7 250.3h0M133.6 257.0h0M137.8 253.0h0M136.5 253.7h0M130.5 254.2h0M133.0 263.0h0M143.6 261.4h0M136.0 254.8h0M129.3 254.9h0M144.7 264.8h0M138.1 256.6h0M137.0 260.5h0M137.0 260.5h0M133.2 258.3h0M135.3 264.3h0M130.9 265.6h0M136.6 255.1h0M137.1 258.8h0M135.9 260.5h0M134.2 248.1h0M140.4 257.9h0M145.2 260.3h0M127.2 265.3h0M133.6 261.2h0M147.9 264.4h0M131.6 257.5h0M129.1 262.0h0M139.8 252.0h0M139.2 263.5h0M141.0 254.1h0M133.6 251.5h0M130.7 259.9h0M137.2 265.7h0M138.3 256.2h0M130.0 267.1h0M137.8 257.9h0M132.1 251.9h0M140.1 252.4h0M139.9 261.7h0M135.1 248.6h0M139.0 266.3h0M133.0 250.7h0M142.3 258.9h0M133.9 265.2h0M135.6 260.7h0M135.0 253.7h0" stroke="#555" stroke-width="0.44" stroke-linecap="round" opacity="0.5" fill="none"/>
<ellipse cx="121.8" cy="258.8" rx="9.6" ry="13.4" fill="#dcdcdc" stroke="none" stroke-width="0.4" transform="rotate(8 121.8 258.8)" filter="url(#bm)"/>
<ellipse cx="121.8" cy="259.2" rx="7.49" ry="10.72" fill="#d2d2d2" stroke="#c0c0c0" stroke-width="0.3" transform="rotate(8 121.8 259.2)" filter="url(#bs)"/>
<ellipse cx="121.8" cy="259.47" rx="5.57" ry="8.31" fill="#c6c6c6" stroke="#a4a4a4" stroke-width="0.4" transform="rotate(8 121.8 259.47)" />
<ellipse cx="121.8" cy="259.87" rx="3.65" ry="5.9" fill="#cecece" stroke="#b4b4b4" stroke-width="0.3" transform="rotate(8 121.8 259.87)" />
<ellipse cx="122" cy="260.14" rx="0.82" ry="1.74" fill="#f2f2f2" stroke="none" stroke-width="0.4" transform="rotate(8 122 260.14)" />
<path d="M197.8 191.1h0M192.3 193.5h0M200.6 205.9h0M203.2 205.1h0M201.6 199.5h0M196.0 201.1h0M194.6 203.1h0M196.0 199.5h0M194.9 196.6h0M199.9 195.9h0M195.3 199.7h0M199.6 196.2h0M194.0 185.8h0M193.5 205.6h0M197.0 201.2h0M200.2 199.7h0M198.5 193.8h0M192.8 202.3h0M196.9 201.9h0M194.3 196.5h0M202.7 191.2h0M197.5 207.5h0M196.6 198.5h0M191.4 203.4h0M196.0 207.3h0M197.0 194.8h0M198.4 195.8h0M195.8 209.2h0M199.9 198.4h0M199.4 203.8h0M198.8 197.9h0M197.4 200.7h0M198.8 200.3h0M195.7 197.0h0M198.5 190.2h0M197.2 203.3h0M197.7 195.5h0M197.1 194.0h0M199.9 194.8h0M192.6 188.5h0M198.0 199.2h0M195.9 187.8h0M196.8 191.3h0M195.4 197.6h0M195.1 199.9h0M195.2 194.1h0M196.6 208.6h0M201.5 204.7h0M195.2 197.6h0M199.7 203.6h0M192.7 197.2h0M195.2 203.2h0M198.9 193.6h0M203.1 195.5h0M203.9 196.4h0M197.0 211.8h0M195.8 194.1h0M201.2 197.3h0M198.5 188.2h0M202.1 205.0h0M198.2 202.9h0M195.8 194.1h0M192.9 200.4h0M200.6 204.0h0M199.7 202.9h0M194.7 187.9h0M199.0 198.9h0M199.9 195.6h0M194.8 200.9h0M195.7 185.4h0M195.5 191.1h0M194.1 193.5h0M199.8 215.1h0M201.9 194.5h0M200.3 197.1h0M198.3 192.6h0M197.0 185.2h0M202.1 191.9h0M198.8 193.3h0M197.9 188.9h0M196.2 204.4h0M198.8 183.2h0M199.5 187.9h0M198.0 201.5h0M195.4 195.3h0M196.5 200.6h0M199.7 207.7h0M198.1 212.4h0M194.6 210.8h0M196.5 203.3h0M196.9 198.2h0M194.7 200.5h0M202.8 198.7h0M197.1 197.7h0M199.2 196.1h0M197.2 199.2h0M200.8 204.7h0M194.3 192.9h0M197.3 203.9h0M199.9 196.1h0M203.0 196.4h0M201.1 208.2h0M201.6 199.1h0M198.8 186.3h0M192.3 193.1h0M199.2 205.5h0M196.9 205.3h0M198.8 208.9h0M192.8 191.5h0M194.6 189.9h0M201.7 190.8h0M194.9 194.7h0M199.6 194.2h0M199.2 201.7h0M195.4 180.1h0M194.7 188.4h0M201.7 192.3h0M194.3 200.4h0M197.3 190.7h0M200.2 204.4h0M198.0 192.0h0M194.8 182.4h0M198.3 200.5h0M194.7 197.8h0M206.2 189.3h0M192.5 202.1h0M196.0 194.0h0M198.9 196.6h0M199.9 201.4h0M200.4 198.5h0M191.3 207.7h0M192.5 205.3h0M197.9 187.3h0M197.4 204.1h0M194.4 197.9h0M195.2 190.2h0M195.5 207.1h0M199.1 197.4h0M197.0 198.5h0M198.0 199.0h0M192.5 204.4h0M194.8 178.3h0M199.1 188.7h0M196.8 196.9h0M195.6 201.6h0M196.5 195.5h0M194.6 195.5h0M194.4 197.9h0M200.8 205.1h0M198.4 187.5h0M200.0 204.5h0M202.9 180.9h0M197.2 195.1h0M200.2 189.5h0M196.2 214.8h0M199.9 182.8h0M197.3 207.7h0M195.5 202.0h0M197.5 186.7h0M195.5 206.0h0M200.5 193.1h0M200.3 192.3h0M197.9 197.4h0M193.8 200.0h0M196.1 177.2h0M194.9 191.3h0M194.9 190.3h0M195.3 179.3h0M199.7 198.1h0M197.9 195.6h0M197.4 195.6h0M194.2 186.3h0M197.4 205.1h0M197.8 209.6h0M193.4 195.6h0M195.5 206.7h0M201.9 193.7h0M199.2 195.7h0M194.4 196.7h0M194.3 209.1h0M198.8 206.4h0M198.2 179.4h0M199.4 198.2h0M200.0 210.3h0M194.4 203.4h0M198.1 196.3h0M196.4 201.5h0M198.8 202.4h0M196.1 187.7h0M200.8 207.2h0M195.6 197.3h0M199.4 184.4h0M198.6 215.6h0M197.9 192.3h0M202.8 197.6h0M197.8 194.4h0M197.7 184.1h0M193.7 186.5h0M199.7 196.8h0M200.4 182.3h0M195.5 208.4h0M195.0 183.6h0M195.1 194.9h0M197.2 207.3h0M200.9 209.1h0M198.8 193.8h0M195.8 186.5h0M200.7 206.9h0M197.4 190.9h0M199.1 201.2h0M197.6 188.8h0M197.9 193.3h0M199.2 202.0h0M198.4 194.3h0M201.4 203.3h0M200.7 203.8h0M199.0 200.4h0M194.3 183.9h0M194.6 202.1h0M199.7 198.9h0M197.4 211.2h0M196.1 184.2h0M192.9 195.1h0M199.1 203.0h0M196.6 203.6h0M197.1 192.1h0M196.2 203.2h0M199.8 189.1h0M194.5 198.4h0M203.0 188.8h0M193.8 200.6h0M198.6 192.9h0M197.1 201.1h0M192.4 197.3h0M198.9 204.4h0M200.4 197.0h0M193.2 207.5h0M199.3 192.7h0M200.0 205.3h0M196.8 179.9h0M195.9 191.9h0M194.9 196.9h0M194.2 200.4h0M202.4 188.6h0M200.1 193.5h0M198.7 196.6h0M200.7 192.2h0M199.2 191.7h0M197.8 197.4h0M200.2 185.7h0M193.5 207.9h0M198.3 210.2h0M194.4 199.1h0M198.9 210.7h0M197.1 194.2h0M199.2 196.7h0M195.1 203.2h0M192.0 189.9h0M200.9 193.8h0M196.3 200.3h0M200.3 201.5h0M194.6 193.3h0M200.1 196.6h0M195.5 204.0h0M200.3 213.8h0M194.3 192.2h0M195.3 200.2h0M195.9 205.8h0M195.4 195.4h0M198.8 199.0h0M194.4 208.7h0M198.8 193.8h0M197.8 189.2h0M193.8 195.3h0M198.2 198.3h0M195.1 187.1h0M192.6 209.4h0M198.2 191.5h0M200.4 201.5h0M196.1 192.9h0M200.3 200.0h0M201.7 200.2h0M195.6 193.0h0M195.3 199.4h0M197.9 202.0h0M198.4 189.6h0M196.6 190.5h0M198.5 187.7h0M195.6 191.1h0M195.5 195.6h0M201.3 195.6h0M193.3 195.2h0M199.2 201.6h0M197.9 212.4h0M200.2 198.2h0M200.5 187.5h0M196.7 191.0h0M197.7 209.6h0" stroke="#555" stroke-width="0.44" stroke-linecap="round" opacity="0.4" fill="none"/>
<path d="M203.7 205.0h0M200.6 204.3h0M196.7 194.3h0M212.4 197.6h0M207.4 197.9h0M207.7 197.2h0M200.9 196.7h0M207.2 194.0h0M209.3 205.8h0M197.0 195.6h0M205.0 198.1h0M207.2 194.8h0M206.4 198.0h0M206.1 204.8h0M207.4 191.5h0M197.5 200.6h0M204.6 195.3h0M198.7 196.6h0M206.1 195.0h0M204.6 201.9h0M211.2 200.4h0M205.6 192.0h0M211.1 204.6h0M214.0 203.1h0M208.2 199.7h0M206.5 203.5h0M205.0 207.5h0M211.1 196.6h0M206.6 190.9h0M202.3 196.7h0M220.9 194.4h0M212.0 198.3h0M204.9 200.8h0M195.0 202.2h0M217.9 199.3h0M206.2 198.7h0M210.5 195.8h0M207.3 200.2h0M204.6 199.7h0M208.5 201.2h0M200.9 195.6h0M204.1 203.3h0M208.1 190.7h0M199.2 206.6h0M208.6 192.3h0M201.3 198.6h0M214.9 205.1h0M204.5 196.7h0M217.8 193.7h0M215.7 199.5h0M207.2 203.7h0M209.4 194.3h0M197.7 198.1h0M209.6 204.0h0M191.4 203.9h0M210.2 204.7h0M211.2 198.9h0M209.1 199.8h0M202.9 197.5h0M207.3 196.0h0M198.1 191.6h0M209.5 200.3h0M207.2 192.8h0M211.6 196.3h0M194.5 204.9h0M197.9 208.0h0M209.7 196.1h0M192.9 194.9h0M215.2 204.0h0M208.1 190.4h0M204.4 196.8h0M209.3 197.4h0M208.6 190.8h0M202.9 204.4h0M198.1 202.1h0M220.1 200.9h0M198.5 203.5h0M195.8 199.5h0M204.2 203.5h0M213.5 198.8h0M217.0 202.3h0M203.8 193.7h0M220.9 196.2h0M209.0 197.5h0M203.8 190.9h0M205.8 197.5h0M212.3 195.7h0M197.5 193.3h0M206.4 199.1h0M210.8 196.3h0M209.7 198.6h0M216.4 197.8h0M207.4 200.5h0M213.7 193.9h0M203.8 196.8h0M194.2 203.8h0M212.9 198.1h0M226.2 203.6h0M218.4 205.0h0M211.9 191.7h0M215.5 199.9h0M199.6 198.2h0M211.0 202.4h0M207.6 195.7h0M211.1 194.6h0M206.2 201.4h0M198.2 199.7h0M195.2 193.9h0M199.4 197.6h0M210.8 197.8h0" stroke="#555" stroke-width="0.44" stroke-linecap="round" opacity="0.45" fill="none"/>
<path d="M227.0 198.6h0M221.1 201.0h0M221.0 198.8h0M227.7 194.5h0M228.2 191.3h0M221.1 187.5h0M219.4 207.7h0M224.1 205.7h0M214.5 191.9h0M224.7 203.0h0M226.6 187.8h0M224.9 197.6h0M222.8 200.9h0M220.7 187.7h0M216.6 189.2h0M215.3 197.2h0M229.1 193.7h0M218.2 191.0h0M213.1 198.4h0M219.7 196.5h0M217.2 201.0h0M215.9 201.3h0M218.7 202.8h0M217.5 200.7h0M224.5 197.5h0M230.8 199.1h0M217.5 202.2h0M217.9 194.7h0M222.3 199.1h0M231.2 187.4h0M220.8 204.9h0M221.4 200.0h0M230.2 190.5h0M222.4 202.8h0M219.1 187.3h0M217.0 199.2h0M223.2 209.2h0M229.2 188.6h0M227.7 203.6h0M230.7 197.1h0M219.3 198.9h0M230.3 201.8h0M231.1 202.8h0M219.1 191.8h0M231.9 188.8h0M220.4 196.1h0M217.4 194.5h0M222.2 212.5h0M221.9 194.8h0M222.9 203.7h0M217.9 195.5h0M213.0 202.3h0M225.8 207.1h0M215.9 211.2h0M226.8 196.3h0M220.1 196.1h0M215.8 202.7h0M219.0 193.6h0M224.9 198.7h0M219.1 196.6h0M219.6 206.2h0M227.5 193.6h0M222.0 206.4h0M220.7 208.9h0M224.5 202.1h0M211.3 203.2h0M224.0 201.6h0M224.7 201.2h0M219.5 203.5h0M222.5 191.6h0M216.8 199.0h0M224.0 184.5h0M211.3 204.4h0M222.1 215.4h0M214.1 196.5h0M219.0 201.4h0M229.6 207.8h0M216.9 205.5h0M215.8 199.9h0M223.1 201.8h0M218.0 206.2h0M221.8 197.9h0M220.8 191.5h0M226.0 200.1h0M224.6 209.4h0M217.6 196.3h0M222.2 203.2h0M221.3 203.7h0M224.6 187.3h0M218.6 185.6h0M220.7 195.5h0M225.3 199.0h0M221.9 205.7h0M225.3 190.5h0M218.6 200.0h0M231.2 196.8h0M221.3 199.6h0M226.3 197.5h0M223.8 195.4h0M219.3 193.1h0M225.7 194.6h0M225.1 200.5h0M227.3 181.6h0M217.1 190.5h0M221.3 202.9h0M235.6 207.4h0M229.4 200.3h0M220.2 201.3h0M210.7 203.7h0M222.2 201.8h0M216.8 191.3h0M218.8 197.7h0M224.0 195.8h0M224.0 202.2h0M216.1 197.4h0M214.0 194.6h0M227.0 193.6h0M232.0 201.1h0M226.9 198.6h0M226.8 204.7h0M222.8 194.8h0M219.3 209.8h0M221.2 195.2h0M218.5 187.7h0M219.6 200.0h0M219.6 193.4h0M224.4 200.8h0M219.9 199.9h0M217.1 203.3h0M217.0 195.9h0M222.9 195.4h0M216.2 210.9h0M230.2 187.3h0M222.8 190.2h0M223.8 190.0h0M225.3 201.3h0M231.2 205.4h0M219.8 203.8h0M219.8 197.3h0M219.6 187.2h0M225.4 185.5h0M221.0 201.2h0M222.8 188.3h0M218.8 202.2h0M228.0 207.8h0M212.6 200.8h0M219.7 202.7h0M213.3 197.1h0M225.9 194.0h0M220.3 192.0h0M228.1 189.9h0M217.4 196.0h0M220.5 211.0h0M223.6 192.9h0M225.3 200.1h0M223.7 197.6h0M224.6 190.8h0M215.9 195.4h0M216.4 202.3h0M232.4 205.6h0M224.6 200.1h0M218.6 190.0h0M225.1 188.9h0M223.8 197.1h0M226.2 198.3h0M222.8 194.4h0M213.1 195.9h0M225.9 204.4h0M229.5 191.9h0M217.3 202.3h0M219.8 213.8h0M223.9 188.7h0M219.3 207.6h0M212.6 198.9h0M214.9 207.8h0M219.8 191.7h0M213.2 193.6h0M208.7 195.1h0M233.7 198.6h0M220.8 190.9h0M224.0 195.1h0M217.7 206.5h0M224.5 192.5h0M230.0 197.7h0M224.9 198.9h0M228.4 201.8h0M220.4 202.4h0M220.1 198.8h0M230.9 191.5h0M216.7 195.5h0M219.6 206.0h0M213.8 212.1h0M230.6 195.2h0M223.2 195.8h0M225.7 202.1h0M226.2 202.7h0M232.4 197.0h0M225.9 196.9h0M222.4 199.3h0M221.9 200.1h0M217.7 197.1h0M219.0 190.8h0M218.5 194.9h0M221.4 188.4h0M220.8 191.1h0M217.9 199.2h0M228.1 199.8h0M219.6 195.3h0M229.3 188.0h0M228.2 188.8h0M218.9 198.3h0M221.0 208.2h0M224.8 197.7h0M227.2 198.2h0M217.9 204.9h0M230.1 205.9h0M216.0 209.7h0M220.0 202.7h0M228.5 212.6h0M213.7 191.7h0M228.4 201.0h0M220.6 180.0h0M224.5 196.9h0M208.4 214.5h0M209.0 194.6h0M222.2 199.4h0M226.2 196.4h0M217.5 195.8h0M211.1 191.1h0M232.6 193.8h0M221.8 209.7h0M227.8 198.8h0M226.1 196.3h0M217.4 204.2h0M222.9 207.9h0M220.8 195.7h0M224.0 196.8h0M220.6 192.5h0M223.5 200.0h0M231.9 197.8h0M212.9 200.9h0M234.3 195.3h0M218.0 197.0h0M207.1 195.9h0M221.2 188.7h0M225.3 192.6h0M212.4 193.6h0M225.6 209.8h0M228.8 199.2h0M219.5 196.4h0M227.3 194.8h0M224.4 204.0h0M217.4 194.4h0M224.6 198.1h0M221.5 194.7h0M221.9 209.4h0M229.4 188.1h0M222.5 198.6h0M222.4 189.5h0M221.5 198.9h0" stroke="#555" stroke-width="0.44" stroke-linecap="round" opacity="0.4" fill="none"/>
<path d="M231.6 199.8h0M226.9 190.4h0M233.7 200.2h0M233.0 195.8h0M233.9 203.8h0M235.8 197.8h0M232.2 203.7h0M234.8 202.8h0M232.7 193.8h0M233.9 195.0h0M236.4 202.6h0M227.6 201.6h0M236.9 203.6h0M232.1 193.8h0M236.0 203.4h0M233.6 192.2h0M229.4 199.6h0M231.2 194.7h0M234.6 203.6h0M227.9 194.7h0M236.8 198.0h0M232.5 201.5h0M230.4 191.9h0M233.5 206.3h0M236.1 198.2h0M236.1 196.1h0M230.3 189.5h0M234.1 202.9h0M234.4 198.0h0M232.3 203.8h0M233.3 190.8h0M237.0 194.8h0M234.4 198.2h0M236.2 199.5h0M236.7 199.3h0M232.2 195.6h0M235.1 193.9h0M235.9 197.0h0M230.9 193.7h0M233.0 207.4h0M235.4 198.3h0M231.0 208.1h0M232.7 198.2h0M232.3 205.1h0M233.9 195.8h0M233.9 193.0h0M230.6 197.4h0M225.8 204.3h0M238.7 192.4h0M233.0 190.0h0M233.9 199.3h0M235.4 191.3h0M231.8 194.9h0M232.7 210.0h0M232.9 198.0h0M232.1 202.3h0M240.2 204.2h0M237.5 192.6h0M236.2 198.3h0M236.7 203.7h0M235.1 189.5h0M233.8 195.6h0M234.6 198.4h0M236.2 189.9h0M231.4 197.8h0M234.3 196.1h0M233.3 198.5h0M236.2 197.6h0M234.0 188.8h0M226.5 190.6h0M234.3 186.3h0M234.5 197.7h0M233.4 194.4h0M232.3 202.5h0M234.3 198.1h0M232.1 199.3h0M236.6 198.1h0M232.4 192.1h0M233.7 193.4h0M229.6 202.7h0M231.7 187.6h0M231.5 207.8h0M233.1 191.3h0M230.5 201.9h0M234.5 199.3h0M232.9 200.7h0M237.5 200.7h0M233.0 190.9h0M234.6 206.3h0M235.1 191.7h0M233.9 204.9h0M231.7 200.8h0M236.6 206.7h0M229.2 189.1h0M234.4 201.8h0M232.5 198.1h0M232.3 204.4h0M227.5 199.5h0M230.0 194.7h0M229.3 193.5h0M233.3 198.3h0M238.2 197.1h0M234.3 200.0h0M234.1 205.8h0M233.8 199.0h0M233.1 198.2h0M233.3 203.4h0M233.5 198.6h0M233.3 202.1h0M232.1 203.1h0M231.9 201.8h0M238.5 199.4h0M233.2 192.1h0M235.4 198.3h0M235.8 194.8h0M234.8 207.6h0M234.5 196.5h0M229.9 198.2h0M235.2 201.3h0M230.4 192.9h0M230.8 192.9h0M232.7 199.6h0M238.5 199.2h0M237.3 189.6h0M237.5 202.4h0M234.6 202.5h0M235.0 208.2h0M235.5 189.1h0M228.7 206.6h0M233.2 205.1h0M232.5 194.8h0M232.5 199.8h0M233.9 195.0h0M234.8 201.4h0M231.0 192.4h0M228.2 196.6h0M233.4 194.6h0M231.8 197.5h0M233.5 201.2h0M235.6 200.5h0M236.4 193.2h0M235.0 200.1h0M230.6 194.7h0M234.6 198.6h0M230.0 195.3h0M237.5 202.6h0M233.6 205.2h0M231.0 197.3h0M236.0 196.4h0M230.4 201.3h0" stroke="#555" stroke-width="0.44" stroke-linecap="round" opacity="0.4" fill="none"/>
<path d="M193.4 184C192 192 192 204 193.6 211C196.6 212 198.2 206 201.2 198.5C200.2 192 198 183.5 193.4 184Z" fill="#ececec" stroke="#b0b0b0" stroke-width="0.4" />
<path d="M193.75 185.96C192.66 192.84 192.66 203.16 193.91 209.18C196.25 210.04 197.5 204.88 199.84 198.43C199.06 192.84 197.34 185.53 193.75 185.96Z" fill="#e0e0e0" stroke="#a0a0a0" stroke-width="0.4" />
<path d="M194.1 187.92C193.32 193.68 193.32 202.32 194.22 207.36C195.9 208.08 196.79 203.76 198.47 198.36C197.91 193.68 196.68 187.56 194.1 187.92Z" fill="#cfcfcf" stroke="#909090" stroke-width="0.4" />
<ellipse cx="194.7" cy="200" rx="1.5" ry="9.4" fill="#a8a8a8" stroke="#808080" stroke-width="0.35" />
<ellipse cx="194.5" cy="201.2" rx="0.75" ry="7.6" fill="#484848" stroke="none" stroke-width="0.4" filter="url(#bs)"/>
<ellipse cx="222.2" cy="198" rx="6" ry="7" fill="#fdfdfd" stroke="#a5a5a5" stroke-width="0.38" />
<ellipse cx="222.2" cy="198" rx="4.5" ry="5.25" fill="none" stroke="#9f9f9f" stroke-width="0.38" />
<ellipse cx="222.2" cy="198" rx="3" ry="3.5" fill="none" stroke="#999999" stroke-width="0.38" />
<ellipse cx="222.2" cy="198" rx="1.5" ry="1.75" fill="none" stroke="#939393" stroke-width="0.38" />
<ellipse cx="222.2" cy="198" rx="0.6" ry="0.7" fill="#fff" stroke="#a0a0a0" stroke-width="0.3" />
<ellipse cx="233.4" cy="198.2" rx="3" ry="6.6" fill="#f4f4f4" stroke="#969696" stroke-width="0.45" />
<ellipse cx="233.4" cy="198.2" rx="2" ry="4.4" fill="none" stroke="#8e8e8e" stroke-width="0.45" />
<ellipse cx="233.4" cy="198.2" rx="1" ry="2.2" fill="none" stroke="#868686" stroke-width="0.45" />
<ellipse cx="233.3" cy="198.2" rx="0.9" ry="3.3" fill="#fdfdfd" stroke="#a8a8a8" stroke-width="0.3" />
<path d="M264.7 178.0h0M260.7 187.9h0M259.5 186.6h0M267.5 192.3h0M260.4 192.1h0M257.6 194.0h0M260.9 211.0h0M261.1 209.6h0M257.4 198.1h0M259.1 185.4h0M270.6 195.6h0M261.0 191.7h0M258.7 189.5h0M263.1 194.4h0M259.9 198.9h0M256.9 199.3h0M259.8 200.9h0M259.2 197.8h0M261.7 204.9h0M258.4 205.0h0M257.6 196.0h0M260.7 198.6h0M259.8 204.6h0M258.4 209.1h0M255.3 198.1h0M261.8 197.6h0M261.0 204.7h0M258.1 202.0h0M263.2 195.7h0M257.9 189.3h0M261.5 191.3h0M267.2 201.9h0M256.7 195.3h0M264.5 202.7h0M257.5 205.5h0M259.0 214.6h0M258.8 202.1h0M261.9 194.1h0M259.9 206.4h0M261.7 197.0h0M261.5 211.0h0M262.9 201.2h0M261.2 185.4h0M260.7 193.7h0M262.3 192.8h0M261.5 189.4h0M262.8 191.9h0M260.2 202.0h0M259.4 197.6h0M263.2 211.1h0M255.3 190.5h0M262.2 204.7h0M259.0 198.2h0M259.8 215.0h0M259.7 188.3h0M256.0 187.7h0M263.9 194.5h0M265.7 202.4h0M261.4 202.5h0M262.5 204.6h0M257.6 193.2h0M258.8 198.3h0M259.6 188.0h0M258.4 211.3h0M266.2 190.9h0M261.4 197.2h0M258.0 203.0h0M260.1 210.4h0M261.6 195.1h0M262.6 192.0h0M262.7 202.8h0M255.4 196.0h0M261.2 203.3h0M260.7 197.4h0M259.3 195.3h0M260.3 189.3h0M262.1 195.0h0M261.7 193.6h0M261.4 198.5h0M262.8 201.1h0M262.9 196.2h0M260.1 195.5h0M256.8 196.5h0M263.3 203.4h0M257.9 199.8h0M262.4 187.0h0M261.3 200.0h0M262.4 199.5h0M255.5 182.0h0M265.8 194.5h0M263.8 207.2h0M260.5 188.7h0M264.1 197.2h0M261.7 201.2h0M262.9 205.3h0M256.4 186.7h0M260.7 197.6h0M262.5 196.5h0M259.8 213.1h0M264.1 206.4h0M263.2 191.4h0M260.1 197.0h0M257.3 190.8h0M260.7 188.2h0M261.8 201.1h0M259.6 194.9h0M262.0 201.2h0M261.3 188.1h0M255.8 213.2h0M258.5 194.7h0M255.3 191.4h0M258.3 203.6h0M259.2 193.7h0M258.2 194.1h0M255.9 199.6h0M263.6 198.7h0M258.8 207.2h0M261.6 189.6h0M258.7 192.8h0M260.2 206.8h0M258.4 196.4h0M260.6 188.4h0M259.0 202.2h0M263.4 183.1h0M262.3 195.3h0M263.9 202.3h0M265.7 199.9h0M259.2 191.1h0M256.3 201.8h0M261.7 203.8h0M261.3 186.0h0M259.2 195.6h0M260.7 203.4h0M264.2 199.7h0M254.6 189.7h0M254.4 191.6h0M257.0 199.3h0M259.7 206.0h0M263.3 194.0h0M262.9 197.6h0M261.6 207.8h0M257.1 197.0h0M264.6 191.7h0M260.9 198.5h0M259.2 187.5h0M258.4 190.0h0M263.3 199.4h0M262.2 188.4h0M261.7 198.6h0M263.2 192.0h0M262.5 208.0h0M265.3 190.4h0M257.2 186.3h0M263.0 202.1h0M261.2 190.9h0M263.8 209.8h0M260.2 196.6h0M263.6 201.4h0M264.0 194.4h0M261.2 194.9h0M258.7 195.2h0M259.5 201.4h0M259.5 198.0h0M258.1 188.1h0M264.3 190.0h0M265.3 204.7h0M259.1 197.7h0M259.8 192.9h0M263.8 196.5h0M263.0 192.3h0M258.4 207.7h0M259.5 189.1h0M259.8 205.5h0M259.9 192.0h0M262.1 205.0h0M259.7 195.1h0M259.3 218.1h0M259.8 210.8h0M259.9 200.6h0M254.7 198.9h0M260.4 195.1h0M259.2 187.1h0M256.2 198.8h0M258.5 196.8h0M259.8 193.6h0M258.3 211.7h0M257.3 193.6h0M259.5 188.7h0M257.7 204.1h0M262.9 198.5h0M269.3 203.8h0M263.7 191.3h0M263.3 210.4h0M259.3 211.3h0M258.1 188.9h0M260.2 191.4h0M262.1 189.1h0M260.5 182.6h0M260.2 205.5h0M259.6 199.9h0M263.3 189.1h0M256.8 198.1h0M261.1 195.5h0M257.6 206.8h0M257.1 195.5h0M260.2 203.0h0M259.1 191.3h0M265.9 191.1h0M262.5 196.3h0M259.0 197.2h0M259.6 199.9h0M260.5 190.1h0M259.2 215.3h0M265.4 202.4h0M261.0 195.2h0M264.1 194.1h0M258.0 202.8h0M257.6 191.5h0M264.3 185.3h0M260.1 198.4h0M261.0 186.4h0M259.7 195.0h0M265.6 205.2h0M258.2 204.2h0M262.1 196.6h0M259.6 195.4h0M256.0 192.7h0M262.9 208.5h0M265.4 194.6h0M262.0 179.2h0M259.6 187.9h0M262.6 184.9h0M257.4 189.1h0M261.4 203.9h0M257.8 211.2h0M260.8 191.2h0M261.3 197.4h0M262.6 200.1h0M266.4 206.4h0M258.5 203.5h0M262.4 189.9h0M258.2 191.4h0M259.7 206.9h0M258.8 198.1h0M262.3 204.9h0M261.2 189.6h0M266.4 204.1h0M264.1 209.8h0M264.2 200.7h0M261.6 202.3h0M256.2 203.7h0M257.6 200.7h0M257.5 202.9h0M259.0 216.4h0M260.8 201.4h0M257.8 195.3h0M260.2 195.3h0M259.1 190.9h0M262.4 194.6h0M258.1 200.3h0M258.1 196.2h0M258.9 190.5h0M259.7 191.2h0M256.9 200.2h0M259.5 186.4h0M259.2 198.9h0M261.5 200.3h0M261.0 202.0h0M259.0 191.4h0M262.0 194.4h0M260.3 202.5h0M262.9 206.8h0M258.4 194.7h0M261.9 186.6h0M256.8 202.1h0M258.6 190.5h0M262.5 201.5h0M262.9 195.0h0M259.5 194.9h0M261.1 182.1h0M258.4 202.9h0M258.2 197.0h0M260.7 201.5h0M259.0 188.9h0M267.2 192.1h0M265.0 184.2h0M260.6 196.0h0M265.5 213.0h0M263.0 189.8h0M258.1 191.8h0M258.9 199.5h0M258.2 195.6h0M264.4 208.4h0" stroke="#555" stroke-width="0.44" stroke-linecap="round" opacity="0.4" fill="none"/>
<path d="M258.8 193.7h0M267.6 203.8h0M267.8 206.5h0M271.9 204.4h0M264.7 196.6h0M275.8 200.6h0M258.7 196.8h0M270.8 200.8h0M266.0 205.8h0M270.7 204.5h0M272.1 198.4h0M267.9 192.8h0M274.9 201.4h0M275.3 196.3h0M263.8 196.3h0M267.9 198.0h0M275.6 193.9h0M266.9 201.1h0M275.1 207.9h0M272.9 194.2h0M263.6 194.5h0M270.2 199.1h0M269.4 195.3h0M268.7 197.7h0M273.3 198.4h0M265.0 192.8h0M278.5 197.6h0M268.7 197.9h0M276.4 196.6h0M270.8 197.0h0M273.2 193.5h0M271.0 202.6h0M276.7 200.8h0M271.5 205.0h0M273.9 204.2h0M262.7 193.1h0M274.5 196.8h0M267.2 193.8h0M278.5 192.7h0M270.4 191.8h0M268.8 208.0h0M284.1 195.8h0M263.8 205.3h0M264.7 190.1h0M271.8 193.2h0M261.2 203.0h0M265.5 193.3h0M270.8 197.2h0M276.4 198.4h0M279.1 203.1h0M280.3 203.0h0M270.2 200.4h0M269.9 191.1h0M262.9 201.3h0M255.9 194.3h0M262.2 197.7h0M263.7 199.1h0M268.6 195.9h0M264.8 188.1h0M270.2 192.3h0M268.1 199.7h0M275.9 201.1h0M278.5 191.7h0M273.8 205.0h0M272.1 193.1h0M272.1 195.7h0M266.0 202.7h0M268.7 193.0h0M265.8 206.7h0M264.8 201.0h0M270.8 203.2h0M268.2 193.8h0M266.0 193.4h0M285.0 198.9h0M267.9 203.6h0M273.6 197.2h0M273.4 199.2h0M276.4 205.4h0M268.0 197.9h0M268.7 203.5h0M272.0 201.5h0M275.1 195.2h0M270.6 204.2h0M275.2 201.6h0M268.2 196.4h0M264.8 196.8h0M269.4 191.6h0M276.6 194.6h0M271.3 200.7h0M266.6 190.0h0M275.5 199.8h0M268.3 203.1h0M275.0 193.8h0M269.3 190.2h0M268.3 204.3h0M264.9 201.7h0M261.0 196.7h0M275.3 205.7h0M272.5 201.4h0M279.9 187.2h0M259.8 206.4h0M284.2 200.7h0M270.2 199.2h0M270.0 195.3h0M269.7 197.5h0M273.7 201.0h0M275.5 200.6h0M264.1 204.2h0M271.7 195.7h0M280.8 193.2h0M263.0 195.8h0M272.2 201.5h0M270.4 201.0h0M265.7 195.3h0M270.6 192.0h0M270.9 196.3h0M273.8 193.5h0M266.7 195.5h0M267.7 193.6h0" stroke="#555" stroke-width="0.44" stroke-linecap="round" opacity="0.45" fill="none"/>
<path d="M283.8 189.9h0M288.4 202.9h0M285.2 197.4h0M280.2 192.4h0M284.0 192.8h0M278.5 199.7h0M285.2 196.0h0M280.6 198.3h0M281.3 195.9h0M286.4 203.3h0M289.7 194.7h0M292.3 191.2h0M284.3 207.0h0M299.0 199.4h0M283.2 196.2h0M278.3 197.7h0M282.9 193.8h0M292.2 193.6h0M295.1 204.0h0M289.0 194.8h0M282.4 185.8h0M286.9 196.9h0M287.5 194.3h0M288.1 189.0h0M272.7 201.7h0M291.5 178.4h0M292.7 196.4h0M284.4 188.7h0M279.5 203.2h0M281.1 198.4h0M284.4 211.4h0M290.4 190.1h0M282.5 191.2h0M277.3 194.2h0M291.6 198.9h0M289.2 197.7h0M282.9 199.1h0M284.9 211.0h0M295.6 201.0h0M288.8 185.8h0M284.6 214.0h0M280.7 203.9h0M292.3 196.1h0M284.0 195.7h0M289.9 198.8h0M293.9 206.3h0M285.2 215.3h0M283.5 194.7h0M283.9 192.9h0M282.9 198.2h0M290.4 188.4h0M277.3 193.6h0M283.5 201.5h0M280.8 208.3h0M282.3 197.2h0M285.6 206.1h0M287.0 198.8h0M282.2 199.7h0M287.6 196.4h0M285.2 186.7h0M282.2 206.2h0M293.4 198.1h0M272.9 210.4h0M284.3 215.2h0M282.9 205.1h0M281.7 207.5h0M291.9 191.7h0M292.7 217.1h0M284.0 190.8h0M286.9 196.0h0M276.7 191.8h0M286.7 188.8h0M291.5 201.5h0M284.2 207.7h0M280.0 203.0h0M277.5 196.5h0M288.9 195.2h0M284.6 202.8h0M294.0 207.0h0M287.9 196.9h0M277.0 209.7h0M296.0 184.7h0M290.2 198.3h0M289.3 200.6h0M284.2 198.6h0M285.0 206.1h0M283.8 195.1h0M289.0 202.8h0M287.8 200.4h0M293.7 205.8h0M286.5 197.2h0M289.0 186.5h0M282.3 194.0h0M286.2 196.1h0M299.3 203.4h0M287.6 213.2h0M285.2 196.5h0M292.3 204.0h0M290.5 206.4h0M283.2 194.3h0M281.1 199.3h0M291.0 191.8h0M282.2 189.9h0M296.7 203.8h0M286.5 190.7h0M279.4 194.4h0M285.5 190.4h0M284.0 206.5h0M285.3 199.2h0M273.3 196.8h0M284.4 194.1h0M277.4 198.1h0M279.4 195.1h0M276.1 198.0h0M290.4 193.2h0M287.1 188.8h0M288.6 202.1h0M283.0 204.3h0M280.2 198.9h0M294.9 198.5h0M278.8 206.1h0M288.3 196.8h0M274.9 186.4h0M276.6 208.2h0M286.9 193.1h0M291.8 208.1h0M280.4 201.7h0M275.9 201.0h0M295.6 189.4h0M285.6 194.5h0M284.7 199.2h0M286.9 204.4h0M288.2 205.4h0M291.0 205.7h0M281.4 201.3h0M283.1 193.1h0M296.4 200.5h0M285.5 184.9h0M283.9 203.6h0M284.1 195.1h0M293.7 196.6h0M283.4 198.0h0M283.9 205.4h0M288.5 198.1h0M283.2 197.1h0M294.9 196.6h0M289.0 188.4h0M287.1 203.1h0M292.5 200.7h0M288.5 200.7h0M291.3 211.9h0M286.4 193.3h0M288.6 197.9h0M288.9 203.6h0M286.1 195.7h0M287.0 190.5h0M286.8 192.8h0M287.8 199.4h0M284.0 190.8h0M285.5 194.2h0M284.5 203.1h0M290.7 190.2h0M290.6 207.5h0M291.7 200.4h0M284.7 209.9h0M283.4 188.7h0M285.8 200.5h0M279.4 190.7h0M296.5 199.3h0M289.7 194.8h0M276.6 197.4h0M292.9 194.3h0M275.1 197.5h0M283.7 198.7h0M279.3 196.6h0M282.2 204.3h0M286.1 204.3h0M285.0 184.7h0M274.1 202.1h0M290.2 204.3h0M284.8 187.0h0M282.5 201.2h0M293.1 196.4h0M282.1 193.6h0M291.1 204.2h0M274.9 206.5h0M280.0 189.0h0M276.2 193.9h0M298.4 215.2h0M278.2 194.2h0M286.2 201.3h0M282.5 188.3h0M282.9 194.2h0M275.1 199.5h0M276.9 187.3h0M293.9 204.7h0M293.5 199.4h0M282.9 198.0h0M277.5 203.4h0M286.8 196.6h0M274.6 197.9h0M294.5 208.0h0M290.2 196.3h0M286.1 202.2h0M286.4 205.4h0M281.5 183.5h0M271.5 192.7h0M277.4 202.9h0M291.4 198.6h0M288.3 199.1h0M286.3 195.5h0M283.0 206.3h0M283.7 198.3h0M292.1 205.0h0M283.0 200.3h0M279.5 199.5h0M287.1 198.6h0M286.2 201.0h0M270.9 193.2h0M285.7 195.4h0M279.8 197.1h0M294.4 197.1h0M281.6 195.5h0M278.5 201.8h0M279.7 204.5h0M290.4 202.3h0M291.2 198.0h0M275.3 198.2h0M288.9 188.5h0M278.3 205.7h0M287.8 207.4h0M289.1 199.0h0M287.7 204.1h0M285.1 197.2h0M287.1 196.6h0M299.0 193.6h0M276.6 190.2h0M291.2 196.0h0M286.2 197.2h0M286.9 189.2h0M285.8 194.9h0M291.5 202.7h0M278.1 192.3h0M288.5 206.4h0M289.7 197.6h0M291.6 183.3h0M282.2 192.3h0M279.4 202.3h0M286.9 200.5h0M284.5 202.6h0M289.7 194.9h0M290.6 192.6h0M295.3 190.1h0M283.6 191.5h0M285.5 207.2h0M281.0 210.2h0M293.4 201.1h0M281.9 204.5h0M268.9 193.6h0M290.8 198.3h0" stroke="#555" stroke-width="0.44" stroke-linecap="round" opacity="0.4" fill="none"/>
<path d="M305.4 193.7h0M292.9 196.8h0M299.2 209.7h0M291.4 199.3h0M301.4 193.7h0M295.7 190.0h0M299.8 203.8h0M299.2 199.9h0M300.5 197.4h0M299.6 203.7h0M301.5 201.7h0M297.5 203.0h0M292.1 186.3h0M302.6 199.1h0M293.8 194.3h0M296.7 198.7h0M294.7 204.9h0M291.6 217.1h0M293.7 209.4h0M299.5 186.8h0M293.2 198.6h0M298.1 195.3h0M297.3 199.3h0M293.4 198.6h0M304.8 193.8h0M293.9 202.7h0M301.7 205.3h0M295.1 197.7h0M297.9 196.8h0M298.6 205.5h0M299.1 198.1h0M296.6 210.3h0M293.1 211.8h0M299.7 198.8h0M294.8 210.6h0M301.3 204.4h0M304.2 186.0h0M297.6 196.1h0M294.8 198.7h0M299.0 201.8h0M296.8 189.2h0M299.1 202.3h0M304.3 204.5h0M297.3 190.4h0M306.4 193.6h0M297.9 203.3h0M298.9 207.2h0M293.8 193.5h0M297.8 189.8h0M295.2 207.6h0M298.2 197.5h0M295.3 198.5h0M297.1 190.9h0M299.9 189.5h0M301.6 195.9h0M289.6 187.7h0M298.2 192.3h0M303.3 207.6h0M304.3 204.3h0M301.8 194.1h0M301.6 195.2h0M297.1 188.9h0M297.4 200.9h0M297.0 190.7h0M300.3 204.4h0M296.9 203.5h0M300.6 191.5h0M297.1 185.5h0M293.7 201.1h0M294.3 200.9h0M298.5 184.1h0M295.6 208.6h0M297.3 199.0h0M294.9 187.3h0M291.8 217.8h0M296.6 192.3h0M297.6 185.0h0M302.0 209.9h0M294.7 200.4h0M294.2 204.1h0M294.4 197.2h0M301.7 201.8h0M296.1 187.8h0M291.8 206.4h0M299.0 198.6h0M301.5 199.2h0M294.8 197.5h0M296.9 198.1h0M305.7 202.2h0M298.2 196.5h0M294.9 191.4h0M290.8 195.0h0M292.1 185.5h0M294.0 184.3h0M301.9 206.7h0M293.9 212.2h0M299.5 180.9h0M297.3 191.4h0M291.3 196.4h0M301.2 201.3h0M292.2 193.7h0M294.6 206.1h0M296.9 191.5h0M294.1 184.7h0M294.4 204.4h0M290.7 199.5h0M296.8 203.8h0M293.3 204.5h0M302.6 213.9h0M291.7 198.0h0M296.5 199.0h0M293.8 204.1h0M305.3 208.6h0M294.0 194.2h0M299.7 199.1h0M294.6 206.7h0M299.0 205.2h0M296.6 207.0h0M295.6 190.5h0M297.2 188.6h0M301.5 203.2h0M291.5 199.4h0M300.1 195.7h0M298.7 194.2h0M297.0 197.6h0M298.9 191.5h0M293.3 200.5h0M295.5 201.8h0M295.5 189.2h0M299.8 200.0h0M299.7 195.9h0M296.0 206.9h0M291.4 210.2h0M299.0 197.8h0M297.5 202.4h0M294.6 200.1h0M293.9 185.5h0M297.9 198.9h0M299.4 202.0h0M299.6 203.7h0M293.6 206.6h0M292.9 202.9h0M300.4 205.2h0M302.5 188.6h0M298.5 201.4h0M301.5 192.0h0M297.3 195.6h0M296.7 197.2h0M296.7 186.0h0" stroke="#555" stroke-width="0.44" stroke-linecap="round" opacity="0.4" fill="none"/>
<path d="M256.5 184C255.1 192 255.1 204 256.7 211C259.7 212 261.3 206 264.3 198.5C263.3 192 261.1 183.5 256.5 184Z" fill="#ececec" stroke="#b0b0b0" stroke-width="0.4" />
<path d="M256.85 185.96C255.76 192.84 255.76 203.16 257.01 209.18C259.35 210.04 260.6 204.88 262.94 198.43C262.16 192.84 260.44 185.53 256.85 185.96Z" fill="#e0e0e0" stroke="#a0a0a0" stroke-width="0.4" />
<path d="M257.2 187.92C256.42 193.68 256.42 202.32 257.32 207.36C259 208.08 259.89 203.76 261.57 198.36C261.01 193.68 259.78 187.56 257.2 187.92Z" fill="#cfcfcf" stroke="#909090" stroke-width="0.4" />
<ellipse cx="257.8" cy="200" rx="1.5" ry="9.4" fill="#a8a8a8" stroke="#808080" stroke-width="0.35" />
<ellipse cx="257.6" cy="201.2" rx="0.75" ry="7.6" fill="#484848" stroke="none" stroke-width="0.4" filter="url(#bs)"/>
<ellipse cx="285.2" cy="198.6" rx="6.6" ry="7.4" fill="#fdfdfd" stroke="#a5a5a5" stroke-width="0.38" />
<ellipse cx="285.2" cy="198.6" rx="4.95" ry="5.55" fill="none" stroke="#9f9f9f" stroke-width="0.38" />
<ellipse cx="285.2" cy="198.6" rx="3.3" ry="3.7" fill="none" stroke="#999999" stroke-width="0.38" />
<ellipse cx="285.2" cy="198.6" rx="1.65" ry="1.85" fill="none" stroke="#939393" stroke-width="0.38" />
<ellipse cx="285.2" cy="198.6" rx="0.66" ry="0.74" fill="#fff" stroke="#a0a0a0" stroke-width="0.3" />
<ellipse cx="297.2" cy="198.2" rx="3.8" ry="8.6" fill="#f4f4f4" stroke="#969696" stroke-width="0.45" />
<ellipse cx="297.2" cy="198.2" rx="2.53" ry="5.73" fill="none" stroke="#8e8e8e" stroke-width="0.45" />
<ellipse cx="297.2" cy="198.2" rx="1.27" ry="2.87" fill="none" stroke="#868686" stroke-width="0.45" />
<ellipse cx="297.1" cy="198.2" rx="1.14" ry="4.3" fill="#fdfdfd" stroke="#a8a8a8" stroke-width="0.3" />
<path d="M197.1 259.3h0M196.1 231.0h0M195.3 253.7h0M194.8 271.3h0M199.8 257.3h0M194.5 262.5h0M195.5 270.4h0M200.3 257.8h0M198.9 252.6h0M192.8 265.4h0M201.8 256.4h0M195.7 244.8h0M203.3 249.4h0M194.5 257.3h0M200.6 259.2h0M197.2 259.0h0M199.6 258.5h0M197.7 258.2h0M194.1 269.3h0M195.3 248.5h0M196.0 259.1h0M199.5 247.3h0M193.6 260.2h0M198.3 250.2h0M194.0 260.2h0M196.8 246.1h0M194.7 270.4h0M194.2 267.0h0M192.9 270.4h0M201.7 253.8h0M195.3 263.7h0M193.7 263.1h0M200.6 260.9h0M198.1 257.6h0M200.0 252.4h0M201.7 258.6h0M196.3 246.0h0M196.0 260.7h0M200.7 246.2h0M196.8 253.4h0M193.8 258.8h0M195.1 265.6h0M191.8 243.5h0M198.7 256.1h0M197.6 251.2h0M194.3 253.0h0M197.0 252.2h0M196.0 252.1h0M197.9 249.9h0M191.3 238.2h0M197.1 259.5h0M199.9 253.0h0M194.0 247.1h0M199.3 253.9h0M200.0 258.2h0M196.4 244.2h0M195.3 265.0h0M195.5 264.1h0M192.6 266.8h0M205.0 267.5h0M198.1 249.1h0M195.7 253.7h0M197.7 243.0h0M194.8 265.0h0M197.6 264.6h0M199.6 249.8h0M193.4 262.4h0M197.3 259.4h0M194.9 266.8h0M198.6 267.7h0M196.2 264.2h0M197.0 251.4h0M197.0 245.8h0M196.7 260.2h0M199.2 250.6h0M193.5 253.1h0M191.4 253.7h0M204.6 259.9h0M195.1 253.5h0M202.2 249.7h0M196.9 258.2h0M195.1 253.2h0M192.5 252.2h0M200.9 269.9h0M196.4 264.3h0M198.5 259.7h0M196.8 268.3h0M198.8 257.0h0M196.5 266.1h0M195.5 253.2h0M196.4 254.9h0M200.7 261.6h0M197.0 254.7h0M201.2 262.2h0M203.1 265.9h0M196.6 254.5h0M196.4 260.2h0M199.4 262.6h0M201.6 246.9h0M197.3 247.7h0M194.3 254.1h0M195.4 251.2h0M192.9 267.7h0M196.3 266.4h0M194.1 240.6h0M195.5 265.7h0M195.6 261.9h0M194.2 269.7h0M198.4 267.0h0M196.4 268.8h0M197.4 255.0h0M195.4 259.2h0M194.6 249.5h0M197.6 264.4h0M196.4 265.4h0M201.7 248.9h0M197.9 251.3h0M195.4 260.2h0M199.6 263.0h0M199.0 273.0h0M196.2 267.4h0M201.3 262.6h0M192.2 257.6h0M196.4 246.1h0M197.0 264.7h0M196.5 257.4h0M201.3 254.0h0M194.6 259.1h0M200.3 263.4h0M197.4 254.9h0M200.7 265.7h0M192.3 261.4h0M198.9 253.9h0M193.6 256.4h0M192.3 263.2h0M195.8 245.0h0M197.1 268.0h0M193.6 256.0h0M202.3 260.2h0M195.6 260.3h0M199.4 250.9h0M196.9 246.0h0M192.8 246.8h0M199.6 261.2h0M199.3 268.3h0M197.3 260.6h0M198.3 262.4h0M194.2 256.6h0M196.8 259.1h0M195.1 257.7h0M198.0 260.2h0M198.9 265.2h0M198.8 266.3h0M199.6 269.7h0M199.0 253.9h0M203.7 267.6h0M200.7 264.5h0M197.3 249.8h0M198.4 256.0h0M196.1 242.1h0M201.5 249.7h0M194.1 262.4h0M198.8 252.6h0M197.2 260.8h0M197.6 262.9h0M199.4 255.9h0M192.6 275.7h0M196.1 251.0h0M199.3 263.4h0M195.5 277.2h0M197.1 261.2h0M198.1 257.0h0M198.1 248.6h0M196.1 273.3h0M199.7 255.6h0M195.6 247.1h0M196.9 257.4h0M195.4 246.6h0M197.6 262.1h0M200.4 262.8h0M201.5 268.2h0M196.9 250.6h0M198.4 266.3h0M192.8 249.1h0M199.1 254.5h0M201.3 260.5h0M195.7 248.4h0M198.9 245.3h0M193.5 248.5h0M202.0 272.1h0M196.6 255.8h0M199.2 268.5h0M194.9 276.0h0M196.6 267.6h0M195.2 274.3h0M196.6 248.8h0M202.7 253.4h0M197.2 249.0h0M199.1 260.3h0M196.4 255.6h0M195.6 253.2h0M193.2 268.2h0M199.7 247.9h0M193.9 262.0h0M203.6 257.2h0M196.3 256.8h0M197.9 257.4h0M200.2 266.5h0M198.7 271.1h0M196.5 254.5h0M205.6 243.7h0M192.8 240.3h0M198.2 250.4h0M200.2 242.4h0M196.8 255.7h0M194.2 267.5h0M196.1 262.3h0M195.7 260.0h0M195.9 259.4h0M196.9 253.5h0M198.4 257.3h0M194.5 250.6h0M198.4 269.2h0M193.5 255.5h0M198.5 266.9h0M199.2 249.5h0M197.3 265.8h0M197.9 257.0h0M193.9 260.1h0M197.0 259.0h0M201.4 268.1h0M195.0 260.6h0M196.3 259.6h0M201.8 266.0h0M197.3 253.6h0M196.7 261.6h0M195.8 267.4h0M197.3 249.5h0M203.0 236.1h0M196.4 257.8h0M200.0 267.5h0M201.3 271.0h0M198.1 259.7h0M200.1 258.6h0M193.7 255.2h0M199.1 263.6h0M194.1 268.2h0M198.1 247.0h0M198.5 266.7h0M198.7 256.4h0M194.9 267.6h0M197.8 258.7h0M196.1 250.7h0M191.9 256.1h0M200.3 264.8h0M195.3 270.7h0M196.6 250.9h0M199.9 269.6h0M196.1 249.2h0M197.0 239.8h0M197.3 270.7h0M198.0 253.1h0M199.2 254.9h0M200.8 256.0h0M202.9 256.0h0M197.7 251.4h0M193.6 261.5h0M198.2 251.2h0M198.8 255.6h0M195.6 258.2h0M198.3 264.5h0M200.7 261.8h0M195.2 253.4h0M198.2 249.4h0M196.7 255.8h0M196.9 260.2h0M200.1 271.6h0M199.7 266.7h0M194.2 266.9h0M200.8 248.2h0M204.3 254.4h0M197.4 252.5h0M195.6 267.2h0M197.9 255.9h0M200.4 251.5h0M194.8 254.4h0M195.1 264.2h0M196.6 250.6h0M195.9 243.3h0M197.7 259.6h0" stroke="#555" stroke-width="0.44" stroke-linecap="round" opacity="0.4" fill="none"/>
<path d="M210.3 258.2h0M209.0 255.0h0M206.7 260.0h0M199.3 262.0h0M207.5 259.5h0M203.7 268.5h0M206.6 255.8h0M201.5 262.0h0M205.3 255.7h0M202.2 263.6h0M207.1 264.2h0M206.5 253.8h0M211.8 260.8h0M202.7 257.9h0M200.8 263.1h0M204.1 261.5h0M208.2 258.1h0M208.8 258.2h0M199.5 257.4h0M199.5 262.8h0M210.5 256.6h0M210.3 260.4h0M212.5 255.0h0M206.8 254.7h0M202.5 265.6h0M194.5 255.1h0M209.5 262.9h0M201.9 250.0h0M196.3 261.0h0M213.2 263.5h0M202.2 265.5h0M205.5 262.1h0M205.4 266.6h0M203.5 249.4h0M204.7 260.2h0M208.3 256.0h0M205.2 254.1h0M205.2 259.7h0M208.0 266.9h0M194.6 261.7h0M209.2 254.0h0M207.0 259.3h0M200.6 262.6h0M218.1 262.4h0M211.3 264.2h0M205.8 263.8h0M201.8 260.1h0M210.8 265.3h0M204.9 258.0h0M209.4 258.9h0M207.4 263.0h0M202.0 263.3h0M208.9 258.1h0M199.1 256.4h0M206.3 263.6h0M194.8 262.6h0M207.8 254.1h0M211.7 261.1h0M209.2 254.8h0M200.0 263.5h0M215.0 261.0h0M205.4 257.2h0M196.4 263.8h0M206.0 264.9h0M202.3 264.1h0M202.3 262.0h0M214.8 256.1h0M212.0 259.3h0M201.0 260.2h0M210.4 256.0h0M205.0 256.7h0M202.0 258.3h0M211.5 257.0h0M214.0 257.6h0M202.5 264.2h0M215.0 256.3h0M210.1 254.0h0M204.2 257.6h0M210.8 253.6h0M203.6 256.2h0M207.2 253.7h0M198.6 272.2h0M207.9 252.4h0M211.6 253.3h0M195.4 266.9h0M214.0 255.5h0M200.1 261.5h0M218.7 262.0h0M210.5 253.9h0M196.0 261.1h0M212.6 259.9h0M206.6 265.6h0M201.6 264.3h0M211.5 256.5h0M207.3 259.8h0M210.0 254.9h0M205.2 259.7h0M206.8 259.4h0M208.1 258.4h0M203.6 264.0h0M202.8 257.9h0M201.4 254.1h0M209.2 259.1h0M205.8 261.4h0M205.6 262.4h0M217.3 260.9h0M205.0 266.8h0M210.8 251.7h0M214.5 260.3h0M211.6 254.1h0" stroke="#555" stroke-width="0.44" stroke-linecap="round" opacity="0.45" fill="none"/>
<path d="M219.5 257.2h0M224.0 255.6h0M219.9 262.6h0M220.1 259.8h0M219.3 253.7h0M221.9 259.0h0M217.6 262.7h0M224.8 262.4h0M220.6 255.5h0M221.9 260.0h0M221.6 257.4h0M219.0 256.9h0M221.9 257.8h0M227.5 258.5h0M223.6 257.8h0M221.6 256.1h0M220.7 254.4h0M215.6 263.9h0M218.8 260.9h0M221.8 257.5h0M224.5 257.5h0M223.6 258.2h0M225.3 262.6h0M222.4 263.1h0M223.8 264.6h0M221.8 254.2h0M222.9 260.2h0M221.0 258.7h0M221.3 255.2h0M227.7 256.8h0M218.8 254.1h0M219.5 259.3h0M226.9 261.4h0M219.9 255.2h0M218.6 259.1h0M225.0 257.8h0M227.3 265.9h0M222.7 252.1h0M225.7 259.1h0M224.3 262.7h0M219.0 259.6h0M222.8 256.9h0M224.4 259.0h0M220.9 265.7h0M222.7 264.9h0M221.7 262.9h0M219.8 259.9h0M225.6 252.1h0M223.9 258.5h0M225.6 260.0h0M222.0 255.1h0M231.5 256.9h0M221.2 257.0h0M221.2 260.1h0M218.0 262.9h0M221.4 261.4h0M215.5 257.6h0M221.2 258.1h0M220.1 260.4h0M223.5 256.1h0M216.0 261.8h0M221.2 263.0h0M225.0 259.0h0M217.7 258.2h0M219.9 263.5h0M216.8 262.5h0M217.3 257.5h0M217.7 257.1h0M220.8 260.6h0M220.3 261.7h0M227.7 259.9h0M218.5 258.8h0M221.9 258.2h0M225.8 263.3h0M228.5 261.1h0M213.7 258.9h0M224.3 256.7h0M220.3 262.4h0M222.6 255.6h0M220.3 249.1h0M222.2 255.3h0M222.0 255.4h0M219.2 257.7h0M231.0 255.4h0M218.4 257.6h0M225.5 262.1h0M224.4 258.3h0M222.6 256.8h0M221.6 256.7h0M217.6 256.1h0M228.3 260.7h0M219.8 259.0h0M220.7 263.5h0M222.1 257.3h0M224.3 260.5h0M220.0 256.8h0M222.6 253.9h0M219.3 262.8h0M224.9 263.1h0M220.8 257.4h0M221.3 257.8h0M226.2 258.6h0M226.5 257.0h0M223.4 264.8h0M219.8 257.2h0M220.3 254.0h0M221.2 257.2h0M229.1 257.8h0M215.4 262.5h0M225.2 259.3h0M223.1 261.8h0M220.4 259.5h0M222.6 264.9h0M226.6 260.0h0M217.9 262.3h0M222.0 263.3h0M222.3 260.0h0M224.2 256.9h0M220.1 267.1h0M219.4 262.5h0M224.3 262.1h0M226.5 254.9h0M225.2 252.5h0M222.3 260.5h0M225.4 263.0h0M219.2 258.5h0M221.7 257.1h0M219.6 257.2h0M225.8 263.9h0M224.5 265.0h0M222.4 255.7h0M220.1 260.1h0M225.4 263.5h0M219.3 262.6h0M220.5 261.4h0M225.1 264.4h0M220.5 260.2h0M223.5 258.0h0M222.4 261.4h0M217.0 257.2h0M229.4 260.9h0M220.4 253.2h0M219.1 261.1h0M224.3 260.9h0M224.0 257.4h0M227.2 255.6h0M223.8 258.5h0M216.8 262.4h0M221.3 261.8h0M226.2 259.9h0M220.1 258.7h0M221.9 264.2h0M224.9 264.7h0M224.5 256.8h0M225.1 262.6h0M221.8 260.9h0M221.2 255.2h0M221.9 262.0h0M221.0 251.9h0M219.6 263.0h0M222.9 263.2h0M219.8 258.0h0M219.0 256.8h0M223.8 259.9h0M220.6 260.4h0M218.0 258.1h0M217.4 254.4h0M217.9 255.7h0M227.1 264.0h0M226.1 257.4h0M224.1 255.6h0M220.4 260.2h0M217.1 260.1h0M224.1 252.4h0M214.4 258.5h0M221.8 259.9h0M218.6 261.3h0M222.5 256.9h0M227.3 260.3h0M224.5 265.6h0M220.6 258.7h0M216.7 258.6h0M223.5 267.8h0M223.9 260.1h0M218.2 256.5h0M216.3 254.8h0M222.5 260.4h0M219.3 258.7h0M219.6 261.5h0M224.2 257.5h0M220.7 255.3h0M220.7 266.8h0M222.1 262.3h0M224.0 264.4h0M221.1 256.3h0M225.4 262.5h0M220.1 263.1h0M222.1 259.3h0M227.9 261.2h0M223.1 258.3h0" stroke="#555" stroke-width="0.44" stroke-linecap="round" opacity="0.4" fill="none"/>
<path d="M233.9 262.5h0M234.5 256.5h0M234.5 258.6h0M234.2 258.4h0M228.5 253.6h0M232.6 251.7h0M230.0 265.7h0M235.0 257.5h0M234.2 251.6h0M234.0 262.3h0M233.9 254.6h0M235.7 257.2h0M232.2 259.7h0M232.8 265.8h0M233.1 266.1h0M234.5 254.9h0M233.5 259.2h0M236.7 263.3h0M239.3 256.8h0M232.5 266.8h0M231.4 260.2h0M237.1 255.6h0M232.7 256.5h0M234.7 260.3h0M233.4 261.2h0M231.7 257.7h0M234.5 265.7h0M233.4 259.2h0M236.5 259.3h0M236.4 259.8h0M236.1 259.6h0M231.4 256.2h0M234.4 265.3h0M237.7 257.9h0M239.2 255.3h0M231.5 262.1h0M230.0 262.0h0M234.3 261.1h0M230.7 260.3h0M235.6 258.8h0M235.8 259.1h0M234.3 257.9h0M230.4 258.5h0M234.6 256.5h0M229.0 253.8h0M236.5 258.3h0M231.7 263.1h0M233.1 254.0h0M232.5 256.0h0M233.0 255.9h0M233.6 260.5h0M232.2 258.3h0M233.1 261.8h0M231.8 261.5h0M236.3 258.4h0M231.2 258.0h0M229.4 257.2h0M230.7 258.4h0M232.6 260.7h0M233.7 260.4h0M233.4 259.9h0M230.9 261.2h0M236.5 262.7h0M230.4 260.4h0M229.7 261.5h0M233.0 257.5h0M231.8 258.2h0M233.5 255.8h0M233.6 259.9h0M234.7 258.9h0M233.5 266.8h0M235.8 260.1h0M230.3 261.1h0M234.8 250.1h0M233.1 260.3h0M233.6 259.3h0M233.1 263.6h0M234.3 258.1h0M232.9 266.0h0M231.5 257.2h0M234.2 259.5h0M234.2 263.6h0M236.1 260.4h0M233.6 258.8h0M232.9 262.4h0M230.6 255.5h0M232.4 255.8h0M231.8 263.0h0M228.3 260.9h0M230.4 258.2h0M232.1 255.7h0M230.0 259.2h0M226.6 251.9h0M232.6 262.7h0M237.7 258.0h0M231.6 258.0h0M234.6 262.1h0M231.3 260.6h0M233.4 262.8h0M232.5 258.3h0M231.5 254.6h0M234.1 261.4h0M236.1 259.9h0M232.4 255.9h0M230.8 256.6h0M234.2 259.3h0M228.2 258.7h0M232.8 255.5h0M233.4 260.8h0M231.1 254.5h0" stroke="#555" stroke-width="0.44" stroke-linecap="round" opacity="0.4" fill="none"/>
<path d="M193.4 245.3C192 253.3 192 265.3 193.6 272.3C196.6 273.3 198.2 267.3 201.2 259.8C200.2 253.3 198 244.8 193.4 245.3Z" fill="#ececec" stroke="#b0b0b0" stroke-width="0.4" />
<path d="M193.75 247.26C192.66 254.14 192.66 264.46 193.91 270.48C196.25 271.34 197.5 266.18 199.84 259.73C199.06 254.14 197.34 246.83 193.75 247.26Z" fill="#e0e0e0" stroke="#a0a0a0" stroke-width="0.4" />
<path d="M194.1 249.22C193.32 254.98 193.32 263.62 194.22 268.66C195.9 269.38 196.79 265.06 198.47 259.66C197.91 254.98 196.68 248.86 194.1 249.22Z" fill="#cfcfcf" stroke="#909090" stroke-width="0.4" />
<ellipse cx="194.7" cy="261.3" rx="1.5" ry="9.4" fill="#a8a8a8" stroke="#808080" stroke-width="0.35" />
<ellipse cx="194.5" cy="262.5" rx="0.75" ry="7.6" fill="#484848" stroke="none" stroke-width="0.4" filter="url(#bs)"/>
<ellipse cx="222.2" cy="259.4" rx="3.6" ry="3.8" fill="#fdfdfd" stroke="#afafaf" stroke-width="0.38" />
<ellipse cx="222.2" cy="259.4" rx="1.8" ry="1.9" fill="none" stroke="#b7b7b7" stroke-width="0.38" />
<ellipse cx="233.5" cy="259" rx="2.6" ry="4.2" fill="#f4f4f4" stroke="#a8a8a8" stroke-width="0.45" />
<ellipse cx="233.5" cy="259" rx="1.73" ry="2.8" fill="none" stroke="#a0a0a0" stroke-width="0.45" />
<ellipse cx="233.5" cy="259" rx="0.87" ry="1.4" fill="none" stroke="#989898" stroke-width="0.45" />
<ellipse cx="233.4" cy="259" rx="0.78" ry="2.1" fill="#fdfdfd" stroke="#a8a8a8" stroke-width="0.3" />
<path d="M259.4 260.9h0M259.6 270.8h0M260.7 251.0h0M262.4 253.8h0M262.2 259.6h0M263.7 251.0h0M262.3 262.1h0M257.8 264.3h0M266.5 261.6h0M258.1 257.6h0M263.9 260.8h0M264.4 253.7h0M263.9 246.5h0M259.8 256.5h0M258.9 268.4h0M258.6 261.5h0M265.4 265.2h0M259.1 253.1h0M254.7 261.8h0M262.7 267.4h0M260.9 275.6h0M262.4 240.8h0M257.8 265.0h0M259.2 265.3h0M267.4 252.9h0M266.4 258.2h0M256.2 259.6h0M262.8 254.3h0M264.7 252.0h0M259.7 266.0h0M259.7 254.5h0M260.2 263.9h0M265.1 269.4h0M265.5 258.6h0M255.7 258.5h0M259.1 251.0h0M258.8 258.3h0M260.4 266.0h0M257.7 267.8h0M260.4 264.5h0M263.7 249.1h0M264.7 253.2h0M261.4 267.3h0M262.9 246.6h0M260.7 267.7h0M259.9 258.2h0M260.5 271.6h0M258.8 251.4h0M257.2 254.7h0M259.6 261.5h0M260.1 245.4h0M255.9 264.1h0M262.3 248.2h0M262.9 239.8h0M266.8 263.4h0M255.7 262.8h0M260.2 255.3h0M259.3 257.1h0M260.0 251.8h0M258.7 263.2h0M261.8 248.4h0M258.9 271.0h0M262.3 271.7h0M256.5 250.7h0M254.2 243.7h0M259.2 250.6h0M257.2 253.4h0M259.8 265.3h0M261.9 245.1h0M264.5 256.2h0M257.5 258.6h0M259.2 248.0h0M264.7 254.3h0M258.6 263.0h0M265.0 262.6h0M257.8 262.2h0M263.4 261.8h0M262.1 255.1h0M260.1 245.7h0M258.3 249.9h0M260.3 270.5h0M257.7 258.1h0M263.6 252.7h0M258.1 268.3h0M261.3 262.9h0M262.6 253.0h0M260.9 253.7h0M258.3 259.8h0M261.5 248.8h0M258.1 263.6h0M260.8 264.0h0M259.4 252.5h0M262.5 263.5h0M258.2 264.0h0M264.7 256.6h0M257.6 260.8h0M260.5 263.2h0M256.4 260.7h0M262.8 264.3h0M262.1 268.2h0M258.0 268.4h0M260.9 251.0h0M259.5 260.9h0M261.2 269.4h0M260.8 254.8h0M266.4 256.2h0M258.0 266.1h0M259.1 252.6h0M257.3 268.1h0M257.3 259.6h0M259.0 257.3h0M258.0 260.0h0M262.0 267.1h0M259.3 249.7h0M256.1 258.9h0M260.4 259.8h0M256.4 253.8h0M258.2 264.1h0M259.1 263.7h0M261.7 243.8h0M259.6 268.7h0M258.9 259.8h0M259.9 249.2h0M266.4 257.8h0M262.1 255.3h0M264.2 267.8h0M263.6 266.3h0M262.3 269.7h0M261.4 259.9h0M262.6 251.9h0M260.7 253.4h0M259.5 251.4h0M257.9 260.3h0M260.6 265.4h0M260.0 263.8h0M262.2 253.4h0M255.6 253.5h0M259.6 254.7h0M266.5 253.5h0M261.6 252.9h0M262.2 249.0h0M263.0 260.3h0M259.2 249.5h0M265.0 254.4h0M264.3 240.1h0M256.9 273.0h0M265.3 259.0h0M263.1 263.6h0M259.3 259.9h0M257.1 248.4h0M260.6 264.6h0M260.7 249.3h0M262.7 259.6h0M262.4 256.6h0M259.6 267.1h0M264.2 249.5h0M257.2 266.4h0M261.3 259.3h0M257.5 266.8h0M260.8 260.6h0M261.4 254.8h0M261.4 259.9h0M262.3 261.9h0M256.7 253.4h0M259.5 268.0h0M258.5 267.7h0M263.3 265.7h0M266.6 258.8h0M261.2 268.4h0M261.4 266.6h0M259.9 269.9h0M261.3 244.0h0M263.3 257.4h0M257.8 256.6h0M259.5 267.8h0M261.2 258.4h0M260.3 251.9h0M258.5 255.3h0M259.7 249.8h0M259.2 266.7h0M261.6 258.9h0M261.3 257.0h0M257.0 265.8h0M266.6 262.9h0M262.2 278.0h0M256.9 263.0h0M259.3 256.8h0M255.6 258.3h0M261.4 246.5h0M259.7 255.1h0M257.5 263.8h0M264.9 262.2h0M263.2 264.8h0M260.1 263.4h0M264.0 255.6h0M259.9 248.2h0M255.1 252.6h0M262.8 261.7h0M261.0 269.1h0M255.3 269.6h0M260.5 264.9h0M264.2 252.6h0M257.9 262.0h0M260.1 254.4h0M259.9 253.3h0M260.7 255.9h0M265.1 250.8h0M261.9 259.5h0M264.7 251.4h0M259.0 272.3h0M258.5 256.0h0M259.2 251.3h0M263.7 270.6h0M259.9 253.1h0M256.5 264.0h0M258.8 263.2h0M262.1 262.1h0M260.7 258.8h0M259.3 255.5h0M260.7 262.9h0M262.9 257.2h0M263.7 251.7h0M265.7 266.3h0M259.2 280.2h0M264.4 271.2h0M256.9 258.0h0M261.6 267.0h0M260.5 248.9h0M263.7 257.6h0M261.5 256.4h0M260.0 248.3h0M262.2 254.1h0M255.3 262.1h0M260.2 266.3h0M262.6 249.5h0M259.8 258.9h0M260.6 250.8h0M260.5 266.5h0M263.8 270.2h0M262.4 239.4h0M259.5 254.7h0M262.9 258.8h0M261.3 262.6h0M259.7 269.5h0M265.4 265.2h0M258.7 260.8h0M263.0 264.4h0M258.4 266.3h0M262.3 263.4h0M259.1 258.7h0M254.9 258.7h0M259.1 256.6h0M259.5 256.4h0M260.5 259.6h0M258.6 257.9h0M260.0 262.7h0M261.5 256.1h0M258.0 246.2h0M256.8 262.0h0M257.7 271.3h0M259.9 255.9h0M259.9 254.7h0M258.5 259.4h0M256.2 259.9h0M260.0 251.9h0M263.2 261.7h0M263.3 253.7h0M256.8 249.7h0M255.9 244.3h0M264.7 255.2h0M260.8 254.8h0M259.9 271.0h0M255.4 251.3h0M260.7 251.9h0M262.2 268.9h0M262.8 264.7h0M259.8 266.6h0M258.1 249.7h0M259.6 256.9h0M263.7 251.3h0M263.5 252.9h0M256.7 245.8h0M260.2 247.7h0M260.9 259.2h0M259.2 244.0h0M258.8 262.3h0M255.3 264.2h0M260.4 254.7h0M260.9 263.9h0M260.2 252.9h0M262.5 253.6h0M261.3 266.4h0" stroke="#555" stroke-width="0.44" stroke-linecap="round" opacity="0.4" fill="none"/>
<path d="M277.6 266.6h0M275.9 260.0h0M268.5 260.2h0M272.9 272.9h0M273.7 255.6h0M278.9 252.1h0M275.7 253.5h0M263.1 257.0h0M268.0 253.2h0M273.4 258.8h0M277.8 254.7h0M258.8 262.5h0M268.3 263.8h0M255.6 253.7h0M270.2 268.2h0M262.3 250.7h0M267.0 265.8h0M279.2 253.1h0M266.0 251.0h0M264.6 254.9h0M272.3 264.5h0M284.0 257.7h0M274.6 260.3h0M270.5 268.1h0M273.9 266.4h0M271.5 263.3h0M272.8 258.9h0M265.5 257.5h0M269.8 257.6h0M267.7 256.1h0M274.9 258.2h0M269.0 258.3h0M277.6 256.9h0M278.2 255.4h0M278.9 262.1h0M266.8 261.4h0M276.5 255.0h0M268.3 260.7h0M268.5 258.0h0M269.8 260.7h0M274.4 266.0h0M267.8 272.7h0M267.7 267.4h0M268.9 252.7h0M267.1 257.8h0M276.1 250.1h0M265.9 258.7h0M273.7 261.1h0M274.9 258.6h0M268.3 264.8h0M280.0 261.1h0M270.6 255.4h0M282.3 261.1h0M273.4 252.0h0M273.4 270.4h0M268.7 258.4h0M278.9 258.5h0M274.8 268.2h0M262.7 255.5h0M273.8 259.9h0M270.0 258.6h0M270.5 260.9h0M266.9 258.1h0M271.1 254.4h0M272.4 249.3h0M273.6 258.8h0M262.7 265.5h0M262.7 268.7h0M265.4 264.8h0M269.3 266.7h0M268.4 264.0h0M267.8 250.8h0M272.1 261.5h0M272.1 266.9h0M265.3 252.8h0M271.3 256.2h0M269.1 259.3h0M264.8 264.3h0M269.0 267.5h0M271.2 264.1h0M268.0 256.3h0M266.6 255.3h0M272.4 260.0h0M263.3 252.3h0M264.6 251.0h0M264.4 252.4h0M273.9 254.0h0M266.2 258.8h0M269.9 261.2h0M274.3 262.2h0M267.7 265.0h0M271.9 256.1h0M278.7 253.9h0M272.6 265.0h0M270.4 260.9h0M270.5 262.4h0M271.1 259.3h0M273.9 250.7h0M271.2 257.9h0M281.4 260.6h0M265.8 262.3h0M267.4 253.9h0M268.1 261.6h0M276.8 264.1h0M271.1 258.6h0M270.9 264.8h0M269.0 264.6h0M265.0 259.3h0M274.3 262.5h0M270.9 257.0h0M259.1 257.3h0M264.7 257.5h0M279.1 255.8h0M274.8 259.2h0M263.2 259.8h0M274.2 253.9h0M262.8 257.6h0M274.0 256.6h0M272.2 261.4h0M269.8 261.4h0" stroke="#555" stroke-width="0.44" stroke-linecap="round" opacity="0.45" fill="none"/>
<path d="M291.7 259.3h0M286.3 256.8h0M280.3 259.5h0M289.1 257.9h0M276.5 262.4h0M297.9 252.5h0M278.4 260.2h0M287.2 257.1h0M286.3 262.9h0M282.9 261.9h0M285.2 257.2h0M280.9 258.1h0M292.0 263.1h0M285.8 255.4h0M281.7 258.7h0M273.5 259.8h0M286.0 256.0h0M282.0 258.5h0M294.9 261.7h0M288.8 260.1h0M277.2 262.4h0M280.6 254.3h0M288.5 258.8h0M284.4 261.3h0M283.1 261.0h0M291.7 258.9h0M282.4 259.9h0M288.1 258.7h0M284.9 257.9h0M284.0 261.4h0M279.8 259.3h0M276.2 257.8h0M284.9 261.3h0M278.6 259.5h0M279.2 260.7h0M285.9 261.1h0M283.2 255.8h0M281.3 256.0h0M280.6 259.6h0M290.5 258.0h0M280.1 260.4h0M272.8 265.5h0M275.8 262.7h0M289.9 262.5h0M283.8 261.9h0M282.5 262.5h0M280.7 257.5h0M286.5 258.5h0M288.2 257.4h0M285.9 257.0h0M283.8 265.9h0M278.4 256.3h0M275.4 259.2h0M293.5 258.5h0M289.6 259.3h0M280.9 265.5h0M290.5 254.6h0M278.9 261.0h0M288.1 259.2h0M286.2 261.3h0M282.5 262.6h0M279.7 261.9h0M289.5 260.4h0M282.5 259.8h0M272.0 260.5h0M276.5 254.1h0M288.7 257.2h0M286.4 259.9h0M274.6 257.2h0M282.9 261.1h0M284.8 256.2h0M281.4 260.1h0M277.3 258.6h0M281.4 253.8h0M294.1 262.3h0M281.8 262.5h0M278.6 264.1h0M282.3 260.2h0M281.2 260.1h0M286.3 259.9h0M279.8 261.9h0M287.5 259.8h0M290.3 257.7h0M291.5 259.4h0M292.9 258.5h0M283.0 260.4h0M290.5 263.9h0M281.9 257.7h0M288.7 263.3h0M288.3 258.9h0M291.5 259.7h0M285.4 261.6h0M281.2 253.4h0M285.6 261.8h0M286.9 261.3h0M285.3 262.8h0M285.1 264.0h0M284.7 262.1h0M281.3 260.7h0M286.8 260.2h0M293.0 259.9h0M290.7 260.8h0M290.5 257.2h0M282.4 262.5h0M279.9 260.9h0M287.6 260.4h0M286.8 261.3h0M283.1 261.0h0M281.5 258.5h0M275.6 259.5h0M274.9 259.9h0M285.6 256.7h0M284.8 260.6h0M282.5 257.2h0M283.8 261.0h0M289.6 265.3h0M273.4 260.8h0M286.8 258.0h0M286.2 265.7h0M285.0 263.7h0M290.3 258.5h0M271.5 263.1h0M293.0 254.8h0M283.3 257.8h0M285.5 260.0h0M290.8 258.1h0M295.2 255.0h0M285.6 267.4h0M283.9 261.6h0M281.8 269.2h0M289.4 258.8h0M273.7 260.4h0M288.5 254.0h0M281.7 261.4h0M271.0 259.3h0M275.6 256.0h0M286.7 263.0h0M290.9 257.9h0M287.2 254.8h0M276.2 261.4h0M282.2 256.9h0M274.0 259.1h0M296.9 254.1h0M278.6 263.0h0M273.7 258.0h0M284.8 263.0h0M284.0 265.0h0M284.2 259.5h0M286.9 260.8h0M276.0 257.1h0M283.1 260.8h0M277.6 257.8h0M280.3 260.8h0M282.0 261.5h0M286.6 257.2h0M282.7 256.3h0M285.0 262.1h0M278.9 254.8h0M287.3 259.0h0M284.2 261.1h0M286.5 262.4h0M281.8 253.5h0M281.7 258.9h0M282.1 260.9h0M283.0 263.5h0M280.9 259.8h0M282.4 265.8h0M279.1 256.9h0M282.3 262.0h0M284.5 259.3h0M276.2 253.9h0M283.2 259.1h0M294.3 260.9h0M286.8 262.6h0M279.4 256.3h0M282.3 264.0h0M289.9 258.1h0M277.4 262.5h0M290.5 256.7h0M293.4 257.6h0M288.6 259.2h0M282.6 258.1h0M288.3 261.6h0M288.9 259.0h0M279.6 265.9h0M294.0 259.2h0M278.0 264.1h0M285.2 260.0h0M289.2 260.8h0M285.0 265.5h0M273.8 261.6h0M278.9 260.0h0M283.4 260.6h0M270.8 261.8h0M297.5 258.6h0M289.5 261.6h0M286.1 258.4h0M288.0 260.6h0M292.6 262.2h0M280.4 251.4h0" stroke="#555" stroke-width="0.44" stroke-linecap="round" opacity="0.4" fill="none"/>
<path d="M300.1 261.4h0M296.8 256.9h0M302.6 264.9h0M296.6 257.9h0M297.8 265.0h0M297.7 263.3h0M297.0 260.9h0M293.3 259.9h0M296.5 259.1h0M295.8 260.7h0M295.0 258.6h0M293.2 269.0h0M294.2 254.4h0M295.1 257.7h0M293.7 249.3h0M300.5 263.6h0M295.5 261.7h0M293.6 252.7h0M297.2 261.8h0M294.7 259.4h0M288.8 258.9h0M299.0 260.1h0M296.9 261.8h0M291.2 254.1h0M293.2 260.4h0M294.8 251.6h0M298.6 258.6h0M298.9 267.7h0M292.3 254.1h0M299.1 265.2h0M297.4 260.9h0M298.1 262.1h0M293.2 262.5h0M298.9 257.7h0M294.1 257.4h0M294.9 261.6h0M298.3 259.5h0M295.6 252.1h0M295.3 255.3h0M295.0 260.8h0M296.8 273.9h0M294.2 257.2h0M293.5 258.3h0M295.7 263.6h0M291.5 263.2h0M298.0 257.2h0M294.7 260.2h0M297.7 258.7h0M296.0 259.5h0M293.7 260.5h0M297.8 259.6h0M293.5 259.4h0M296.1 260.7h0M295.4 262.8h0M299.1 262.8h0M297.0 264.4h0M296.3 258.7h0M292.8 259.5h0M299.4 255.5h0M298.3 254.2h0M297.1 266.9h0M296.5 254.6h0M297.1 258.8h0M298.4 257.3h0M292.1 257.4h0M297.9 263.6h0M297.1 259.5h0M298.1 258.6h0M295.3 260.3h0M299.1 257.4h0M297.6 256.8h0M294.6 260.1h0M293.1 255.9h0M293.4 256.9h0M294.1 268.9h0M297.9 259.7h0M293.0 249.7h0M297.5 256.8h0M299.0 257.8h0M293.1 256.8h0M292.6 253.6h0M298.2 257.2h0M298.1 257.1h0M295.8 257.2h0M295.0 256.7h0M300.1 259.2h0M291.5 266.3h0M299.5 264.0h0M296.1 258.8h0M295.2 259.9h0M297.6 259.4h0M294.3 255.5h0M300.6 266.3h0M293.3 256.8h0M296.3 261.8h0M296.1 260.4h0M297.3 264.0h0M293.1 263.9h0M297.5 261.6h0M292.6 258.5h0M295.7 262.0h0M298.1 262.2h0M293.1 264.5h0M296.5 263.2h0M296.3 256.6h0M302.9 262.1h0M298.3 257.5h0M295.8 263.9h0M297.5 266.5h0M299.4 255.1h0" stroke="#555" stroke-width="0.44" stroke-linecap="round" opacity="0.4" fill="none"/>
<path d="M256.5 245.3C255.1 253.3 255.1 265.3 256.7 272.3C259.7 273.3 261.3 267.3 264.3 259.8C263.3 253.3 261.1 244.8 256.5 245.3Z" fill="#ececec" stroke="#b0b0b0" stroke-width="0.4" />
<path d="M256.85 247.26C255.76 254.14 255.76 264.46 257.01 270.48C259.35 271.34 260.6 266.18 262.94 259.73C262.16 254.14 260.44 246.83 256.85 247.26Z" fill="#e0e0e0" stroke="#a0a0a0" stroke-width="0.4" />
<path d="M257.2 249.22C256.42 254.98 256.42 263.62 257.32 268.66C259 269.38 259.89 265.06 261.57 259.66C261.01 254.98 259.78 248.86 257.2 249.22Z" fill="#cfcfcf" stroke="#909090" stroke-width="0.4" />
<ellipse cx="257.8" cy="261.3" rx="1.5" ry="9.4" fill="#a8a8a8" stroke="#808080" stroke-width="0.35" />
<ellipse cx="257.6" cy="262.5" rx="0.75" ry="7.6" fill="#484848" stroke="none" stroke-width="0.4" filter="url(#bs)"/>
<ellipse cx="284.4" cy="259.8" rx="6.4" ry="3.2" fill="#fdfdfd" stroke="#afafaf" stroke-width="0.38" />
<ellipse cx="284.4" cy="259.8" rx="3.2" ry="1.6" fill="none" stroke="#b7b7b7" stroke-width="0.38" />
<ellipse cx="296.4" cy="259.4" rx="2.8" ry="5.2" fill="#f4f4f4" stroke="#a8a8a8" stroke-width="0.45" />
<ellipse cx="296.4" cy="259.4" rx="1.87" ry="3.47" fill="none" stroke="#a0a0a0" stroke-width="0.45" />
<ellipse cx="296.4" cy="259.4" rx="0.93" ry="1.73" fill="none" stroke="#989898" stroke-width="0.45" />
<ellipse cx="296.3" cy="259.4" rx="0.84" ry="2.6" fill="#fdfdfd" stroke="#a8a8a8" stroke-width="0.3" />
<rect x="69.3" y="183.3" width="20.2" height="29.2" fill="none" stroke="#707070" stroke-width="0.7" />
<text x="80.3" y="182.1" font-size="8.1" text-anchor="middle" fill="#000" stroke="#000" stroke-width="0.2" >11.3</text>
<rect x="132.4" y="183.3" width="19.5" height="29.2" fill="none" stroke="#707070" stroke-width="0.7" />
<text x="143.5" y="182.1" font-size="8.1" text-anchor="middle" fill="#000" stroke="#000" stroke-width="0.2" >24.9</text>
<rect x="69.3" y="243.2" width="20.2" height="29.1" fill="none" stroke="#707070" stroke-width="0.7" />
<text x="80.3" y="241.8" font-size="8.1" text-anchor="middle" fill="#000" stroke="#000" stroke-width="0.2" >0.83</text>
<rect x="132.4" y="243.2" width="19.5" height="29.1" fill="none" stroke="#707070" stroke-width="0.7" />
<text x="143.3" y="241.8" font-size="8.1" text-anchor="middle" fill="#000" stroke="#000" stroke-width="0.2" >1.71</text>
<rect x="213.1" y="181.4" width="28.8" height="32" fill="none" stroke="#707070" stroke-width="0.7" />
<text x="227.7" y="180.2" font-size="8.1" text-anchor="middle" fill="#000" stroke="#000" stroke-width="0.2" >19.5</text>
<rect x="276.4" y="181.4" width="28.6" height="32" fill="none" stroke="#707070" stroke-width="0.7" />
<text x="291.6" y="180.2" font-size="8.1" text-anchor="middle" fill="#000" stroke="#000" stroke-width="0.2" >21.4</text>
<rect x="213.1" y="241.3" width="28.8" height="32" fill="none" stroke="#707070" stroke-width="0.7" />
<text x="228.1" y="239.9" font-size="8.1" text-anchor="middle" fill="#000" stroke="#000" stroke-width="0.2" >11.9</text>
<rect x="276.4" y="241.3" width="28.6" height="32" fill="none" stroke="#707070" stroke-width="0.7" />
<text x="291.9" y="239.9" font-size="8.1" text-anchor="middle" fill="#000" stroke="#000" stroke-width="0.2" >14.8</text>
<line x1="297.7" y1="213.6" x2="310.6" y2="226.2" stroke="#111" stroke-width="0.7" />
<path d="M312.9 228.4L307.6 226.0L310.2 223.4Z" fill="#111" stroke="none" stroke-width="0.6" />
<line x1="354.6" y1="158.2" x2="354.6" y2="224.1" stroke="#222" stroke-width="0.8" />
<line x1="354.2" y1="223.7" x2="418" y2="223.7" stroke="#222" stroke-width="0.8" />
<line x1="372.5" y1="223.7" x2="372.5" y2="225.3" stroke="#222" stroke-width="0.7" />
<line x1="399.9" y1="223.7" x2="399.9" y2="225.3" stroke="#222" stroke-width="0.7" />
<line x1="353" y1="223.7" x2="354.6" y2="223.7" stroke="#222" stroke-width="0.7" />
<text x="352.4" y="226.01" font-size="6.45" text-anchor="end" fill="#000" stroke="#000" stroke-width="0.14" >0.0</text>
<line x1="353" y1="202" x2="354.6" y2="202" stroke="#222" stroke-width="0.7" />
<text x="352.4" y="204.31" font-size="6.45" text-anchor="end" fill="#000" stroke="#000" stroke-width="0.14" >0.5</text>
<line x1="353" y1="180.3" x2="354.6" y2="180.3" stroke="#222" stroke-width="0.7" />
<text x="352.4" y="182.61" font-size="6.45" text-anchor="end" fill="#000" stroke="#000" stroke-width="0.14" >1.0</text>
<line x1="353" y1="158.6" x2="354.6" y2="158.6" stroke="#222" stroke-width="0.7" />
<text x="352.4" y="160.91" font-size="6.45" text-anchor="end" fill="#000" stroke="#000" stroke-width="0.14" >1.5</text>
<circle cx="359.8" cy="148.5" r="1.65" fill="#000" stroke="none" stroke-width="0" />
<text x="364.4" y="151.15" font-size="7.4" text-anchor="start" fill="#000" stroke="#000" stroke-width="0.16" >WT</text>
<rect x="358.15" y="157.55" width="3.3" height="3.3" fill="#fb2a14" stroke="none" stroke-width="0.8" />
<text x="364.4" y="161.85" font-size="7.4" text-anchor="start" fill="#000" stroke="#000" stroke-width="0.16" >Zeb1-dcKO</text>
<polyline points="372.5,220.66 399.9,218.06" fill="none" stroke="#fb2a14" stroke-width="0.5"/>
<rect x="371.1" y="219.26" width="2.8" height="2.8" fill="#fb2a14" stroke="none" stroke-width="0.8" />
<rect x="398.5" y="216.66" width="2.8" height="2.8" fill="#fb2a14" stroke="none" stroke-width="0.8" />
<polyline points="372.5,198.53 399.9,172.05" fill="none" stroke="#000" stroke-width="0.5"/>
<line x1="372.5" y1="195.13" x2="372.5" y2="201.93" stroke="#000" stroke-width="0.5" />
<line x1="371" y1="195.13" x2="374" y2="195.13" stroke="#000" stroke-width="0.5" />
<line x1="371" y1="201.93" x2="374" y2="201.93" stroke="#000" stroke-width="0.5" />
<circle cx="372.5" cy="198.53" r="1.5" fill="#000" stroke="none" stroke-width="0" />
<circle cx="399.9" cy="172.05" r="1.5" fill="#000" stroke="none" stroke-width="0" />
<text x="370.4" y="190.29" font-size="5" text-anchor="middle" fill="#000" stroke="#000" stroke-width="0.11" >p&lt;0.0001</text>
<text x="399.9" y="169.69" font-size="5" text-anchor="middle" fill="#000" stroke="#000" stroke-width="0.11" >p&lt;0.0001</text>
<text x="341.9" y="188.4" font-size="7.5" text-anchor="middle" stroke="#000" stroke-width="0.16" transform="rotate(-90 341.9 188.4)">%Oxyburst<tspan font-size="5.2" dy="-2.4">+</tspan><tspan dy="2.4">/%Alexa647</tspan><tspan font-size="5.2" dy="-2.4">+</tspan></text>
<line x1="354.6" y1="244.8" x2="354.6" y2="310.4" stroke="#222" stroke-width="0.8" />
<line x1="354.2" y1="310" x2="418" y2="310" stroke="#222" stroke-width="0.8" />
<line x1="372.5" y1="310" x2="372.5" y2="311.6" stroke="#222" stroke-width="0.7" />
<text x="372.5" y="317.61" font-size="6.45" text-anchor="middle" fill="#000" stroke="#000" stroke-width="0.14" >30</text>
<line x1="399.9" y1="310" x2="399.9" y2="311.6" stroke="#222" stroke-width="0.7" />
<text x="399.9" y="317.61" font-size="6.45" text-anchor="middle" fill="#000" stroke="#000" stroke-width="0.14" >90</text>
<line x1="353" y1="310" x2="354.6" y2="310" stroke="#222" stroke-width="0.7" />
<text x="352.4" y="312.31" font-size="6.45" text-anchor="end" fill="#000" stroke="#000" stroke-width="0.14" >0</text>
<line x1="353" y1="288.4" x2="354.6" y2="288.4" stroke="#222" stroke-width="0.7" />
<text x="352.4" y="290.71" font-size="6.45" text-anchor="end" fill="#000" stroke="#000" stroke-width="0.14" >500</text>
<line x1="353" y1="266.8" x2="354.6" y2="266.8" stroke="#222" stroke-width="0.7" />
<text x="352.4" y="269.11" font-size="6.45" text-anchor="end" fill="#000" stroke="#000" stroke-width="0.14" >1000</text>
<line x1="353" y1="245.2" x2="354.6" y2="245.2" stroke="#222" stroke-width="0.7" />
<text x="352.4" y="247.51" font-size="6.45" text-anchor="end" fill="#000" stroke="#000" stroke-width="0.14" >1500</text>
<polyline points="372.5,289.26 399.9,289.7" fill="none" stroke="#fb2a14" stroke-width="0.5"/>
<rect x="371.1" y="287.86" width="2.8" height="2.8" fill="#fb2a14" stroke="none" stroke-width="0.8" />
<rect x="398.5" y="288.3" width="2.8" height="2.8" fill="#fb2a14" stroke="none" stroke-width="0.8" />
<polyline points="372.5,269.39 399.9,267.23" fill="none" stroke="#000" stroke-width="0.5"/>
<circle cx="372.5" cy="269.39" r="1.5" fill="#000" stroke="none" stroke-width="0" />
<circle cx="399.9" cy="267.23" r="1.5" fill="#000" stroke="none" stroke-width="0" />
<text x="372.5" y="266.59" font-size="5" text-anchor="middle" fill="#000" stroke="#000" stroke-width="0.11" >p&lt;0.0001</text>
<text x="401.4" y="265.29" font-size="5" text-anchor="middle" fill="#000" stroke="#000" stroke-width="0.11" >p&lt;0.0001</text>
<text x="335.1" y="274.8" font-size="7.5" text-anchor="middle" stroke="#000" stroke-width="0.16" transform="rotate(-90 335.1 274.8)">Oxyburst MFI in Alexa647<tspan font-size="5.2" dy="-2.4">+</tspan></text>
<text x="386.2" y="325.55" font-size="7.4" text-anchor="middle" fill="#000" stroke="#000" stroke-width="0.16" >Time (min)</text>
<line x1="34" y1="360.5" x2="34" y2="425.8" stroke="#222" stroke-width="0.8" />
<line x1="33.6" y1="425.4" x2="136.8" y2="425.4" stroke="#222" stroke-width="0.8" />
<line x1="34" y1="425.4" x2="34" y2="427" stroke="#222" stroke-width="0.7" />
<text x="34" y="433.31" font-size="6.45" text-anchor="middle" fill="#000" stroke="#000" stroke-width="0.14" >0.0</text>
<line x1="58.4" y1="425.4" x2="58.4" y2="427" stroke="#222" stroke-width="0.7" />
<text x="58.4" y="433.31" font-size="6.45" text-anchor="middle" fill="#000" stroke="#000" stroke-width="0.14" >2.5</text>
<line x1="82.8" y1="425.4" x2="82.8" y2="427" stroke="#222" stroke-width="0.7" />
<text x="82.8" y="433.31" font-size="6.45" text-anchor="middle" fill="#000" stroke="#000" stroke-width="0.14" >5.0</text>
<line x1="107.1" y1="425.4" x2="107.1" y2="427" stroke="#222" stroke-width="0.7" />
<text x="107.1" y="433.31" font-size="6.45" text-anchor="middle" fill="#000" stroke="#000" stroke-width="0.14" >7.5</text>
<line x1="131.2" y1="425.4" x2="131.2" y2="427" stroke="#222" stroke-width="0.7" />
<text x="131.2" y="433.31" font-size="6.45" text-anchor="middle" fill="#000" stroke="#000" stroke-width="0.14" >10.0</text>
<line x1="32.4" y1="425.4" x2="34" y2="425.4" stroke="#222" stroke-width="0.7" />
<text x="31.8" y="427.71" font-size="6.45" text-anchor="end" fill="#000" stroke="#000" stroke-width="0.14" >0</text>
<line x1="32.4" y1="409.27" x2="34" y2="409.27" stroke="#222" stroke-width="0.7" />
<text x="31.8" y="411.58" font-size="6.45" text-anchor="end" fill="#000" stroke="#000" stroke-width="0.14" >20</text>
<line x1="32.4" y1="393.15" x2="34" y2="393.15" stroke="#222" stroke-width="0.7" />
<text x="31.8" y="395.46" font-size="6.45" text-anchor="end" fill="#000" stroke="#000" stroke-width="0.14" >40</text>
<line x1="32.4" y1="377.02" x2="34" y2="377.02" stroke="#222" stroke-width="0.7" />
<text x="31.8" y="379.33" font-size="6.45" text-anchor="end" fill="#000" stroke="#000" stroke-width="0.14" >60</text>
<line x1="32.4" y1="360.9" x2="34" y2="360.9" stroke="#222" stroke-width="0.7" />
<text x="31.8" y="363.21" font-size="6.45" text-anchor="end" fill="#000" stroke="#000" stroke-width="0.14" >80</text>
<text x="82.8" y="441.55" font-size="7.4" text-anchor="middle" fill="#000" stroke="#000" stroke-width="0.16" >HKLM-OVA (×10<tspan font-size="5.03" dy="-2.4">8</tspan><tspan dy="2.4"> bacteria)</tspan></text>
<text x="21.68" y="391.6" font-size="7.5" text-anchor="middle" fill="#000" stroke="#000" stroke-width="0.16" transform="rotate(-90 21.68 391.6)">% Proliferated OT-I</text>
<path d="M34 424L35.2 426.16L32.8 426.16Z" fill="#000" stroke="none" stroke-width="0.6" />
<path d="M34 424.36L35.03 425.4L34 426.44L32.97 425.4Z" fill="#fb2a14" stroke="none" stroke-width="0.6" />
<path d="M58.4 424L59.6 426.16L57.2 426.16Z" fill="#000" stroke="none" stroke-width="0.6" />
<path d="M58.4 424.36L59.43 425.4L58.4 426.44L57.37 425.4Z" fill="#fb2a14" stroke="none" stroke-width="0.6" />
<path d="M82.8 424L84 426.16L81.6 426.16Z" fill="#000" stroke="none" stroke-width="0.6" />
<path d="M82.8 424.36L83.83 425.4L82.8 426.44L81.77 425.4Z" fill="#fb2a14" stroke="none" stroke-width="0.6" />
<path d="M107.1 424L108.3 426.16L105.9 426.16Z" fill="#000" stroke="none" stroke-width="0.6" />
<path d="M107.1 424.36L108.13 425.4L107.1 426.44L106.06 425.4Z" fill="#fb2a14" stroke="none" stroke-width="0.6" />
<path d="M131.2 424L132.4 426.16L130 426.16Z" fill="#000" stroke="none" stroke-width="0.6" />
<path d="M131.2 424.36L132.23 425.4L131.2 426.44L130.16 425.4Z" fill="#fb2a14" stroke="none" stroke-width="0.6" />
<polyline points="34,425.4 58.4,408.47 82.8,402.82 107.1,394.76 131.2,379.44" fill="none" stroke="#fb2a14" stroke-width="0.5"/>
<line x1="58.4" y1="406.67" x2="58.4" y2="410.27" stroke="#fb2a14" stroke-width="0.5" />
<line x1="56.9" y1="406.67" x2="59.9" y2="406.67" stroke="#fb2a14" stroke-width="0.5" />
<line x1="56.9" y1="410.27" x2="59.9" y2="410.27" stroke="#fb2a14" stroke-width="0.5" />
<line x1="82.8" y1="396.82" x2="82.8" y2="408.82" stroke="#fb2a14" stroke-width="0.5" />
<line x1="81.3" y1="396.82" x2="84.3" y2="396.82" stroke="#fb2a14" stroke-width="0.5" />
<line x1="81.3" y1="408.82" x2="84.3" y2="408.82" stroke="#fb2a14" stroke-width="0.5" />
<line x1="107.1" y1="390.36" x2="107.1" y2="399.16" stroke="#fb2a14" stroke-width="0.5" />
<line x1="105.6" y1="390.36" x2="108.6" y2="390.36" stroke="#fb2a14" stroke-width="0.5" />
<line x1="105.6" y1="399.16" x2="108.6" y2="399.16" stroke="#fb2a14" stroke-width="0.5" />
<line x1="131.2" y1="372.94" x2="131.2" y2="385.94" stroke="#fb2a14" stroke-width="0.5" />
<line x1="129.7" y1="372.94" x2="132.7" y2="372.94" stroke="#fb2a14" stroke-width="0.5" />
<line x1="129.7" y1="385.94" x2="132.7" y2="385.94" stroke="#fb2a14" stroke-width="0.5" />
<rect x="32.4" y="423.8" width="3.2" height="3.2" fill="#fb2a14" stroke="none" stroke-width="0.8" />
<rect x="56.8" y="406.87" width="3.2" height="3.2" fill="#fb2a14" stroke="none" stroke-width="0.8" />
<rect x="81.2" y="401.22" width="3.2" height="3.2" fill="#fb2a14" stroke="none" stroke-width="0.8" />
<rect x="105.5" y="393.16" width="3.2" height="3.2" fill="#fb2a14" stroke="none" stroke-width="0.8" />
<rect x="129.6" y="377.84" width="3.2" height="3.2" fill="#fb2a14" stroke="none" stroke-width="0.8" />
<polyline points="34,422.98 58.4,382.67 82.8,378.64 107.1,375.41 131.2,367.35" fill="none" stroke="#000" stroke-width="0.5"/>
<line x1="34" y1="418.98" x2="34" y2="424.98" stroke="#000" stroke-width="0.5" />
<line x1="32.5" y1="418.98" x2="35.5" y2="418.98" stroke="#000" stroke-width="0.5" />
<line x1="32.5" y1="424.98" x2="35.5" y2="424.98" stroke="#000" stroke-width="0.5" />
<line x1="58.4" y1="379.17" x2="58.4" y2="386.17" stroke="#000" stroke-width="0.5" />
<line x1="56.9" y1="379.17" x2="59.9" y2="379.17" stroke="#000" stroke-width="0.5" />
<line x1="56.9" y1="386.17" x2="59.9" y2="386.17" stroke="#000" stroke-width="0.5" />
<line x1="82.8" y1="365.64" x2="82.8" y2="390.14" stroke="#000" stroke-width="0.5" />
<line x1="81.3" y1="365.64" x2="84.3" y2="365.64" stroke="#000" stroke-width="0.5" />
<line x1="81.3" y1="390.14" x2="84.3" y2="390.14" stroke="#000" stroke-width="0.5" />
<line x1="107.1" y1="371.61" x2="107.1" y2="379.21" stroke="#000" stroke-width="0.5" />
<line x1="105.6" y1="371.61" x2="108.6" y2="371.61" stroke="#000" stroke-width="0.5" />
<line x1="105.6" y1="379.21" x2="108.6" y2="379.21" stroke="#000" stroke-width="0.5" />
<line x1="131.2" y1="363.95" x2="131.2" y2="370.75" stroke="#000" stroke-width="0.5" />
<line x1="129.7" y1="363.95" x2="132.7" y2="363.95" stroke="#000" stroke-width="0.5" />
<line x1="129.7" y1="370.75" x2="132.7" y2="370.75" stroke="#000" stroke-width="0.5" />
<circle cx="34" cy="422.98" r="1.6" fill="#000" stroke="none" stroke-width="0" />
<circle cx="58.4" cy="382.67" r="1.6" fill="#000" stroke="none" stroke-width="0" />
<circle cx="82.8" cy="378.64" r="1.6" fill="#000" stroke="none" stroke-width="0" />
<circle cx="107.1" cy="375.41" r="1.6" fill="#000" stroke="none" stroke-width="0" />
<circle cx="131.2" cy="367.35" r="1.6" fill="#000" stroke="none" stroke-width="0" />
<circle cx="25.1" cy="343.1" r="1.65" fill="#000" stroke="none" stroke-width="0" />
<text x="30" y="345.68" font-size="7.2" text-anchor="start" fill="#000" stroke="#000" stroke-width="0.16" >WT</text>
<path d="M25.1 351.1L27 354.52L23.2 354.52Z" fill="#000" stroke="none" stroke-width="0.6" />
<text x="30" y="355.78" font-size="7.2" text-anchor="start" fill="#000" stroke="#000" stroke-width="0.16" >WT + DPI</text>
<rect x="72.85" y="341.45" width="3.3" height="3.3" fill="#fb2a14" stroke="none" stroke-width="0.8" />
<text x="79.6" y="345.68" font-size="7.2" text-anchor="start" fill="#000" stroke="#000" stroke-width="0.16" >Zeb1-dcKO</text>
<path d="M74.5 351.7L76 353.2L74.5 354.69L73 353.2Z" fill="#fb2a14" stroke="none" stroke-width="0.6" />
<text x="79.6" y="355.78" font-size="7.2" text-anchor="start" fill="#000" stroke="#000" stroke-width="0.16" >Zeb1-dcKO + DPI</text>
<line x1="63.6" y1="338.6" x2="63.6" y2="358.6" stroke="#333" stroke-width="0.6" />
<text x="65.72" y="348.6" font-size="4.7" text-anchor="middle" fill="#000" stroke="#000" stroke-width="0.1" transform="rotate(90 65.72 348.6)">p&lt;0.0001</text>
<line x1="139.2" y1="338.6" x2="139.2" y2="358.6" stroke="#333" stroke-width="0.6" />
<text x="142.32" y="348.6" font-size="4.7" text-anchor="middle" fill="#000" stroke="#000" stroke-width="0.1" transform="rotate(90 142.32 348.6)">p&lt;0.0001</text>
<text x="193.8" y="389.41" font-size="9.8" text-anchor="start" fill="#000" stroke="#000" stroke-width="0.22" >WT</text>
<text x="185.4" y="446.31" font-size="9.8" text-anchor="start" fill="#000" stroke="#000" stroke-width="0.22" >Zeb1</text>
<text x="182.6" y="457.71" font-size="9.8" text-anchor="start" fill="#000" stroke="#000" stroke-width="0.22" >-dcKO</text>
<text x="195.4" y="522.31" font-size="9.8" text-anchor="start" fill="#000" stroke="#000" stroke-width="0.22" >WT</text>
<text x="185.4" y="565.51" font-size="9.8" text-anchor="start" fill="#000" stroke="#000" stroke-width="0.22" >Zeb1</text>
<text x="182.6" y="576.71" font-size="9.8" text-anchor="start" fill="#000" stroke="#000" stroke-width="0.22" >-dcKO</text>
<rect x="212" y="352.8" width="181.5" height="129" fill="#f4f4f4" stroke="none" stroke-width="0.8" />
<rect x="212" y="352.8" width="60.1" height="64.3" fill="#040204" stroke="none" stroke-width="0.8" />
<rect x="273" y="352.8" width="60" height="64.3" fill="#040204" stroke="none" stroke-width="0.8" />
<rect x="333.9" y="352.8" width="59.6" height="64.3" fill="#040204" stroke="none" stroke-width="0.8" />
<rect x="212" y="418" width="60.1" height="63.8" fill="#0a0306" stroke="none" stroke-width="0.8" />
<rect x="273" y="418" width="60" height="63.8" fill="#0a0306" stroke="none" stroke-width="0.8" />
<rect x="333.9" y="418" width="59.6" height="63.8" fill="#0a0306" stroke="none" stroke-width="0.8" />
<rect x="273" y="418" width="60" height="30" fill="url(#hz)" stroke="none" stroke-width="0.8" />
<circle cx="233.5" cy="391.8" r="2.4" fill="#1c1ce0" stroke="none" stroke-width="0" opacity="1.0" filter="url(#bl)"/>
<circle cx="233.4" cy="392" r="1.08" fill="#0c0c80" stroke="none" stroke-width="0" opacity="0.7" filter="url(#bs)"/>
<circle cx="235.5" cy="392.6" r="0.6" fill="#a01024" stroke="none" stroke-width="0" opacity="0.65" filter="url(#bs)"/>
<circle cx="233.1" cy="395" r="0.5" fill="#22e830" stroke="none" stroke-width="0" filter="url(#bs)"/>
<circle cx="235" cy="390.4" r="0.4" fill="#22e830" stroke="none" stroke-width="0" filter="url(#bs)"/>
<circle cx="231.4" cy="398.6" r="2.5" fill="#1c1ce0" stroke="none" stroke-width="0" opacity="1.0" filter="url(#bl)"/>
<circle cx="229.6" cy="399.8" r="0.8" fill="#a01024" stroke="none" stroke-width="0" opacity="0.65" filter="url(#bs)"/>
<circle cx="230.1" cy="396.8" r="0.7" fill="#22e830" stroke="none" stroke-width="0" filter="url(#bs)"/>
<circle cx="232.9" cy="398" r="0.6" fill="#22e830" stroke="none" stroke-width="0" filter="url(#bs)"/>
<circle cx="232" cy="400.2" r="0.4" fill="#22e830" stroke="none" stroke-width="0" filter="url(#bs)"/>
<circle cx="250.9" cy="390.6" r="4.6" fill="#4a0a16" stroke="none" stroke-width="0" opacity="0.35" filter="url(#bl)"/>
<circle cx="250.9" cy="390.6" r="3.4" fill="#1a1acc" stroke="none" stroke-width="0" opacity="0.95" filter="url(#bl)"/>
<circle cx="250.8" cy="390.8" r="1.53" fill="#0c0c80" stroke="none" stroke-width="0" opacity="0.7" filter="url(#bs)"/>
<circle cx="250.9" cy="387.2" r="1" fill="#a01024" stroke="none" stroke-width="0" opacity="0.65" filter="url(#bs)"/>
<circle cx="254.1" cy="391.8" r="0.7" fill="#a01024" stroke="none" stroke-width="0" opacity="0.65" filter="url(#bs)"/>
<circle cx="253.9" cy="388" r="0.6" fill="#22e830" stroke="none" stroke-width="0" filter="url(#bs)"/>
<circle cx="249.3" cy="387.4" r="0.5" fill="#22e830" stroke="none" stroke-width="0" filter="url(#bs)"/>
<circle cx="254.3" cy="390.4" r="0.4" fill="#22e830" stroke="none" stroke-width="0" filter="url(#bs)"/>
<circle cx="251.9" cy="387" r="0.5" fill="#22e830" stroke="none" stroke-width="0" filter="url(#bs)"/>
<circle cx="256.2" cy="381" r="4.1" fill="#4a0a16" stroke="none" stroke-width="0" opacity="0.35" filter="url(#bl)"/>
<circle cx="256.2" cy="381" r="2.7" fill="#1c1a70" stroke="none" stroke-width="0" opacity="0.9" filter="url(#bl)"/>
<circle cx="255.4" cy="379.4" r="0.8" fill="#a01024" stroke="none" stroke-width="0" opacity="0.65" filter="url(#bs)"/>
<circle cx="257.6" cy="381.6" r="0.6" fill="#22e830" stroke="none" stroke-width="0" filter="url(#bs)"/>
<circle cx="254.6" cy="383" r="0.5" fill="#22e830" stroke="none" stroke-width="0" filter="url(#bs)"/>
<circle cx="258.8" cy="377.4" r="0.4" fill="#22e830" stroke="none" stroke-width="0" filter="url(#bs)"/>
<circle cx="255.6" cy="380.4" r="0.4" fill="#22e830" stroke="none" stroke-width="0" filter="url(#bs)"/>
<circle cx="255.8" cy="383" r="1.2" fill="#2424d8" stroke="none" stroke-width="0" opacity="1.0" filter="url(#bl)"/>
<circle cx="299.8" cy="392.4" r="1.9" fill="#1c1ce0" stroke="none" stroke-width="0" opacity="1.0" filter="url(#bl)"/>
<circle cx="299.4" cy="389.8" r="0.6" fill="#a01024" stroke="none" stroke-width="0" opacity="0.65" filter="url(#bs)"/>
<circle cx="300.1" cy="392.6" r="0.9" fill="#22e830" stroke="none" stroke-width="0" filter="url(#bs)"/>
<circle cx="299" cy="390.4" r="0.4" fill="#22e830" stroke="none" stroke-width="0" filter="url(#bs)"/>
<circle cx="349.4" cy="387.2" r="2.3" fill="#1c1ce0" stroke="none" stroke-width="0" opacity="1.0" filter="url(#bl)"/>
<circle cx="352.4" cy="385.6" r="0.8" fill="#a01024" stroke="none" stroke-width="0" opacity="0.65" filter="url(#bs)"/>
<circle cx="351.4" cy="385" r="0.6" fill="#22e830" stroke="none" stroke-width="0" filter="url(#bs)"/>
<circle cx="352.2" cy="387.6" r="0.5" fill="#22e830" stroke="none" stroke-width="0" filter="url(#bs)"/>
<circle cx="350.6" cy="390" r="0.5" fill="#22e830" stroke="none" stroke-width="0" filter="url(#bs)"/>
<circle cx="348.8" cy="384.4" r="0.4" fill="#22e830" stroke="none" stroke-width="0" filter="url(#bs)"/>
<circle cx="352.6" cy="383.6" r="0.4" fill="#22e830" stroke="none" stroke-width="0" filter="url(#bs)"/>
<circle cx="231" cy="442.4" r="2.2" fill="#1c1ce0" stroke="none" stroke-width="0" opacity="1.0" filter="url(#bl)"/>
<circle cx="234.6" cy="443.4" r="0.9" fill="#a01024" stroke="none" stroke-width="0" opacity="0.65" filter="url(#bs)"/>
<circle cx="233.6" cy="439.4" r="0.5" fill="#22e830" stroke="none" stroke-width="0" filter="url(#bs)"/>
<circle cx="235.6" cy="439" r="0.4" fill="#22e830" stroke="none" stroke-width="0" filter="url(#bs)"/>
<circle cx="236.6" cy="440.8" r="0.4" fill="#22e830" stroke="none" stroke-width="0" filter="url(#bs)"/>
<circle cx="243.2" cy="450.2" r="2.5" fill="#1818b8" stroke="none" stroke-width="0" opacity="1.0" filter="url(#bl)"/>
<circle cx="245.8" cy="448.6" r="0.8" fill="#a01024" stroke="none" stroke-width="0" opacity="0.65" filter="url(#bs)"/>
<circle cx="245.4" cy="451.8" r="0.4" fill="#22e830" stroke="none" stroke-width="0" filter="url(#bs)"/>
<circle cx="289.2" cy="455.2" r="4.1" fill="#4a0a16" stroke="none" stroke-width="0" opacity="0.35" filter="url(#bl)"/>
<circle cx="289.2" cy="455.2" r="3.3" fill="#1c1ce0" stroke="none" stroke-width="0" opacity="1.0" filter="url(#bl)"/>
<circle cx="289.1" cy="455.4" r="1.48" fill="#0c0c80" stroke="none" stroke-width="0" opacity="0.7" filter="url(#bs)"/>
<circle cx="287.4" cy="451.8" r="0.9" fill="#a01024" stroke="none" stroke-width="0" opacity="0.65" filter="url(#bs)"/>
<circle cx="290.2" cy="451.2" r="0.8" fill="#a01024" stroke="none" stroke-width="0" opacity="0.65" filter="url(#bs)"/>
<circle cx="285" cy="452.4" r="0.7" fill="#22e830" stroke="none" stroke-width="0" filter="url(#bs)"/>
<circle cx="284.6" cy="455.4" r="0.6" fill="#22e830" stroke="none" stroke-width="0" filter="url(#bs)"/>
<circle cx="286.6" cy="449.8" r="0.5" fill="#22e830" stroke="none" stroke-width="0" filter="url(#bs)"/>
<circle cx="288.6" cy="448" r="0.45" fill="#22e830" stroke="none" stroke-width="0" filter="url(#bs)"/>
<circle cx="284.2" cy="450.2" r="0.4" fill="#22e830" stroke="none" stroke-width="0" filter="url(#bs)"/>
<circle cx="292.8" cy="455" r="1.8" fill="#1c1cd0" stroke="none" stroke-width="0" opacity="1.0" filter="url(#bl)"/>
<circle cx="339.4" cy="424.6" r="2.8" fill="#1c1ce0" stroke="none" stroke-width="0" opacity="1.0" filter="url(#bl)"/>
<circle cx="342.2" cy="422.4" r="1" fill="#a01024" stroke="none" stroke-width="0" opacity="0.65" filter="url(#bs)"/>
<circle cx="339.8" cy="420" r="0.6" fill="#22e830" stroke="none" stroke-width="0" filter="url(#bs)"/>
<circle cx="343" cy="424" r="0.5" fill="#22e830" stroke="none" stroke-width="0" filter="url(#bs)"/>
<circle cx="342.2" cy="426.4" r="0.4" fill="#22e830" stroke="none" stroke-width="0" filter="url(#bs)"/>
<circle cx="364.8" cy="463.2" r="2.5" fill="#1c1ce0" stroke="none" stroke-width="0" opacity="1.0" filter="url(#bl)"/>
<circle cx="366.4" cy="463.6" r="0.9" fill="#a01024" stroke="none" stroke-width="0" opacity="0.65" filter="url(#bs)"/>
<circle cx="363.4" cy="465.8" r="0.6" fill="#a01024" stroke="none" stroke-width="0" opacity="0.65" filter="url(#bs)"/>
<circle cx="364" cy="460" r="0.5" fill="#22e830" stroke="none" stroke-width="0" filter="url(#bs)"/>
<circle cx="363.6" cy="464.2" r="0.5" fill="#22e830" stroke="none" stroke-width="0" filter="url(#bs)"/>
<circle cx="365" cy="466.4" r="0.4" fill="#22e830" stroke="none" stroke-width="0" filter="url(#bs)"/>
<rect x="291.1" y="379.5" width="25.6" height="24.6" fill="none" stroke="#dcdcdc" stroke-width="0.6" />
<rect x="355.3" y="450.8" width="25.4" height="24.7" fill="none" stroke="#dcdcdc" stroke-width="0.6" />
<text x="222.4" y="412.24" font-size="4.3" text-anchor="middle" fill="#fff" stroke="#fff" stroke-width="0" font-weight="bold" >10 μm</text>
<line x1="217" y1="414" x2="226.6" y2="414" stroke="#f0f0f0" stroke-width="0.7" />
<text x="288.5" y="412.24" font-size="4.3" text-anchor="middle" fill="#fff" stroke="#fff" stroke-width="0" font-weight="bold" >10 μm</text>
<line x1="283.1" y1="414" x2="292.7" y2="414" stroke="#f0f0f0" stroke-width="0.7" />
<text x="343.6" y="412.24" font-size="4.3" text-anchor="middle" fill="#fff" stroke="#fff" stroke-width="0" font-weight="bold" >10 μm</text>
<line x1="338.2" y1="414" x2="347.8" y2="414" stroke="#f0f0f0" stroke-width="0.7" />
<text x="222.4" y="477.64" font-size="4.3" text-anchor="middle" fill="#fff" stroke="#fff" stroke-width="0" font-weight="bold" >10 μm</text>
<line x1="217" y1="479.4" x2="226.6" y2="479.4" stroke="#f0f0f0" stroke-width="0.7" />
<text x="282" y="477.64" font-size="4.3" text-anchor="middle" fill="#fff" stroke="#fff" stroke-width="0" font-weight="bold" >10 μm</text>
<line x1="276.6" y1="479.4" x2="286.2" y2="479.4" stroke="#f0f0f0" stroke-width="0.7" />
<text x="343.4" y="477.64" font-size="4.3" text-anchor="middle" fill="#fff" stroke="#fff" stroke-width="0" font-weight="bold" >10 μm</text>
<line x1="338" y1="479.4" x2="347.6" y2="479.4" stroke="#f0f0f0" stroke-width="0.7" />
<text x="395.3" y="361.93" font-size="7.35" text-anchor="start" fill="#ea1848" stroke="#ea1848" stroke-width="0" font-weight="bold" >Galectin-3</text>
<text x="395.3" y="370.43" font-size="7.35" text-anchor="start" fill="#2ee62e" stroke="#2ee62e" stroke-width="0" font-weight="bold" >HKLM</text>
<text x="395.3" y="379.13" font-size="7.35" text-anchor="start" fill="#2626ee" stroke="#2626ee" stroke-width="0" font-weight="bold" >DAPI</text>
<rect x="212" y="491.1" width="222" height="105.5" fill="#f4f4f4" stroke="none" stroke-width="0.8" />
<rect x="212.1" y="491.2" width="54.1" height="51.5" fill="#020202" stroke="none" stroke-width="0.8" />
<text x="224" y="538.14" font-size="4.3" text-anchor="middle" fill="#fff" stroke="#fff" stroke-width="0" font-weight="bold" >5 μm</text>
<line x1="218.1" y1="539.9" x2="228.7" y2="539.9" stroke="#f0f0f0" stroke-width="0.7" />
<rect x="268.1" y="491.2" width="53.9" height="51.5" fill="#020202" stroke="none" stroke-width="0.8" />
<text x="280" y="538.14" font-size="4.3" text-anchor="middle" fill="#fff" stroke="#fff" stroke-width="0" font-weight="bold" >5 μm</text>
<line x1="274.1" y1="539.9" x2="284.7" y2="539.9" stroke="#f0f0f0" stroke-width="0.7" />
<rect x="323.8" y="491.2" width="53.8" height="51.5" fill="#020202" stroke="none" stroke-width="0.8" />
<text x="335.7" y="538.14" font-size="4.3" text-anchor="middle" fill="#fff" stroke="#fff" stroke-width="0" font-weight="bold" >5 μm</text>
<line x1="329.8" y1="539.9" x2="340.4" y2="539.9" stroke="#f0f0f0" stroke-width="0.7" />
<rect x="379.4" y="491.2" width="54.5" height="51.5" fill="#020202" stroke="none" stroke-width="0.8" />
<text x="391.3" y="538.14" font-size="4.3" text-anchor="middle" fill="#fff" stroke="#fff" stroke-width="0" font-weight="bold" >5 μm</text>
<line x1="385.4" y1="539.9" x2="396" y2="539.9" stroke="#f0f0f0" stroke-width="0.7" />
<rect x="212.1" y="544.2" width="54.1" height="52.4" fill="#020202" stroke="none" stroke-width="0.8" />
<text x="224" y="592.34" font-size="4.3" text-anchor="middle" fill="#fff" stroke="#fff" stroke-width="0" font-weight="bold" >5 μm</text>
<line x1="218.1" y1="594.1" x2="228.7" y2="594.1" stroke="#f0f0f0" stroke-width="0.7" />
<rect x="268.1" y="544.2" width="53.9" height="52.4" fill="#020202" stroke="none" stroke-width="0.8" />
<text x="280" y="592.34" font-size="4.3" text-anchor="middle" fill="#fff" stroke="#fff" stroke-width="0" font-weight="bold" >5 μm</text>
<line x1="274.1" y1="594.1" x2="284.7" y2="594.1" stroke="#f0f0f0" stroke-width="0.7" />
<rect x="323.8" y="544.2" width="53.8" height="52.4" fill="#020202" stroke="none" stroke-width="0.8" />
<text x="335.7" y="592.34" font-size="4.3" text-anchor="middle" fill="#fff" stroke="#fff" stroke-width="0" font-weight="bold" >5 μm</text>
<line x1="329.8" y1="594.1" x2="340.4" y2="594.1" stroke="#f0f0f0" stroke-width="0.7" />
<rect x="379.4" y="544.2" width="54.5" height="52.4" fill="#020202" stroke="none" stroke-width="0.8" />
<text x="391.3" y="592.34" font-size="4.3" text-anchor="middle" fill="#fff" stroke="#fff" stroke-width="0" font-weight="bold" >5 μm</text>
<line x1="385.4" y1="594.1" x2="396" y2="594.1" stroke="#f0f0f0" stroke-width="0.7" />
<text x="214" y="496.9" font-size="5.3" text-anchor="start" fill="#2030e0" stroke="#2030e0" stroke-width="0" font-weight="bold" style="font-family:'Liberation Serif','Times New Roman',serif" >DAPI</text>
<text x="270" y="496.9" font-size="5.3" text-anchor="start" fill="#2bd62b" stroke="#2bd62b" stroke-width="0" font-weight="bold" style="font-family:'Liberation Serif','Times New Roman',serif" >HKLM</text>
<text x="325.6" y="496.9" font-size="5.3" text-anchor="start" fill="#e01818" stroke="#e01818" stroke-width="0" font-weight="bold" style="font-family:'Liberation Serif','Times New Roman',serif" >Galectin-3</text>
<text x="381" y="496.9" font-size="5.3" text-anchor="start" fill="#ece424" stroke="#ece424" stroke-width="0" font-weight="bold" style="font-family:'Liberation Serif','Times New Roman',serif" >Merge</text>
<ellipse cx="227.7" cy="514.3" rx="3" ry="3.6" fill="#0a1290" stroke="#2438ff" stroke-width="0.9" transform="rotate(-10 227.7 514.3)" filter="url(#bs)"/>
<ellipse cx="233.1" cy="513.9" rx="2.6" ry="3" fill="#0a1290" stroke="#2438ff" stroke-width="0.9" transform="rotate(10 233.1 513.9)" filter="url(#bs)"/>
<ellipse cx="233.3" cy="519.3" rx="2.6" ry="3.2" fill="#0a1290" stroke="#2438ff" stroke-width="0.9" filter="url(#bs)"/>
<ellipse cx="229.1" cy="520.5" rx="3.4" ry="2.8" fill="#0a1290" stroke="#2438ff" stroke-width="0.9" filter="url(#bs)"/>
<ellipse cx="230.1" cy="518.3" rx="1.4" ry="1.6" fill="#3048ff" stroke="none" stroke-width="0.4" opacity="0.9" filter="url(#bs)"/>
<ellipse cx="227.7" cy="512.9" rx="1.2" ry="1" fill="#3048ff" stroke="none" stroke-width="0.4" opacity="0.8" filter="url(#bs)"/>
<ellipse cx="282.4" cy="510" rx="0.9" ry="0.45" fill="#28ea28" stroke="none" stroke-width="0.4" transform="rotate(35 282.4 510)" opacity="1.0" filter="url(#bs)"/>
<ellipse cx="284.4" cy="509.4" rx="0.8" ry="0.45" fill="#28ea28" stroke="none" stroke-width="0.4" transform="rotate(-30 284.4 509.4)" opacity="1.0" filter="url(#bs)"/>
<ellipse cx="287.4" cy="518" rx="2.1" ry="2.4" fill="#28ea28" stroke="none" stroke-width="0.4" opacity="1.0" filter="url(#bs)"/>
<ellipse cx="286.2" cy="517" rx="1.2" ry="1.4" fill="#28ea28" stroke="none" stroke-width="0.4" opacity="1.0" filter="url(#bs)"/>
<ellipse cx="280.6" cy="518.2" rx="0.6" ry="1" fill="#28ea28" stroke="none" stroke-width="0.4" opacity="1.0" filter="url(#bs)"/>
<ellipse cx="340.2" cy="509.6" rx="1.8" ry="0.9" fill="#e81818" stroke="none" stroke-width="0.4" opacity="1.0" filter="url(#bs)"/>
<ellipse cx="339.99" cy="520.56" rx="0.35" ry="0.35" fill="#801010" stroke="none" stroke-width="0.4" opacity="0.6" filter="url(#bs)"/>
<ellipse cx="345.36" cy="514.65" rx="0.35" ry="0.35" fill="#801010" stroke="none" stroke-width="0.4" opacity="0.6" filter="url(#bs)"/>
<ellipse cx="342.68" cy="514.55" rx="0.35" ry="0.35" fill="#801010" stroke="none" stroke-width="0.4" opacity="0.6" filter="url(#bs)"/>
<ellipse cx="345.86" cy="520.16" rx="0.35" ry="0.35" fill="#801010" stroke="none" stroke-width="0.4" opacity="0.6" filter="url(#bs)"/>
<ellipse cx="340.1" cy="519.67" rx="0.35" ry="0.35" fill="#801010" stroke="none" stroke-width="0.4" opacity="0.6" filter="url(#bs)"/>
<ellipse cx="338.93" cy="513.57" rx="0.35" ry="0.35" fill="#801010" stroke="none" stroke-width="0.4" opacity="0.6" filter="url(#bs)"/>
<ellipse cx="341.14" cy="513.68" rx="0.35" ry="0.35" fill="#801010" stroke="none" stroke-width="0.4" opacity="0.6" filter="url(#bs)"/>
<ellipse cx="340.57" cy="520.68" rx="0.35" ry="0.35" fill="#801010" stroke="none" stroke-width="0.4" opacity="0.6" filter="url(#bs)"/>
<ellipse cx="341.77" cy="515.39" rx="0.35" ry="0.35" fill="#801010" stroke="none" stroke-width="0.4" opacity="0.6" filter="url(#bs)"/>
<ellipse cx="338.12" cy="518.02" rx="0.35" ry="0.35" fill="#801010" stroke="none" stroke-width="0.4" opacity="0.6" filter="url(#bs)"/>
<ellipse cx="341.09" cy="521.13" rx="0.35" ry="0.35" fill="#801010" stroke="none" stroke-width="0.4" opacity="0.6" filter="url(#bs)"/>
<ellipse cx="337.71" cy="517.19" rx="0.35" ry="0.35" fill="#801010" stroke="none" stroke-width="0.4" opacity="0.6" filter="url(#bs)"/>
<ellipse cx="394.6" cy="514.3" rx="3" ry="3.6" fill="#1a2ee6" stroke="#2438ff" stroke-width="0.9" transform="rotate(-10 394.6 514.3)" filter="url(#bs)"/>
<ellipse cx="400" cy="513.9" rx="2.6" ry="3" fill="#1a2ee6" stroke="#2438ff" stroke-width="0.9" transform="rotate(10 400 513.9)" filter="url(#bs)"/>
<ellipse cx="400.2" cy="519.3" rx="2.6" ry="3.2" fill="#1a2ee6" stroke="#2438ff" stroke-width="0.9" filter="url(#bs)"/>
<ellipse cx="396" cy="520.5" rx="3.4" ry="2.8" fill="#1a2ee6" stroke="#2438ff" stroke-width="0.9" filter="url(#bs)"/>
<ellipse cx="397" cy="518.3" rx="1.4" ry="1.6" fill="#3048ff" stroke="none" stroke-width="0.4" opacity="0.9" filter="url(#bs)"/>
<ellipse cx="394.6" cy="512.9" rx="1.2" ry="1" fill="#3048ff" stroke="none" stroke-width="0.4" opacity="0.8" filter="url(#bs)"/>
<ellipse cx="394.2" cy="510" rx="0.9" ry="0.45" fill="#28ea28" stroke="none" stroke-width="0.4" transform="rotate(35 394.2 510)" opacity="1.0" filter="url(#bs)"/>
<ellipse cx="396.2" cy="509.4" rx="0.8" ry="0.45" fill="#28ea28" stroke="none" stroke-width="0.4" transform="rotate(-30 396.2 509.4)" opacity="1.0" filter="url(#bs)"/>
<ellipse cx="399.2" cy="518" rx="2.1" ry="2.4" fill="#28ea28" stroke="none" stroke-width="0.4" opacity="1.0" filter="url(#bs)"/>
<ellipse cx="398" cy="517" rx="1.2" ry="1.4" fill="#28ea28" stroke="none" stroke-width="0.4" opacity="1.0" filter="url(#bs)"/>
<ellipse cx="392.4" cy="518.2" rx="0.6" ry="1" fill="#28ea28" stroke="none" stroke-width="0.4" opacity="1.0" filter="url(#bs)"/>
<ellipse cx="396.8" cy="509.6" rx="1.8" ry="0.9" fill="#e81818" stroke="none" stroke-width="0.4" opacity="1.0" filter="url(#bs)"/>
<ellipse cx="397.08" cy="516.39" rx="0.35" ry="0.35" fill="#801010" stroke="none" stroke-width="0.4" opacity="0.6" filter="url(#bs)"/>
<ellipse cx="394.46" cy="516.45" rx="0.35" ry="0.35" fill="#801010" stroke="none" stroke-width="0.4" opacity="0.6" filter="url(#bs)"/>
<ellipse cx="398.03" cy="514.75" rx="0.35" ry="0.35" fill="#801010" stroke="none" stroke-width="0.4" opacity="0.6" filter="url(#bs)"/>
<ellipse cx="395.81" cy="517.74" rx="0.35" ry="0.35" fill="#801010" stroke="none" stroke-width="0.4" opacity="0.6" filter="url(#bs)"/>
<ellipse cx="402" cy="517.34" rx="0.35" ry="0.35" fill="#801010" stroke="none" stroke-width="0.4" opacity="0.6" filter="url(#bs)"/>
<ellipse cx="396.06" cy="513.31" rx="0.35" ry="0.35" fill="#801010" stroke="none" stroke-width="0.4" opacity="0.6" filter="url(#bs)"/>
<ellipse cx="397.78" cy="516.1" rx="0.35" ry="0.35" fill="#801010" stroke="none" stroke-width="0.4" opacity="0.6" filter="url(#bs)"/>
<ellipse cx="393.76" cy="517.27" rx="0.35" ry="0.35" fill="#801010" stroke="none" stroke-width="0.4" opacity="0.6" filter="url(#bs)"/>
<ellipse cx="398.76" cy="516.16" rx="0.35" ry="0.35" fill="#801010" stroke="none" stroke-width="0.4" opacity="0.6" filter="url(#bs)"/>
<ellipse cx="399.95" cy="518.69" rx="0.35" ry="0.35" fill="#801010" stroke="none" stroke-width="0.4" opacity="0.6" filter="url(#bs)"/>
<ellipse cx="393.23" cy="513.44" rx="0.35" ry="0.35" fill="#801010" stroke="none" stroke-width="0.4" opacity="0.6" filter="url(#bs)"/>
<ellipse cx="397.86" cy="518.45" rx="0.35" ry="0.35" fill="#801010" stroke="none" stroke-width="0.4" opacity="0.6" filter="url(#bs)"/>
<ellipse cx="237.2" cy="566.9" rx="3" ry="6.4" fill="#0a1290" stroke="#2438ff" stroke-width="1.0" transform="rotate(-8 237.2 566.9)" filter="url(#bs)"/>
<ellipse cx="224.3" cy="575" rx="5.8" ry="3.6" fill="#0a1290" stroke="#2438ff" stroke-width="1.0" transform="rotate(-22 224.3 575)" filter="url(#bs)"/>
<ellipse cx="237.4" cy="564" rx="1" ry="1.6" fill="#2c40ff" stroke="none" stroke-width="0.4" opacity="0.8" filter="url(#bs)"/>
<ellipse cx="222.7" cy="574.6" rx="2" ry="1.2" fill="#2c40ff" stroke="none" stroke-width="0.4" transform="rotate(-22 222.7 574.6)" opacity="0.8" filter="url(#bs)"/>
<ellipse cx="282.3" cy="558.8" rx="2" ry="1.9" fill="#28ea28" stroke="none" stroke-width="0.4" opacity="1.0" filter="url(#bs)"/>
<ellipse cx="285.9" cy="557.8" rx="0.7" ry="0.6" fill="#28ea28" stroke="none" stroke-width="0.4" opacity="1.0" filter="url(#bs)"/>
<ellipse cx="290.7" cy="568" rx="0.7" ry="1" fill="#28ea28" stroke="none" stroke-width="0.4" transform="rotate(50 290.7 568)" opacity="1.0" filter="url(#bs)"/>
<ellipse cx="284.7" cy="567.8" rx="0.5" ry="1" fill="#28ea28" stroke="none" stroke-width="0.4" transform="rotate(15 284.7 567.8)" opacity="1.0" filter="url(#bs)"/>
<ellipse cx="283.3" cy="571.6" rx="0.8" ry="2.2" fill="#28ea28" stroke="none" stroke-width="0.4" transform="rotate(25 283.3 571.6)" opacity="1.0" filter="url(#bs)"/>
<ellipse cx="287.1" cy="576" rx="0.8" ry="1.9" fill="#28ea28" stroke="none" stroke-width="0.4" transform="rotate(-5 287.1 576)" opacity="1.0" filter="url(#bs)"/>
<ellipse cx="339.57" cy="565.61" rx="0.38" ry="0.38" fill="#b01414" stroke="none" stroke-width="0.4" opacity="0.5566141061718519" filter="url(#bs)"/>
<ellipse cx="341.27" cy="561.58" rx="0.38" ry="0.38" fill="#b01414" stroke="none" stroke-width="0.4" opacity="0.6673732954854665" filter="url(#bs)"/>
<ellipse cx="342.68" cy="574.67" rx="0.38" ry="0.38" fill="#b01414" stroke="none" stroke-width="0.4" opacity="0.6376134213334739" filter="url(#bs)"/>
<ellipse cx="348.03" cy="567.16" rx="0.38" ry="0.38" fill="#b01414" stroke="none" stroke-width="0.4" opacity="0.8318458571955585" filter="url(#bs)"/>
<ellipse cx="350.57" cy="565.92" rx="0.38" ry="0.38" fill="#b01414" stroke="none" stroke-width="0.4" opacity="0.7713512596038525" filter="url(#bs)"/>
<ellipse cx="339.23" cy="567.9" rx="0.38" ry="0.38" fill="#b01414" stroke="none" stroke-width="0.4" opacity="0.7721700611973543" filter="url(#bs)"/>
<ellipse cx="339.22" cy="569.37" rx="0.38" ry="0.38" fill="#b01414" stroke="none" stroke-width="0.4" opacity="0.4201530721625092" filter="url(#bs)"/>
<ellipse cx="337.53" cy="561.67" rx="0.38" ry="0.38" fill="#b01414" stroke="none" stroke-width="0.4" opacity="0.8115868049550562" filter="url(#bs)"/>
<ellipse cx="343.4" cy="570.05" rx="0.38" ry="0.38" fill="#b01414" stroke="none" stroke-width="0.4" opacity="0.7323426782299318" filter="url(#bs)"/>
<ellipse cx="347.15" cy="575.34" rx="0.38" ry="0.38" fill="#b01414" stroke="none" stroke-width="0.4" opacity="0.9064679803893247" filter="url(#bs)"/>
<ellipse cx="340.09" cy="563.86" rx="0.38" ry="0.38" fill="#b01414" stroke="none" stroke-width="0.4" opacity="0.6874098035930789" filter="url(#bs)"/>
<ellipse cx="342.34" cy="561.97" rx="0.38" ry="0.38" fill="#b01414" stroke="none" stroke-width="0.4" opacity="0.7397055870990041" filter="url(#bs)"/>
<ellipse cx="335.67" cy="559.84" rx="0.38" ry="0.38" fill="#b01414" stroke="none" stroke-width="0.4" opacity="0.815677045170259" filter="url(#bs)"/>
<ellipse cx="339.8" cy="560.97" rx="0.38" ry="0.38" fill="#b01414" stroke="none" stroke-width="0.4" opacity="0.8839161465791379" filter="url(#bs)"/>
<ellipse cx="337.6" cy="561.95" rx="0.38" ry="0.38" fill="#b01414" stroke="none" stroke-width="0.4" opacity="0.5363306003676984" filter="url(#bs)"/>
<ellipse cx="345.59" cy="571.39" rx="0.38" ry="0.38" fill="#b01414" stroke="none" stroke-width="0.4" opacity="0.48345920386766467" filter="url(#bs)"/>
<ellipse cx="344.5" cy="566.26" rx="0.38" ry="0.38" fill="#b01414" stroke="none" stroke-width="0.4" opacity="0.8873618362383072" filter="url(#bs)"/>
<ellipse cx="340.82" cy="570.11" rx="0.38" ry="0.38" fill="#b01414" stroke="none" stroke-width="0.4" opacity="0.6963067890879033" filter="url(#bs)"/>
<ellipse cx="336.97" cy="582.74" rx="0.38" ry="0.38" fill="#b01414" stroke="none" stroke-width="0.4" opacity="0.7205547569066597" filter="url(#bs)"/>
<ellipse cx="344.5" cy="569.81" rx="0.38" ry="0.38" fill="#b01414" stroke="none" stroke-width="0.4" opacity="0.4170846157904401" filter="url(#bs)"/>
<ellipse cx="337.59" cy="567.27" rx="0.38" ry="0.38" fill="#b01414" stroke="none" stroke-width="0.4" opacity="0.539529851631354" filter="url(#bs)"/>
<ellipse cx="340.18" cy="561.72" rx="0.38" ry="0.38" fill="#b01414" stroke="none" stroke-width="0.4" opacity="0.8418673779158619" filter="url(#bs)"/>
<ellipse cx="340.8" cy="563.16" rx="0.38" ry="0.38" fill="#b01414" stroke="none" stroke-width="0.4" opacity="0.8479755413746268" filter="url(#bs)"/>
<ellipse cx="344.59" cy="567.74" rx="0.38" ry="0.38" fill="#b01414" stroke="none" stroke-width="0.4" opacity="0.36701198883313907" filter="url(#bs)"/>
<ellipse cx="346.25" cy="564.96" rx="0.38" ry="0.38" fill="#b01414" stroke="none" stroke-width="0.4" opacity="0.8548060679792641" filter="url(#bs)"/>
<ellipse cx="343.57" cy="566.85" rx="0.38" ry="0.38" fill="#b01414" stroke="none" stroke-width="0.4" opacity="0.8900098492149292" filter="url(#bs)"/>
<ellipse cx="347.55" cy="568.11" rx="0.38" ry="0.38" fill="#b01414" stroke="none" stroke-width="0.4" opacity="0.8259041868510579" filter="url(#bs)"/>
<ellipse cx="336.33" cy="574.66" rx="0.38" ry="0.38" fill="#b01414" stroke="none" stroke-width="0.4" opacity="0.8100292773698143" filter="url(#bs)"/>
<ellipse cx="339.08" cy="567.07" rx="0.38" ry="0.38" fill="#b01414" stroke="none" stroke-width="0.4" opacity="0.44556242050189665" filter="url(#bs)"/>
<ellipse cx="345.99" cy="570.16" rx="0.38" ry="0.38" fill="#b01414" stroke="none" stroke-width="0.4" opacity="0.6649006020264078" filter="url(#bs)"/>
<ellipse cx="343.69" cy="573.25" rx="0.38" ry="0.38" fill="#b01414" stroke="none" stroke-width="0.4" opacity="0.39763033585183094" filter="url(#bs)"/>
<ellipse cx="340.28" cy="574.75" rx="0.38" ry="0.38" fill="#b01414" stroke="none" stroke-width="0.4" opacity="0.44077720774673346" filter="url(#bs)"/>
<ellipse cx="340.09" cy="566.58" rx="0.38" ry="0.38" fill="#b01414" stroke="none" stroke-width="0.4" opacity="0.8792277829270229" filter="url(#bs)"/>
<ellipse cx="344" cy="579.36" rx="0.38" ry="0.38" fill="#b01414" stroke="none" stroke-width="0.4" opacity="0.9009505148439892" filter="url(#bs)"/>
<ellipse cx="344.86" cy="566.02" rx="0.38" ry="0.38" fill="#b01414" stroke="none" stroke-width="0.4" opacity="0.7589526907499119" filter="url(#bs)"/>
<ellipse cx="350.71" cy="573.26" rx="0.38" ry="0.38" fill="#b01414" stroke="none" stroke-width="0.4" opacity="0.7653384478037273" filter="url(#bs)"/>
<ellipse cx="343.91" cy="567.69" rx="0.38" ry="0.38" fill="#b01414" stroke="none" stroke-width="0.4" opacity="0.41333380624549804" filter="url(#bs)"/>
<ellipse cx="337.12" cy="577.57" rx="0.38" ry="0.38" fill="#b01414" stroke="none" stroke-width="0.4" opacity="0.8234306579044062" filter="url(#bs)"/>
<ellipse cx="338.98" cy="575.89" rx="0.38" ry="0.38" fill="#b01414" stroke="none" stroke-width="0.4" opacity="0.3563395426903068" filter="url(#bs)"/>
<ellipse cx="338.57" cy="565.48" rx="0.38" ry="0.38" fill="#b01414" stroke="none" stroke-width="0.4" opacity="0.395333861013466" filter="url(#bs)"/>
<ellipse cx="346.61" cy="563.09" rx="0.38" ry="0.38" fill="#b01414" stroke="none" stroke-width="0.4" opacity="0.9474006919949097" filter="url(#bs)"/>
<ellipse cx="338.8" cy="561.1" rx="0.38" ry="0.38" fill="#b01414" stroke="none" stroke-width="0.4" opacity="0.4264800754589557" filter="url(#bs)"/>
<ellipse cx="334.41" cy="568.75" rx="0.38" ry="0.38" fill="#b01414" stroke="none" stroke-width="0.4" opacity="0.6852132415697367" filter="url(#bs)"/>
<ellipse cx="339.42" cy="562.34" rx="0.38" ry="0.38" fill="#b01414" stroke="none" stroke-width="0.4" opacity="0.5648737563355988" filter="url(#bs)"/>
<ellipse cx="344.52" cy="567.28" rx="0.38" ry="0.38" fill="#b01414" stroke="none" stroke-width="0.4" opacity="0.46174176868973316" filter="url(#bs)"/>
<ellipse cx="343.01" cy="568" rx="0.38" ry="0.38" fill="#b01414" stroke="none" stroke-width="0.4" opacity="0.803347038573886" filter="url(#bs)"/>
<ellipse cx="347.57" cy="566.75" rx="0.38" ry="0.38" fill="#b01414" stroke="none" stroke-width="0.4" opacity="0.8483947955575688" filter="url(#bs)"/>
<ellipse cx="343.76" cy="577.36" rx="0.38" ry="0.38" fill="#b01414" stroke="none" stroke-width="0.4" opacity="0.5784322689187757" filter="url(#bs)"/>
<ellipse cx="343.62" cy="563.79" rx="0.38" ry="0.38" fill="#b01414" stroke="none" stroke-width="0.4" opacity="0.5293938364679138" filter="url(#bs)"/>
<ellipse cx="339.47" cy="566.35" rx="0.38" ry="0.38" fill="#b01414" stroke="none" stroke-width="0.4" opacity="0.5051381022289814" filter="url(#bs)"/>
<ellipse cx="404.6" cy="566.9" rx="3" ry="6.4" fill="#1a2ee6" stroke="#2438ff" stroke-width="1.0" transform="rotate(-8 404.6 566.9)" filter="url(#bs)"/>
<ellipse cx="391.7" cy="575" rx="5.8" ry="3.6" fill="#1a2ee6" stroke="#2438ff" stroke-width="1.0" transform="rotate(-22 391.7 575)" filter="url(#bs)"/>
<ellipse cx="394.4" cy="558.8" rx="2" ry="1.9" fill="#28ea28" stroke="none" stroke-width="0.4" opacity="1.0" filter="url(#bs)"/>
<ellipse cx="398" cy="557.8" rx="0.7" ry="0.6" fill="#28ea28" stroke="none" stroke-width="0.4" opacity="1.0" filter="url(#bs)"/>
<ellipse cx="402.8" cy="568" rx="0.7" ry="1" fill="#28ea28" stroke="none" stroke-width="0.4" transform="rotate(50 402.8 568)" opacity="1.0" filter="url(#bs)"/>
<ellipse cx="396.8" cy="567.8" rx="0.5" ry="1" fill="#28ea28" stroke="none" stroke-width="0.4" transform="rotate(15 396.8 567.8)" opacity="1.0" filter="url(#bs)"/>
<ellipse cx="395.4" cy="571.6" rx="0.8" ry="2.2" fill="#28ea28" stroke="none" stroke-width="0.4" transform="rotate(25 395.4 571.6)" opacity="1.0" filter="url(#bs)"/>
<ellipse cx="399.2" cy="576" rx="0.8" ry="1.9" fill="#28ea28" stroke="none" stroke-width="0.4" transform="rotate(-5 399.2 576)" opacity="1.0" filter="url(#bs)"/>
<ellipse cx="398.07" cy="557.4" rx="0.38" ry="0.38" fill="#b01414" stroke="none" stroke-width="0.4" opacity="0.9398239601459619" filter="url(#bs)"/>
<ellipse cx="397.11" cy="562.78" rx="0.38" ry="0.38" fill="#b01414" stroke="none" stroke-width="0.4" opacity="0.6314350536293043" filter="url(#bs)"/>
<ellipse cx="394.86" cy="563.22" rx="0.38" ry="0.38" fill="#b01414" stroke="none" stroke-width="0.4" opacity="0.900446597707812" filter="url(#bs)"/>
<ellipse cx="390.62" cy="561.26" rx="0.38" ry="0.38" fill="#b01414" stroke="none" stroke-width="0.4" opacity="0.6367051253609506" filter="url(#bs)"/>
<ellipse cx="398.18" cy="567.44" rx="0.38" ry="0.38" fill="#b01414" stroke="none" stroke-width="0.4" opacity="0.5444739144047526" filter="url(#bs)"/>
<ellipse cx="398.45" cy="567.09" rx="0.38" ry="0.38" fill="#b01414" stroke="none" stroke-width="0.4" opacity="0.6137305495573717" filter="url(#bs)"/>
<ellipse cx="401.12" cy="569.89" rx="0.38" ry="0.38" fill="#b01414" stroke="none" stroke-width="0.4" opacity="0.8804240714784838" filter="url(#bs)"/>
<ellipse cx="400.53" cy="565.63" rx="0.38" ry="0.38" fill="#b01414" stroke="none" stroke-width="0.4" opacity="0.7027020628211358" filter="url(#bs)"/>
<ellipse cx="397.81" cy="567.16" rx="0.38" ry="0.38" fill="#b01414" stroke="none" stroke-width="0.4" opacity="0.5284542668940454" filter="url(#bs)"/>
<ellipse cx="395.3" cy="565.76" rx="0.38" ry="0.38" fill="#b01414" stroke="none" stroke-width="0.4" opacity="0.6918320638987089" filter="url(#bs)"/>
<ellipse cx="403.54" cy="570.06" rx="0.38" ry="0.38" fill="#b01414" stroke="none" stroke-width="0.4" opacity="0.7168532497957256" filter="url(#bs)"/>
<ellipse cx="400.72" cy="573.61" rx="0.38" ry="0.38" fill="#b01414" stroke="none" stroke-width="0.4" opacity="0.9104532260784042" filter="url(#bs)"/>
<ellipse cx="402.86" cy="562.19" rx="0.38" ry="0.38" fill="#b01414" stroke="none" stroke-width="0.4" opacity="0.6624386970076261" filter="url(#bs)"/>
<ellipse cx="398.99" cy="560.95" rx="0.38" ry="0.38" fill="#b01414" stroke="none" stroke-width="0.4" opacity="0.7740680621343843" filter="url(#bs)"/>
<ellipse cx="395.81" cy="572.02" rx="0.38" ry="0.38" fill="#b01414" stroke="none" stroke-width="0.4" opacity="0.7902794809883115" filter="url(#bs)"/>
<ellipse cx="394.79" cy="563.19" rx="0.38" ry="0.38" fill="#b01414" stroke="none" stroke-width="0.4" opacity="0.5805577868632694" filter="url(#bs)"/>
<ellipse cx="395.91" cy="573.49" rx="0.38" ry="0.38" fill="#b01414" stroke="none" stroke-width="0.4" opacity="0.6175678443645594" filter="url(#bs)"/>
<ellipse cx="395.73" cy="568.95" rx="0.38" ry="0.38" fill="#b01414" stroke="none" stroke-width="0.4" opacity="0.5244009939863614" filter="url(#bs)"/>
<ellipse cx="393.81" cy="558.98" rx="0.38" ry="0.38" fill="#b01414" stroke="none" stroke-width="0.4" opacity="0.4669460436206786" filter="url(#bs)"/>
<ellipse cx="396.39" cy="561.53" rx="0.38" ry="0.38" fill="#b01414" stroke="none" stroke-width="0.4" opacity="0.732253076335164" filter="url(#bs)"/>
<ellipse cx="397.11" cy="562.24" rx="0.38" ry="0.38" fill="#b01414" stroke="none" stroke-width="0.4" opacity="0.35628657338310876" filter="url(#bs)"/>
<ellipse cx="396.15" cy="572.05" rx="0.38" ry="0.38" fill="#b01414" stroke="none" stroke-width="0.4" opacity="0.7277349555468284" filter="url(#bs)"/>
<ellipse cx="403.72" cy="563.42" rx="0.38" ry="0.38" fill="#b01414" stroke="none" stroke-width="0.4" opacity="0.7419009960158476" filter="url(#bs)"/>
<ellipse cx="395.22" cy="574.9" rx="0.38" ry="0.38" fill="#b01414" stroke="none" stroke-width="0.4" opacity="0.42773524747303" filter="url(#bs)"/>
<ellipse cx="402.14" cy="562.79" rx="0.38" ry="0.38" fill="#b01414" stroke="none" stroke-width="0.4" opacity="0.6220971114669087" filter="url(#bs)"/>
<ellipse cx="397.4" cy="560.57" rx="0.38" ry="0.38" fill="#b01414" stroke="none" stroke-width="0.4" opacity="0.9474074791746675" filter="url(#bs)"/>
<ellipse cx="399.95" cy="568.37" rx="0.38" ry="0.38" fill="#b01414" stroke="none" stroke-width="0.4" opacity="0.7068744421270134" filter="url(#bs)"/>
<ellipse cx="399.39" cy="570.91" rx="0.38" ry="0.38" fill="#b01414" stroke="none" stroke-width="0.4" opacity="0.9489463321261375" filter="url(#bs)"/>
<ellipse cx="396.05" cy="566.17" rx="0.38" ry="0.38" fill="#b01414" stroke="none" stroke-width="0.4" opacity="0.5688234128584018" filter="url(#bs)"/>
<ellipse cx="399.42" cy="571.14" rx="0.38" ry="0.38" fill="#b01414" stroke="none" stroke-width="0.4" opacity="0.43093058064955964" filter="url(#bs)"/>
<ellipse cx="404.8" cy="565.68" rx="0.38" ry="0.38" fill="#b01414" stroke="none" stroke-width="0.4" opacity="0.5657754325676447" filter="url(#bs)"/>
<ellipse cx="406.6" cy="576.47" rx="0.38" ry="0.38" fill="#b01414" stroke="none" stroke-width="0.4" opacity="0.8839356286143203" filter="url(#bs)"/>
<ellipse cx="405.01" cy="573.23" rx="0.38" ry="0.38" fill="#b01414" stroke="none" stroke-width="0.4" opacity="0.6808328338763405" filter="url(#bs)"/>
<ellipse cx="402.86" cy="566.44" rx="0.38" ry="0.38" fill="#b01414" stroke="none" stroke-width="0.4" opacity="0.6112998208277785" filter="url(#bs)"/>
<ellipse cx="403.71" cy="567.38" rx="0.38" ry="0.38" fill="#b01414" stroke="none" stroke-width="0.4" opacity="0.49322338793923787" filter="url(#bs)"/>
<ellipse cx="400.88" cy="564.34" rx="0.38" ry="0.38" fill="#b01414" stroke="none" stroke-width="0.4" opacity="0.87975257479841" filter="url(#bs)"/>
<ellipse cx="395.73" cy="575.63" rx="0.38" ry="0.38" fill="#b01414" stroke="none" stroke-width="0.4" opacity="0.7784359324250469" filter="url(#bs)"/>
<ellipse cx="403.3" cy="564.07" rx="0.38" ry="0.38" fill="#b01414" stroke="none" stroke-width="0.4" opacity="0.5661540760956433" filter="url(#bs)"/>
<ellipse cx="398.79" cy="571.01" rx="0.38" ry="0.38" fill="#b01414" stroke="none" stroke-width="0.4" opacity="0.41190093617673984" filter="url(#bs)"/>
<ellipse cx="398.05" cy="571.58" rx="0.38" ry="0.38" fill="#b01414" stroke="none" stroke-width="0.4" opacity="0.8437327327446378" filter="url(#bs)"/>
<ellipse cx="403.25" cy="567.28" rx="0.38" ry="0.38" fill="#b01414" stroke="none" stroke-width="0.4" opacity="0.6545773944137132" filter="url(#bs)"/>
<ellipse cx="402.02" cy="574.09" rx="0.38" ry="0.38" fill="#b01414" stroke="none" stroke-width="0.4" opacity="0.4744038424411346" filter="url(#bs)"/>
<ellipse cx="398.91" cy="563.65" rx="0.38" ry="0.38" fill="#b01414" stroke="none" stroke-width="0.4" opacity="0.877108632926568" filter="url(#bs)"/>
<ellipse cx="398.39" cy="569.26" rx="0.38" ry="0.38" fill="#b01414" stroke="none" stroke-width="0.4" opacity="0.4402251658176772" filter="url(#bs)"/>
<ellipse cx="399.54" cy="569.81" rx="0.38" ry="0.38" fill="#b01414" stroke="none" stroke-width="0.4" opacity="0.5383835176280878" filter="url(#bs)"/>
<ellipse cx="402.43" cy="566.02" rx="0.38" ry="0.38" fill="#b01414" stroke="none" stroke-width="0.4" opacity="0.5862661608826575" filter="url(#bs)"/>
<ellipse cx="399.03" cy="564.84" rx="0.38" ry="0.38" fill="#b01414" stroke="none" stroke-width="0.4" opacity="0.4025692229740361" filter="url(#bs)"/>
<ellipse cx="401.19" cy="563.43" rx="0.38" ry="0.38" fill="#b01414" stroke="none" stroke-width="0.4" opacity="0.4547962643746265" filter="url(#bs)"/>
<ellipse cx="401.4" cy="575.3" rx="0.38" ry="0.38" fill="#b01414" stroke="none" stroke-width="0.4" opacity="0.9365007756582469" filter="url(#bs)"/>
<ellipse cx="394.43" cy="572.15" rx="0.38" ry="0.38" fill="#b01414" stroke="none" stroke-width="0.4" opacity="0.6270473746853192" filter="url(#bs)"/>
<line x1="489.6" y1="356.7" x2="489.6" y2="422" stroke="#222" stroke-width="0.8" />
<line x1="489.2" y1="421.6" x2="546" y2="421.6" stroke="#222" stroke-width="0.8" />
<line x1="505.8" y1="421.6" x2="505.8" y2="423.2" stroke="#222" stroke-width="0.7" />
<text x="505.8" y="430.09" font-size="6.4" text-anchor="middle" fill="#000" stroke="#000" stroke-width="0.14" >WT</text>
<line x1="529.8" y1="421.6" x2="529.8" y2="423.2" stroke="#222" stroke-width="0.7" />
<text x="529.8" y="430.09" font-size="6.4" text-anchor="middle" fill="#000" stroke="#000" stroke-width="0.14" >Zeb1-dcKO</text>
<line x1="488" y1="421.6" x2="489.6" y2="421.6" stroke="#222" stroke-width="0.7" />
<text x="487.4" y="423.91" font-size="6.45" text-anchor="end" fill="#000" stroke="#000" stroke-width="0.14" >0.0</text>
<line x1="488" y1="400.1" x2="489.6" y2="400.1" stroke="#222" stroke-width="0.7" />
<text x="487.4" y="402.41" font-size="6.45" text-anchor="end" fill="#000" stroke="#000" stroke-width="0.14" >0.2</text>
<line x1="488" y1="378.6" x2="489.6" y2="378.6" stroke="#222" stroke-width="0.7" />
<text x="487.4" y="380.91" font-size="6.45" text-anchor="end" fill="#000" stroke="#000" stroke-width="0.14" >0.4</text>
<line x1="488" y1="357.1" x2="489.6" y2="357.1" stroke="#222" stroke-width="0.7" />
<text x="487.4" y="359.41" font-size="6.45" text-anchor="end" fill="#000" stroke="#000" stroke-width="0.14" >0.6</text>
<text x="474.6" y="387.4" font-size="7.55" text-anchor="middle" stroke="#000" stroke-width="0.16" transform="rotate(-90 474.6 387.4)">HKLM<tspan font-size="5.2" dy="-2.4">+</tspan><tspan dy="2.4">Gal-3</tspan><tspan font-size="5.2" dy="-2.4">+</tspan><tspan dy="2.4"> index</tspan></text>
<text x="517.8" y="361.89" font-size="5" text-anchor="middle" fill="#000" stroke="#000" stroke-width="0.11" >p&lt;0.0001</text>
<line x1="505.2" y1="363.9" x2="531.8" y2="363.9" stroke="#555" stroke-width="0.6" />
<line x1="505.8" y1="405.48" x2="505.8" y2="377.53" stroke="#000" stroke-width="0.5" />
<line x1="501.8" y1="405.48" x2="509.8" y2="405.48" stroke="#000" stroke-width="0.5" />
<line x1="501.8" y1="377.53" x2="509.8" y2="377.53" stroke="#000" stroke-width="0.5" />
<line x1="497.6" y1="391.5" x2="514" y2="391.5" stroke="#000" stroke-width="0.5" />
<circle cx="505.8" cy="367.85" r="1.4" fill="#000" stroke="none" stroke-width="0" />
<circle cx="509.1" cy="380.21" r="1.4" fill="#000" stroke="none" stroke-width="0" />
<circle cx="503.2" cy="382.9" r="1.4" fill="#000" stroke="none" stroke-width="0" />
<circle cx="498.5" cy="386.34" r="1.4" fill="#000" stroke="none" stroke-width="0" />
<circle cx="512.8" cy="385.91" r="1.4" fill="#000" stroke="none" stroke-width="0" />
<circle cx="506.5" cy="387.74" r="1.4" fill="#000" stroke="none" stroke-width="0" />
<circle cx="506.5" cy="392.79" r="1.4" fill="#000" stroke="none" stroke-width="0" />
<circle cx="512.8" cy="398.38" r="1.4" fill="#000" stroke="none" stroke-width="0" />
<circle cx="505.8" cy="400.31" r="1.4" fill="#000" stroke="none" stroke-width="0" />
<circle cx="505.8" cy="407.09" r="1.4" fill="#000" stroke="none" stroke-width="0" />
<circle cx="505.8" cy="421.6" r="1.4" fill="#000" stroke="none" stroke-width="0" />
<line x1="529.8" y1="418.38" x2="529.8" y2="411.6" stroke="#fb2a14" stroke-width="0.5" />
<line x1="526" y1="411.6" x2="533.6" y2="411.6" stroke="#fb2a14" stroke-width="0.5" />
<line x1="522.2" y1="418.38" x2="537.4" y2="418.38" stroke="#fb2a14" stroke-width="0.5" />
<rect x="522" y="420.1" width="15.6" height="3" fill="#fb2a14" stroke="none" stroke-width="0.8" />
<rect x="528.4" y="393.33" width="2.8" height="2.8" fill="#fb2a14" stroke="none" stroke-width="0.8" />
<rect x="528.4" y="412.68" width="2.8" height="2.8" fill="#fb2a14" stroke="none" stroke-width="0.8" />
</svg>
</body>
</html>
